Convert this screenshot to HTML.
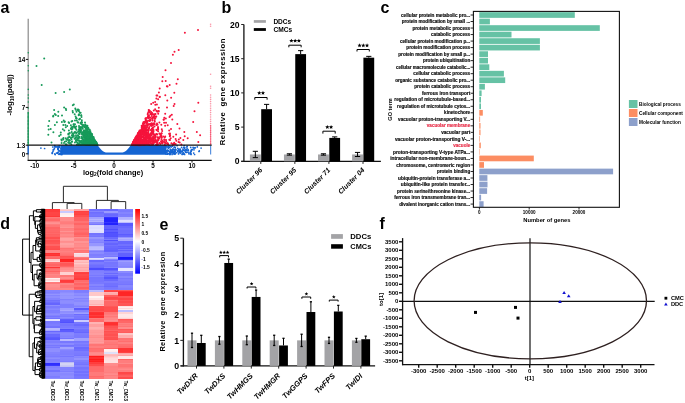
<!DOCTYPE html>
<html><head><meta charset="utf-8"><style>
html,body{margin:0;padding:0;background:#fff;width:685px;height:403px;overflow:hidden}
svg{display:block;will-change:transform}
text{font-family:"Liberation Sans",sans-serif}
</style></head><body>
<svg width="685" height="403" viewBox="0 0 685 403">
<rect width="685" height="403" fill="#fff"/>
<text x="0.60" y="13.00" font-size="16" font-weight="bold" text-anchor="start" fill="#000" >a</text>
<text x="221.40" y="12.90" font-size="16" font-weight="bold" text-anchor="start" fill="#000" >b</text>
<text x="380.60" y="13.00" font-size="16" font-weight="bold" text-anchor="start" fill="#000" >c</text>
<text x="0.30" y="228.60" font-size="16" font-weight="bold" text-anchor="start" fill="#000" >d</text>
<text x="159.60" y="230.20" font-size="16" font-weight="bold" text-anchor="start" fill="#000" >e</text>
<text x="379.40" y="229.00" font-size="16" font-weight="bold" text-anchor="start" fill="#000" >f</text>
<line x1="28.2" y1="18.7" x2="28.2" y2="160.6" stroke="#8a8a8a" stroke-width="1.2"/>
<path d="M61 145.2 H97.7 C100 148.5 103 152.6 107.5 152.6 H121 C125.5 152.6 128.5 148.5 130.7 145.2 H166 V154.7 H61 Z" fill="#1464d2"/>
<g fill="#1464d2"><circle cx="56.6" cy="146.8" r="0.85"/><circle cx="53.0" cy="151.3" r="0.85"/><circle cx="40.9" cy="148.1" r="0.85"/><circle cx="53.2" cy="149.9" r="0.85"/><circle cx="61.9" cy="154.6" r="0.85"/><circle cx="54.4" cy="148.7" r="0.85"/><circle cx="60.9" cy="153.3" r="0.85"/><circle cx="61.5" cy="149.4" r="0.85"/><circle cx="52.4" cy="152.7" r="0.85"/><circle cx="55.7" cy="147.0" r="0.85"/><circle cx="52.7" cy="147.0" r="0.85"/><circle cx="44.6" cy="148.5" r="0.85"/><circle cx="60.9" cy="150.2" r="0.85"/><circle cx="58.5" cy="147.6" r="0.85"/><circle cx="61.1" cy="153.0" r="0.85"/><circle cx="58.0" cy="149.4" r="0.85"/><circle cx="58.0" cy="148.2" r="0.85"/><circle cx="59.2" cy="146.2" r="0.85"/><circle cx="57.6" cy="153.3" r="0.85"/><circle cx="54.8" cy="153.9" r="0.85"/><circle cx="57.7" cy="146.8" r="0.85"/><circle cx="60.9" cy="154.4" r="0.85"/><circle cx="58.9" cy="150.9" r="0.85"/><circle cx="59.0" cy="154.3" r="0.85"/><circle cx="55.2" cy="154.6" r="0.85"/><circle cx="61.2" cy="148.8" r="0.85"/><circle cx="61.0" cy="153.4" r="0.85"/><circle cx="59.9" cy="153.4" r="0.85"/><circle cx="58.2" cy="149.0" r="0.85"/><circle cx="58.1" cy="146.3" r="0.85"/><circle cx="61.9" cy="153.5" r="0.85"/><circle cx="56.4" cy="153.1" r="0.85"/><circle cx="59.5" cy="145.9" r="0.85"/><circle cx="54.6" cy="145.7" r="0.85"/><circle cx="58.8" cy="147.4" r="0.85"/><circle cx="61.1" cy="151.5" r="0.85"/><circle cx="60.9" cy="148.5" r="0.85"/><circle cx="61.1" cy="153.5" r="0.85"/><circle cx="57.8" cy="148.4" r="0.85"/><circle cx="59.1" cy="154.2" r="0.85"/><circle cx="53.7" cy="149.7" r="0.85"/><circle cx="61.8" cy="149.7" r="0.85"/><circle cx="52.3" cy="153.5" r="0.85"/><circle cx="59.1" cy="150.7" r="0.85"/><circle cx="59.9" cy="145.8" r="0.85"/><circle cx="54.4" cy="146.9" r="0.85"/><circle cx="58.3" cy="149.6" r="0.85"/><circle cx="58.8" cy="147.4" r="0.85"/><circle cx="59.1" cy="147.2" r="0.85"/><circle cx="58.1" cy="152.4" r="0.85"/><circle cx="59.9" cy="153.8" r="0.85"/><circle cx="61.3" cy="152.1" r="0.85"/><circle cx="60.0" cy="154.1" r="0.85"/><circle cx="60.2" cy="151.4" r="0.85"/><circle cx="61.8" cy="150.4" r="0.85"/><circle cx="55.5" cy="146.3" r="0.85"/><circle cx="57.5" cy="152.5" r="0.85"/><circle cx="52.3" cy="152.9" r="0.85"/><circle cx="60.0" cy="147.2" r="0.85"/><circle cx="197.3" cy="146.9" r="0.85"/><circle cx="185.6" cy="151.0" r="0.85"/><circle cx="176.0" cy="149.9" r="0.85"/><circle cx="184.5" cy="148.5" r="0.85"/><circle cx="190.3" cy="153.9" r="0.85"/><circle cx="174.3" cy="151.8" r="0.85"/><circle cx="179.6" cy="151.2" r="0.85"/><circle cx="175.3" cy="147.4" r="0.85"/><circle cx="182.9" cy="149.0" r="0.85"/><circle cx="186.7" cy="147.0" r="0.85"/><circle cx="194.8" cy="147.9" r="0.85"/><circle cx="170.2" cy="149.2" r="0.85"/><circle cx="165.7" cy="147.4" r="0.85"/><circle cx="193.1" cy="147.3" r="0.85"/><circle cx="169.4" cy="145.9" r="0.85"/><circle cx="186.1" cy="150.7" r="0.85"/><circle cx="167.5" cy="154.2" r="0.85"/><circle cx="165.5" cy="151.9" r="0.85"/><circle cx="172.4" cy="149.7" r="0.85"/><circle cx="181.6" cy="147.4" r="0.85"/><circle cx="184.2" cy="145.7" r="0.85"/><circle cx="191.2" cy="151.2" r="0.85"/><circle cx="165.9" cy="151.1" r="0.85"/><circle cx="175.5" cy="149.2" r="0.85"/><circle cx="173.0" cy="149.0" r="0.85"/><circle cx="175.3" cy="153.8" r="0.85"/><circle cx="168.1" cy="151.0" r="0.85"/><circle cx="166.8" cy="154.0" r="0.85"/><circle cx="177.1" cy="145.7" r="0.85"/><circle cx="166.8" cy="147.0" r="0.85"/><circle cx="168.0" cy="153.7" r="0.85"/><circle cx="184.6" cy="154.4" r="0.85"/><circle cx="183.7" cy="147.4" r="0.85"/><circle cx="192.4" cy="149.7" r="0.85"/><circle cx="195.1" cy="147.7" r="0.85"/><circle cx="166.6" cy="146.1" r="0.85"/><circle cx="182.4" cy="151.2" r="0.85"/><circle cx="187.2" cy="146.3" r="0.85"/><circle cx="180.3" cy="149.9" r="0.85"/><circle cx="168.0" cy="146.7" r="0.85"/><circle cx="190.6" cy="152.5" r="0.85"/><circle cx="169.0" cy="153.5" r="0.85"/><circle cx="168.4" cy="150.7" r="0.85"/><circle cx="168.1" cy="147.5" r="0.85"/><circle cx="168.4" cy="148.3" r="0.85"/><circle cx="193.5" cy="148.1" r="0.85"/><circle cx="179.7" cy="152.1" r="0.85"/><circle cx="169.8" cy="152.0" r="0.85"/><circle cx="183.0" cy="152.8" r="0.85"/><circle cx="180.0" cy="148.9" r="0.85"/><circle cx="201.1" cy="148.1" r="0.85"/><circle cx="167.6" cy="150.5" r="0.85"/><circle cx="168.4" cy="146.3" r="0.85"/><circle cx="170.9" cy="152.3" r="0.85"/><circle cx="186.4" cy="152.5" r="0.85"/><circle cx="173.4" cy="149.4" r="0.85"/><circle cx="169.7" cy="151.4" r="0.85"/><circle cx="172.4" cy="146.2" r="0.85"/><circle cx="188.9" cy="153.8" r="0.85"/><circle cx="169.5" cy="147.3" r="0.85"/><circle cx="174.7" cy="152.1" r="0.85"/><circle cx="174.2" cy="147.3" r="0.85"/><circle cx="172.1" cy="152.4" r="0.85"/><circle cx="184.8" cy="147.6" r="0.85"/><circle cx="186.6" cy="150.2" r="0.85"/><circle cx="165.4" cy="149.9" r="0.85"/><circle cx="171.4" cy="147.0" r="0.85"/><circle cx="175.6" cy="153.4" r="0.85"/><circle cx="191.1" cy="154.5" r="0.85"/><circle cx="165.1" cy="153.0" r="0.85"/><circle cx="182.1" cy="153.9" r="0.85"/><circle cx="177.8" cy="148.4" r="0.85"/><circle cx="179.7" cy="151.8" r="0.85"/><circle cx="199.0" cy="151.5" r="0.85"/><circle cx="180.5" cy="152.0" r="0.85"/><circle cx="188.1" cy="149.7" r="0.85"/><circle cx="187.1" cy="148.3" r="0.85"/><circle cx="181.1" cy="151.6" r="0.85"/><circle cx="173.2" cy="152.2" r="0.85"/><circle cx="178.6" cy="153.0" r="0.85"/><circle cx="170.8" cy="146.4" r="0.85"/><circle cx="199.3" cy="150.9" r="0.85"/><circle cx="174.3" cy="147.0" r="0.85"/><circle cx="178.6" cy="149.3" r="0.85"/><circle cx="165.8" cy="148.6" r="0.85"/><circle cx="190.7" cy="147.4" r="0.85"/><circle cx="175.0" cy="150.8" r="0.85"/><circle cx="178.5" cy="154.0" r="0.85"/><circle cx="170.6" cy="153.7" r="0.85"/><circle cx="188.0" cy="150.6" r="0.85"/><circle cx="174.5" cy="154.1" r="0.85"/><circle cx="183.9" cy="153.7" r="0.85"/><circle cx="183.1" cy="149.9" r="0.85"/><circle cx="191.5" cy="149.6" r="0.85"/><circle cx="180.4" cy="150.2" r="0.85"/><circle cx="173.7" cy="152.4" r="0.85"/><circle cx="169.8" cy="154.4" r="0.85"/><circle cx="167.3" cy="150.1" r="0.85"/><circle cx="181.6" cy="151.5" r="0.85"/><circle cx="187.9" cy="152.2" r="0.85"/><circle cx="175.1" cy="151.5" r="0.85"/><circle cx="183.7" cy="154.1" r="0.85"/><circle cx="174.9" cy="151.2" r="0.85"/><circle cx="176.8" cy="152.5" r="0.85"/><circle cx="166.0" cy="154.1" r="0.85"/><circle cx="180.6" cy="150.6" r="0.85"/><circle cx="171.7" cy="152.7" r="0.85"/><circle cx="194.0" cy="149.8" r="0.85"/><circle cx="193.7" cy="153.1" r="0.85"/><circle cx="167.6" cy="150.6" r="0.85"/><circle cx="188.4" cy="150.5" r="0.85"/><circle cx="184.5" cy="150.7" r="0.85"/><circle cx="179.5" cy="152.2" r="0.85"/><circle cx="166.5" cy="152.6" r="0.85"/><circle cx="173.3" cy="153.6" r="0.85"/><circle cx="174.4" cy="153.4" r="0.85"/><circle cx="174.2" cy="152.3" r="0.85"/><circle cx="194.6" cy="154.5" r="0.85"/><circle cx="180.2" cy="153.3" r="0.85"/><circle cx="183.3" cy="152.8" r="0.85"/><circle cx="182.2" cy="154.4" r="0.85"/><circle cx="172.8" cy="151.7" r="0.85"/><circle cx="191.0" cy="153.5" r="0.85"/><circle cx="170.9" cy="150.3" r="0.85"/><circle cx="181.4" cy="151.7" r="0.85"/><circle cx="173.7" cy="153.6" r="0.85"/><circle cx="191.1" cy="150.7" r="0.85"/><circle cx="175.3" cy="149.7" r="0.85"/><circle cx="185.5" cy="152.2" r="0.85"/><circle cx="170.7" cy="150.8" r="0.85"/><circle cx="167.0" cy="151.6" r="0.85"/><circle cx="172.1" cy="154.4" r="0.85"/><circle cx="169.8" cy="151.8" r="0.85"/><circle cx="166.3" cy="150.7" r="0.85"/><circle cx="169.7" cy="151.5" r="0.85"/><circle cx="179.0" cy="149.9" r="0.85"/><circle cx="172.6" cy="150.8" r="0.85"/><circle cx="185.2" cy="149.7" r="0.85"/><circle cx="186.4" cy="149.8" r="0.85"/><circle cx="172.1" cy="151.3" r="0.85"/><circle cx="183.1" cy="150.3" r="0.85"/><circle cx="172.1" cy="151.9" r="0.85"/><circle cx="167.4" cy="153.0" r="0.85"/><circle cx="174.1" cy="149.6" r="0.85"/><circle cx="170.1" cy="154.3" r="0.85"/><circle cx="165.7" cy="151.1" r="0.85"/><circle cx="167.7" cy="154.0" r="0.85"/><circle cx="190.4" cy="152.1" r="0.85"/><circle cx="178.0" cy="150.7" r="0.85"/><circle cx="170.0" cy="152.5" r="0.85"/><circle cx="175.3" cy="151.7" r="0.85"/><circle cx="169.5" cy="153.1" r="0.85"/><circle cx="188.9" cy="152.9" r="0.85"/><circle cx="171.8" cy="150.9" r="0.85"/><circle cx="172.5" cy="151.0" r="0.85"/><circle cx="172.1" cy="149.7" r="0.85"/><circle cx="172.7" cy="152.7" r="0.85"/><circle cx="179.1" cy="151.5" r="0.85"/><circle cx="177.7" cy="151.2" r="0.85"/><circle cx="174.2" cy="150.3" r="0.85"/></g>
<g fill="#179a5a"><circle cx="89.8" cy="142.5" r="1.0"/><circle cx="84.5" cy="136.4" r="1.0"/><circle cx="83.0" cy="144.7" r="1.0"/><circle cx="51.5" cy="142.6" r="1.0"/><circle cx="82.7" cy="128.8" r="1.0"/><circle cx="88.6" cy="143.8" r="1.0"/><circle cx="82.4" cy="138.4" r="1.0"/><circle cx="85.8" cy="144.5" r="1.0"/><circle cx="95.6" cy="142.0" r="1.0"/><circle cx="83.7" cy="139.5" r="1.0"/><circle cx="68.4" cy="133.7" r="1.0"/><circle cx="84.3" cy="130.7" r="1.0"/><circle cx="86.5" cy="125.8" r="1.0"/><circle cx="68.8" cy="142.8" r="1.0"/><circle cx="89.7" cy="136.1" r="1.0"/><circle cx="91.6" cy="140.7" r="1.0"/><circle cx="72.8" cy="137.2" r="1.0"/><circle cx="64.8" cy="121.5" r="1.0"/><circle cx="90.7" cy="135.2" r="1.0"/><circle cx="55.8" cy="115.0" r="1.0"/><circle cx="89.5" cy="133.9" r="1.0"/><circle cx="90.6" cy="137.1" r="1.0"/><circle cx="84.1" cy="144.1" r="1.0"/><circle cx="94.0" cy="143.7" r="1.0"/><circle cx="87.3" cy="126.5" r="1.0"/><circle cx="87.2" cy="144.5" r="1.0"/><circle cx="48.3" cy="125.9" r="1.0"/><circle cx="95.2" cy="141.7" r="1.0"/><circle cx="95.7" cy="144.7" r="1.0"/><circle cx="91.6" cy="136.2" r="1.0"/><circle cx="84.3" cy="127.1" r="1.0"/><circle cx="82.0" cy="124.5" r="1.0"/><circle cx="85.2" cy="138.5" r="1.0"/><circle cx="85.2" cy="137.9" r="1.0"/><circle cx="89.4" cy="138.8" r="1.0"/><circle cx="93.4" cy="142.8" r="1.0"/><circle cx="87.2" cy="138.1" r="1.0"/><circle cx="87.7" cy="139.9" r="1.0"/><circle cx="84.2" cy="136.1" r="1.0"/><circle cx="87.3" cy="136.2" r="1.0"/><circle cx="85.2" cy="141.2" r="1.0"/><circle cx="97.0" cy="144.9" r="1.0"/><circle cx="78.7" cy="115.2" r="1.0"/><circle cx="89.9" cy="136.8" r="1.0"/><circle cx="92.0" cy="141.7" r="1.0"/><circle cx="92.0" cy="141.9" r="1.0"/><circle cx="90.7" cy="144.9" r="1.0"/><circle cx="93.7" cy="141.8" r="1.0"/><circle cx="94.6" cy="142.5" r="1.0"/><circle cx="90.9" cy="134.1" r="1.0"/><circle cx="80.7" cy="141.3" r="1.0"/><circle cx="86.6" cy="127.5" r="1.0"/><circle cx="73.2" cy="135.5" r="1.0"/><circle cx="95.3" cy="142.7" r="1.0"/><circle cx="83.1" cy="143.3" r="1.0"/><circle cx="94.0" cy="143.4" r="1.0"/><circle cx="78.1" cy="135.7" r="1.0"/><circle cx="94.1" cy="143.9" r="1.0"/><circle cx="92.6" cy="142.1" r="1.0"/><circle cx="90.5" cy="140.4" r="1.0"/><circle cx="96.8" cy="143.7" r="1.0"/><circle cx="69.4" cy="140.1" r="1.0"/><circle cx="85.1" cy="142.9" r="1.0"/><circle cx="85.8" cy="135.1" r="1.0"/><circle cx="93.4" cy="141.0" r="1.0"/><circle cx="90.4" cy="137.2" r="1.0"/><circle cx="78.6" cy="144.7" r="1.0"/><circle cx="61.9" cy="122.1" r="1.0"/><circle cx="93.4" cy="137.4" r="1.0"/><circle cx="93.8" cy="143.4" r="1.0"/><circle cx="89.4" cy="138.6" r="1.0"/><circle cx="89.4" cy="136.3" r="1.0"/><circle cx="81.8" cy="127.4" r="1.0"/><circle cx="93.7" cy="141.1" r="1.0"/><circle cx="87.7" cy="129.9" r="1.0"/><circle cx="68.6" cy="122.3" r="1.0"/><circle cx="89.6" cy="145.1" r="1.0"/><circle cx="94.8" cy="144.4" r="1.0"/><circle cx="89.3" cy="138.2" r="1.0"/><circle cx="90.4" cy="131.2" r="1.0"/><circle cx="95.9" cy="143.5" r="1.0"/><circle cx="58.3" cy="111.7" r="1.0"/><circle cx="91.0" cy="138.6" r="1.0"/><circle cx="86.8" cy="141.2" r="1.0"/><circle cx="93.7" cy="140.9" r="1.0"/><circle cx="90.4" cy="143.9" r="1.0"/><circle cx="94.6" cy="140.5" r="1.0"/><circle cx="87.6" cy="141.0" r="1.0"/><circle cx="81.7" cy="140.8" r="1.0"/><circle cx="90.9" cy="139.9" r="1.0"/><circle cx="86.9" cy="134.2" r="1.0"/><circle cx="92.2" cy="139.5" r="1.0"/><circle cx="91.3" cy="134.3" r="1.0"/><circle cx="77.0" cy="140.3" r="1.0"/><circle cx="76.2" cy="141.0" r="1.0"/><circle cx="91.0" cy="142.0" r="1.0"/><circle cx="79.3" cy="130.1" r="1.0"/><circle cx="79.7" cy="131.0" r="1.0"/><circle cx="92.7" cy="137.6" r="1.0"/><circle cx="96.3" cy="145.1" r="1.0"/><circle cx="96.6" cy="144.4" r="1.0"/><circle cx="85.5" cy="125.6" r="1.0"/><circle cx="87.6" cy="128.6" r="1.0"/><circle cx="76.0" cy="135.2" r="1.0"/><circle cx="79.4" cy="136.9" r="1.0"/><circle cx="84.0" cy="132.0" r="1.0"/><circle cx="85.9" cy="144.2" r="1.0"/><circle cx="94.1" cy="144.5" r="1.0"/><circle cx="86.5" cy="129.0" r="1.0"/><circle cx="88.3" cy="142.6" r="1.0"/><circle cx="91.3" cy="140.4" r="1.0"/><circle cx="91.0" cy="140.9" r="1.0"/><circle cx="63.1" cy="138.7" r="1.0"/><circle cx="89.4" cy="132.7" r="1.0"/><circle cx="80.5" cy="132.3" r="1.0"/><circle cx="85.6" cy="139.3" r="1.0"/><circle cx="96.0" cy="143.7" r="1.0"/><circle cx="78.3" cy="122.6" r="1.0"/><circle cx="89.7" cy="133.4" r="1.0"/><circle cx="89.3" cy="142.9" r="1.0"/><circle cx="86.7" cy="142.9" r="1.0"/><circle cx="85.8" cy="141.8" r="1.0"/><circle cx="79.9" cy="127.6" r="1.0"/><circle cx="96.2" cy="142.8" r="1.0"/><circle cx="93.7" cy="140.6" r="1.0"/><circle cx="83.3" cy="141.3" r="1.0"/><circle cx="86.6" cy="139.1" r="1.0"/><circle cx="72.4" cy="128.8" r="1.0"/><circle cx="83.5" cy="139.3" r="1.0"/><circle cx="84.0" cy="140.7" r="1.0"/><circle cx="92.4" cy="139.2" r="1.0"/><circle cx="81.3" cy="133.9" r="1.0"/><circle cx="85.7" cy="127.5" r="1.0"/><circle cx="94.5" cy="142.4" r="1.0"/><circle cx="65.8" cy="127.2" r="1.0"/><circle cx="84.4" cy="126.9" r="1.0"/><circle cx="90.5" cy="133.0" r="1.0"/><circle cx="85.7" cy="128.8" r="1.0"/><circle cx="83.6" cy="136.9" r="1.0"/><circle cx="90.9" cy="141.3" r="1.0"/><circle cx="89.3" cy="143.2" r="1.0"/><circle cx="88.6" cy="140.3" r="1.0"/><circle cx="87.0" cy="141.9" r="1.0"/><circle cx="63.3" cy="125.1" r="1.0"/><circle cx="79.1" cy="119.6" r="1.0"/><circle cx="87.6" cy="132.4" r="1.0"/><circle cx="77.8" cy="135.3" r="1.0"/><circle cx="60.8" cy="132.5" r="1.0"/><circle cx="92.9" cy="138.1" r="1.0"/><circle cx="84.9" cy="141.2" r="1.0"/><circle cx="91.9" cy="137.6" r="1.0"/><circle cx="91.1" cy="136.3" r="1.0"/><circle cx="91.3" cy="135.7" r="1.0"/><circle cx="93.6" cy="143.8" r="1.0"/><circle cx="86.1" cy="136.9" r="1.0"/><circle cx="91.5" cy="139.3" r="1.0"/><circle cx="87.1" cy="144.5" r="1.0"/><circle cx="82.1" cy="137.9" r="1.0"/><circle cx="92.1" cy="142.4" r="1.0"/><circle cx="91.7" cy="144.5" r="1.0"/><circle cx="86.5" cy="131.7" r="1.0"/><circle cx="88.5" cy="140.5" r="1.0"/><circle cx="79.8" cy="140.9" r="1.0"/><circle cx="95.2" cy="141.9" r="1.0"/><circle cx="78.2" cy="131.2" r="1.0"/><circle cx="92.2" cy="143.3" r="1.0"/><circle cx="76.4" cy="129.8" r="1.0"/><circle cx="92.7" cy="143.4" r="1.0"/><circle cx="86.7" cy="138.1" r="1.0"/><circle cx="83.7" cy="142.1" r="1.0"/><circle cx="68.9" cy="130.6" r="1.0"/><circle cx="88.5" cy="140.7" r="1.0"/><circle cx="59.2" cy="136.1" r="1.0"/><circle cx="79.5" cy="141.8" r="1.0"/><circle cx="81.8" cy="136.4" r="1.0"/><circle cx="80.5" cy="131.8" r="1.0"/><circle cx="88.7" cy="138.1" r="1.0"/><circle cx="93.7" cy="138.2" r="1.0"/><circle cx="87.4" cy="135.7" r="1.0"/><circle cx="58.2" cy="116.0" r="1.0"/><circle cx="80.9" cy="130.6" r="1.0"/><circle cx="93.2" cy="140.7" r="1.0"/><circle cx="70.8" cy="137.9" r="1.0"/><circle cx="76.2" cy="126.4" r="1.0"/><circle cx="79.3" cy="127.7" r="1.0"/><circle cx="79.3" cy="133.6" r="1.0"/><circle cx="64.3" cy="130.4" r="1.0"/><circle cx="82.8" cy="139.8" r="1.0"/><circle cx="96.7" cy="143.7" r="1.0"/><circle cx="95.1" cy="143.0" r="1.0"/><circle cx="84.9" cy="134.1" r="1.0"/><circle cx="89.4" cy="135.5" r="1.0"/><circle cx="86.1" cy="132.1" r="1.0"/><circle cx="73.8" cy="124.2" r="1.0"/><circle cx="89.0" cy="140.9" r="1.0"/><circle cx="96.4" cy="142.5" r="1.0"/><circle cx="88.9" cy="131.2" r="1.0"/><circle cx="94.6" cy="142.8" r="1.0"/><circle cx="93.6" cy="140.1" r="1.0"/><circle cx="95.6" cy="143.9" r="1.0"/><circle cx="97.1" cy="144.4" r="1.0"/><circle cx="84.8" cy="140.0" r="1.0"/><circle cx="90.9" cy="140.1" r="1.0"/><circle cx="78.8" cy="114.4" r="1.0"/><circle cx="93.0" cy="139.3" r="1.0"/><circle cx="94.5" cy="140.9" r="1.0"/><circle cx="88.4" cy="133.5" r="1.0"/><circle cx="71.5" cy="139.2" r="1.0"/><circle cx="93.7" cy="142.6" r="1.0"/><circle cx="89.1" cy="135.8" r="1.0"/><circle cx="60.7" cy="134.7" r="1.0"/><circle cx="97.3" cy="144.7" r="1.0"/><circle cx="96.4" cy="143.1" r="1.0"/><circle cx="71.9" cy="135.3" r="1.0"/><circle cx="72.9" cy="112.4" r="1.0"/><circle cx="56.9" cy="122.3" r="1.0"/><circle cx="88.1" cy="142.0" r="1.0"/><circle cx="94.4" cy="144.4" r="1.0"/><circle cx="93.0" cy="143.8" r="1.0"/><circle cx="68.4" cy="134.5" r="1.0"/><circle cx="79.0" cy="133.1" r="1.0"/><circle cx="71.3" cy="137.7" r="1.0"/><circle cx="92.8" cy="140.3" r="1.0"/><circle cx="91.8" cy="138.9" r="1.0"/><circle cx="83.0" cy="133.6" r="1.0"/><circle cx="89.6" cy="140.4" r="1.0"/><circle cx="91.5" cy="133.8" r="1.0"/><circle cx="80.3" cy="132.0" r="1.0"/><circle cx="81.0" cy="142.6" r="1.0"/><circle cx="67.2" cy="126.0" r="1.0"/><circle cx="73.5" cy="124.5" r="1.0"/><circle cx="94.8" cy="140.8" r="1.0"/><circle cx="81.5" cy="117.0" r="1.0"/><circle cx="96.4" cy="144.0" r="1.0"/><circle cx="95.9" cy="142.3" r="1.0"/><circle cx="84.8" cy="135.4" r="1.0"/><circle cx="68.2" cy="142.5" r="1.0"/><circle cx="88.9" cy="137.7" r="1.0"/><circle cx="79.4" cy="136.7" r="1.0"/><circle cx="95.0" cy="142.9" r="1.0"/><circle cx="88.1" cy="129.0" r="1.0"/><circle cx="79.0" cy="114.7" r="1.0"/><circle cx="92.1" cy="144.0" r="1.0"/><circle cx="80.0" cy="129.2" r="1.0"/><circle cx="71.7" cy="132.0" r="1.0"/><circle cx="88.0" cy="136.4" r="1.0"/><circle cx="80.3" cy="129.0" r="1.0"/><circle cx="90.1" cy="142.9" r="1.0"/><circle cx="90.7" cy="133.2" r="1.0"/><circle cx="93.8" cy="139.1" r="1.0"/><circle cx="86.2" cy="133.1" r="1.0"/><circle cx="91.0" cy="136.5" r="1.0"/><circle cx="90.9" cy="141.1" r="1.0"/><circle cx="94.9" cy="143.0" r="1.0"/><circle cx="72.4" cy="133.6" r="1.0"/><circle cx="69.4" cy="136.5" r="1.0"/><circle cx="69.9" cy="140.4" r="1.0"/><circle cx="76.3" cy="118.3" r="1.0"/><circle cx="82.0" cy="122.5" r="1.0"/><circle cx="95.8" cy="143.3" r="1.0"/><circle cx="89.8" cy="141.9" r="1.0"/><circle cx="86.4" cy="144.5" r="1.0"/><circle cx="91.3" cy="140.0" r="1.0"/><circle cx="87.9" cy="132.4" r="1.0"/><circle cx="91.5" cy="141.5" r="1.0"/><circle cx="85.1" cy="143.6" r="1.0"/><circle cx="83.0" cy="126.0" r="1.0"/><circle cx="90.6" cy="141.7" r="1.0"/><circle cx="90.0" cy="138.2" r="1.0"/><circle cx="90.8" cy="142.2" r="1.0"/><circle cx="86.4" cy="130.0" r="1.0"/><circle cx="89.7" cy="130.0" r="1.0"/><circle cx="87.3" cy="138.0" r="1.0"/><circle cx="95.5" cy="144.7" r="1.0"/><circle cx="61.4" cy="139.5" r="1.0"/><circle cx="78.7" cy="109.9" r="1.0"/><circle cx="93.0" cy="144.8" r="1.0"/><circle cx="91.0" cy="144.3" r="1.0"/><circle cx="93.5" cy="141.8" r="1.0"/><circle cx="92.5" cy="139.9" r="1.0"/><circle cx="86.5" cy="140.1" r="1.0"/><circle cx="69.1" cy="122.9" r="1.0"/><circle cx="85.4" cy="143.9" r="1.0"/><circle cx="78.8" cy="138.6" r="1.0"/><circle cx="94.5" cy="141.8" r="1.0"/><circle cx="72.4" cy="136.0" r="1.0"/><circle cx="85.2" cy="139.6" r="1.0"/><circle cx="80.8" cy="129.8" r="1.0"/><circle cx="92.5" cy="138.2" r="1.0"/><circle cx="48.3" cy="134.7" r="1.0"/><circle cx="91.4" cy="140.3" r="1.0"/><circle cx="84.2" cy="130.7" r="1.0"/><circle cx="93.7" cy="143.5" r="1.0"/><circle cx="78.9" cy="140.4" r="1.0"/><circle cx="75.0" cy="120.6" r="1.0"/><circle cx="86.5" cy="137.3" r="1.0"/><circle cx="85.8" cy="142.3" r="1.0"/><circle cx="88.1" cy="143.9" r="1.0"/><circle cx="74.6" cy="138.8" r="1.0"/><circle cx="90.7" cy="136.0" r="1.0"/><circle cx="92.7" cy="143.4" r="1.0"/><circle cx="93.2" cy="141.8" r="1.0"/><circle cx="79.8" cy="119.0" r="1.0"/><circle cx="94.9" cy="141.9" r="1.0"/><circle cx="77.9" cy="109.6" r="1.0"/><circle cx="95.9" cy="143.0" r="1.0"/><circle cx="74.3" cy="132.8" r="1.0"/><circle cx="89.4" cy="129.5" r="1.0"/><circle cx="81.3" cy="115.6" r="1.0"/><circle cx="91.8" cy="139.1" r="1.0"/><circle cx="95.2" cy="144.8" r="1.0"/><circle cx="77.7" cy="143.4" r="1.0"/><circle cx="82.9" cy="134.7" r="1.0"/><circle cx="85.9" cy="144.3" r="1.0"/><circle cx="82.4" cy="143.3" r="1.0"/><circle cx="71.3" cy="144.6" r="1.0"/><circle cx="94.3" cy="140.6" r="1.0"/><circle cx="72.8" cy="105.3" r="1.0"/><circle cx="95.7" cy="143.5" r="1.0"/><circle cx="85.0" cy="122.6" r="1.0"/><circle cx="75.7" cy="109.7" r="1.0"/><circle cx="76.1" cy="118.0" r="1.0"/><circle cx="95.6" cy="141.5" r="1.0"/><circle cx="76.9" cy="132.6" r="1.0"/><circle cx="88.0" cy="139.4" r="1.0"/><circle cx="78.4" cy="137.9" r="1.0"/><circle cx="69.5" cy="137.1" r="1.0"/><circle cx="69.6" cy="143.4" r="1.0"/><circle cx="94.2" cy="143.2" r="1.0"/><circle cx="66.5" cy="144.5" r="1.0"/><circle cx="86.6" cy="126.2" r="1.0"/><circle cx="72.3" cy="126.9" r="1.0"/><circle cx="85.3" cy="134.7" r="1.0"/><circle cx="90.9" cy="144.1" r="1.0"/><circle cx="89.4" cy="143.5" r="1.0"/><circle cx="90.2" cy="138.5" r="1.0"/><circle cx="87.8" cy="141.3" r="1.0"/><circle cx="63.7" cy="120.4" r="1.0"/><circle cx="64.8" cy="141.8" r="1.0"/><circle cx="91.3" cy="144.0" r="1.0"/><circle cx="86.9" cy="141.1" r="1.0"/><circle cx="74.7" cy="114.3" r="1.0"/><circle cx="75.9" cy="138.5" r="1.0"/><circle cx="89.0" cy="138.3" r="1.0"/><circle cx="92.8" cy="144.6" r="1.0"/><circle cx="89.9" cy="131.7" r="1.0"/><circle cx="61.7" cy="140.6" r="1.0"/><circle cx="89.9" cy="143.1" r="1.0"/><circle cx="77.7" cy="140.1" r="1.0"/><circle cx="92.5" cy="141.0" r="1.0"/><circle cx="91.2" cy="140.5" r="1.0"/><circle cx="79.0" cy="126.1" r="1.0"/><circle cx="92.6" cy="142.8" r="1.0"/><circle cx="96.2" cy="143.5" r="1.0"/><circle cx="95.8" cy="142.0" r="1.0"/><circle cx="77.6" cy="122.3" r="1.0"/><circle cx="71.8" cy="129.4" r="1.0"/><circle cx="85.0" cy="139.5" r="1.0"/><circle cx="82.8" cy="125.9" r="1.0"/><circle cx="83.7" cy="124.9" r="1.0"/><circle cx="80.6" cy="129.1" r="1.0"/><circle cx="94.0" cy="144.4" r="1.0"/><circle cx="87.1" cy="128.8" r="1.0"/><circle cx="89.2" cy="140.5" r="1.0"/><circle cx="83.3" cy="136.0" r="1.0"/><circle cx="65.8" cy="144.2" r="1.0"/><circle cx="92.5" cy="144.4" r="1.0"/><circle cx="97.2" cy="144.4" r="1.0"/><circle cx="75.9" cy="140.3" r="1.0"/><circle cx="91.1" cy="141.4" r="1.0"/><circle cx="85.1" cy="125.5" r="1.0"/><circle cx="88.9" cy="143.9" r="1.0"/><circle cx="76.8" cy="120.4" r="1.0"/><circle cx="95.0" cy="144.2" r="1.0"/><circle cx="80.8" cy="127.3" r="1.0"/><circle cx="65.8" cy="108.8" r="1.0"/><circle cx="93.6" cy="143.2" r="1.0"/><circle cx="90.8" cy="143.8" r="1.0"/><circle cx="83.2" cy="141.3" r="1.0"/><circle cx="75.2" cy="127.3" r="1.0"/><circle cx="92.7" cy="144.3" r="1.0"/><circle cx="79.8" cy="142.9" r="1.0"/><circle cx="62.8" cy="129.2" r="1.0"/><circle cx="80.8" cy="122.8" r="1.0"/><circle cx="96.3" cy="143.1" r="1.0"/><circle cx="79.2" cy="140.8" r="1.0"/><circle cx="93.2" cy="144.4" r="1.0"/><circle cx="94.3" cy="143.1" r="1.0"/><circle cx="88.2" cy="134.1" r="1.0"/><circle cx="91.6" cy="142.8" r="1.0"/><circle cx="86.3" cy="142.3" r="1.0"/><circle cx="83.8" cy="134.8" r="1.0"/><circle cx="86.3" cy="132.5" r="1.0"/><circle cx="84.5" cy="136.8" r="1.0"/><circle cx="84.9" cy="144.7" r="1.0"/><circle cx="86.9" cy="138.8" r="1.0"/><circle cx="75.0" cy="124.2" r="1.0"/><circle cx="48.7" cy="129.6" r="1.0"/><circle cx="92.8" cy="139.2" r="1.0"/><circle cx="84.6" cy="141.3" r="1.0"/><circle cx="91.0" cy="144.2" r="1.0"/><circle cx="87.8" cy="139.4" r="1.0"/><circle cx="89.0" cy="139.7" r="1.0"/><circle cx="87.1" cy="129.1" r="1.0"/><circle cx="83.3" cy="132.0" r="1.0"/><circle cx="65.4" cy="125.0" r="1.0"/><circle cx="75.7" cy="128.6" r="1.0"/><circle cx="88.5" cy="145.0" r="1.0"/><circle cx="90.1" cy="141.2" r="1.0"/><circle cx="86.4" cy="142.5" r="1.0"/><circle cx="94.3" cy="140.6" r="1.0"/><circle cx="85.0" cy="141.3" r="1.0"/><circle cx="93.4" cy="140.4" r="1.0"/><circle cx="92.5" cy="137.0" r="1.0"/><circle cx="92.5" cy="139.1" r="1.0"/><circle cx="95.9" cy="143.4" r="1.0"/><circle cx="64.4" cy="121.9" r="1.0"/><circle cx="94.6" cy="140.3" r="1.0"/><circle cx="72.1" cy="141.4" r="1.0"/><circle cx="76.6" cy="118.4" r="1.0"/><circle cx="69.0" cy="142.1" r="1.0"/><circle cx="87.3" cy="137.2" r="1.0"/><circle cx="61.6" cy="142.9" r="1.0"/><circle cx="69.9" cy="132.9" r="1.0"/><circle cx="79.2" cy="133.9" r="1.0"/><circle cx="63.3" cy="139.4" r="1.0"/><circle cx="89.1" cy="132.2" r="1.0"/><circle cx="90.2" cy="142.1" r="1.0"/><circle cx="74.4" cy="126.6" r="1.0"/><circle cx="87.0" cy="134.7" r="1.0"/><circle cx="89.7" cy="142.4" r="1.0"/><circle cx="94.9" cy="140.4" r="1.0"/><circle cx="90.6" cy="135.9" r="1.0"/><circle cx="67.8" cy="138.9" r="1.0"/><circle cx="87.1" cy="133.0" r="1.0"/><circle cx="81.8" cy="137.9" r="1.0"/><circle cx="95.1" cy="143.2" r="1.0"/><circle cx="85.1" cy="133.0" r="1.0"/><circle cx="90.4" cy="143.6" r="1.0"/><circle cx="91.6" cy="136.4" r="1.0"/><circle cx="73.8" cy="136.0" r="1.0"/><circle cx="96.9" cy="145.1" r="1.0"/><circle cx="90.1" cy="140.8" r="1.0"/><circle cx="90.4" cy="136.6" r="1.0"/><circle cx="94.9" cy="145.1" r="1.0"/><circle cx="96.4" cy="143.3" r="1.0"/><circle cx="66.1" cy="141.2" r="1.0"/><circle cx="85.2" cy="130.6" r="1.0"/><circle cx="85.4" cy="139.6" r="1.0"/><circle cx="91.4" cy="142.9" r="1.0"/><circle cx="93.4" cy="141.1" r="1.0"/><circle cx="94.0" cy="144.1" r="1.0"/><circle cx="85.9" cy="137.8" r="1.0"/><circle cx="97.3" cy="144.7" r="1.0"/><circle cx="89.7" cy="142.9" r="1.0"/><circle cx="82.2" cy="132.2" r="1.0"/><circle cx="84.5" cy="133.0" r="1.0"/><circle cx="95.3" cy="141.9" r="1.0"/><circle cx="93.4" cy="139.0" r="1.0"/><circle cx="84.9" cy="137.1" r="1.0"/><circle cx="93.0" cy="143.6" r="1.0"/><circle cx="91.4" cy="143.8" r="1.0"/><circle cx="74.9" cy="142.4" r="1.0"/><circle cx="92.4" cy="144.6" r="1.0"/><circle cx="73.2" cy="134.1" r="1.0"/><circle cx="88.3" cy="144.4" r="1.0"/><circle cx="91.5" cy="139.1" r="1.0"/><circle cx="88.9" cy="143.5" r="1.0"/><circle cx="81.2" cy="115.3" r="1.0"/><circle cx="95.9" cy="143.2" r="1.0"/><circle cx="81.3" cy="138.2" r="1.0"/><circle cx="92.1" cy="136.1" r="1.0"/><circle cx="65.8" cy="138.2" r="1.0"/><circle cx="88.2" cy="144.6" r="1.0"/><circle cx="84.4" cy="140.1" r="1.0"/><circle cx="89.9" cy="140.6" r="1.0"/><circle cx="94.5" cy="144.9" r="1.0"/><circle cx="90.9" cy="142.2" r="1.0"/><circle cx="86.7" cy="141.2" r="1.0"/><circle cx="75.6" cy="116.5" r="1.0"/><circle cx="95.1" cy="141.1" r="1.0"/><circle cx="85.1" cy="136.9" r="1.0"/><circle cx="95.8" cy="143.0" r="1.0"/><circle cx="91.7" cy="139.0" r="1.0"/><circle cx="90.0" cy="137.5" r="1.0"/><circle cx="86.8" cy="144.8" r="1.0"/><circle cx="84.6" cy="140.8" r="1.0"/><circle cx="94.3" cy="142.6" r="1.0"/><circle cx="84.1" cy="136.8" r="1.0"/><circle cx="85.3" cy="144.0" r="1.0"/><circle cx="89.4" cy="140.7" r="1.0"/><circle cx="92.4" cy="143.1" r="1.0"/><circle cx="69.1" cy="133.5" r="1.0"/><circle cx="70.9" cy="125.2" r="1.0"/><circle cx="77.4" cy="110.2" r="1.0"/><circle cx="85.3" cy="124.4" r="1.0"/><circle cx="79.9" cy="118.8" r="1.0"/><circle cx="80.5" cy="123.5" r="1.0"/><circle cx="81.9" cy="142.8" r="1.0"/><circle cx="90.9" cy="141.8" r="1.0"/><circle cx="96.0" cy="142.6" r="1.0"/><circle cx="91.7" cy="141.9" r="1.0"/><circle cx="95.3" cy="142.3" r="1.0"/><circle cx="94.2" cy="142.7" r="1.0"/><circle cx="77.3" cy="142.6" r="1.0"/><circle cx="93.9" cy="141.8" r="1.0"/><circle cx="89.2" cy="137.6" r="1.0"/><circle cx="80.8" cy="142.1" r="1.0"/><circle cx="75.1" cy="132.2" r="1.0"/><circle cx="94.3" cy="142.2" r="1.0"/><circle cx="54.9" cy="114.1" r="1.0"/><circle cx="92.6" cy="137.6" r="1.0"/><circle cx="78.4" cy="144.3" r="1.0"/><circle cx="71.8" cy="141.8" r="1.0"/><circle cx="81.6" cy="122.1" r="1.0"/><circle cx="78.5" cy="143.9" r="1.0"/><circle cx="86.7" cy="141.2" r="1.0"/><circle cx="95.1" cy="142.4" r="1.0"/><circle cx="81.0" cy="144.7" r="1.0"/><circle cx="93.5" cy="143.1" r="1.0"/><circle cx="89.2" cy="141.5" r="1.0"/><circle cx="92.8" cy="141.3" r="1.0"/><circle cx="85.0" cy="131.6" r="1.0"/><circle cx="93.4" cy="138.9" r="1.0"/><circle cx="82.3" cy="128.0" r="1.0"/><circle cx="77.9" cy="138.4" r="1.0"/><circle cx="91.6" cy="140.7" r="1.0"/><circle cx="88.2" cy="137.9" r="1.0"/><circle cx="89.3" cy="139.7" r="1.0"/><circle cx="64.0" cy="142.9" r="1.0"/><circle cx="86.1" cy="127.1" r="1.0"/><circle cx="95.5" cy="142.3" r="1.0"/><circle cx="70.9" cy="128.8" r="1.0"/><circle cx="78.4" cy="109.8" r="1.0"/><circle cx="85.7" cy="144.0" r="1.0"/><circle cx="76.4" cy="133.0" r="1.0"/><circle cx="73.4" cy="134.9" r="1.0"/><circle cx="79.3" cy="144.0" r="1.0"/><circle cx="82.8" cy="144.1" r="1.0"/><circle cx="92.2" cy="135.1" r="1.0"/><circle cx="91.3" cy="133.7" r="1.0"/><circle cx="81.8" cy="120.2" r="1.0"/><circle cx="82.2" cy="132.9" r="1.0"/><circle cx="91.8" cy="134.0" r="1.0"/><circle cx="63.5" cy="137.9" r="1.0"/><circle cx="92.2" cy="137.3" r="1.0"/><circle cx="88.5" cy="139.8" r="1.0"/><circle cx="86.3" cy="143.9" r="1.0"/><circle cx="85.0" cy="127.2" r="1.0"/><circle cx="78.0" cy="143.3" r="1.0"/><circle cx="89.0" cy="140.7" r="1.0"/><circle cx="92.4" cy="141.7" r="1.0"/><circle cx="87.2" cy="131.3" r="1.0"/><circle cx="71.5" cy="121.4" r="1.0"/><circle cx="68.1" cy="140.3" r="1.0"/><circle cx="95.6" cy="142.7" r="1.0"/><circle cx="89.2" cy="137.0" r="1.0"/><circle cx="87.1" cy="135.7" r="1.0"/><circle cx="84.7" cy="136.7" r="1.0"/><circle cx="88.2" cy="138.5" r="1.0"/><circle cx="84.0" cy="143.0" r="1.0"/><circle cx="87.9" cy="128.0" r="1.0"/><circle cx="84.2" cy="139.6" r="1.0"/><circle cx="95.0" cy="142.3" r="1.0"/><circle cx="93.5" cy="137.1" r="1.0"/><circle cx="70.7" cy="143.0" r="1.0"/><circle cx="90.6" cy="137.6" r="1.0"/><circle cx="79.0" cy="129.6" r="1.0"/><circle cx="89.1" cy="139.5" r="1.0"/><circle cx="86.5" cy="130.8" r="1.0"/><circle cx="85.1" cy="136.2" r="1.0"/><circle cx="81.1" cy="127.3" r="1.0"/><circle cx="90.8" cy="144.3" r="1.0"/><circle cx="90.2" cy="137.8" r="1.0"/><circle cx="96.0" cy="144.4" r="1.0"/><circle cx="80.1" cy="127.7" r="1.0"/><circle cx="82.5" cy="133.6" r="1.0"/><circle cx="88.6" cy="132.8" r="1.0"/><circle cx="94.1" cy="143.5" r="1.0"/><circle cx="71.4" cy="127.2" r="1.0"/><circle cx="92.3" cy="143.7" r="1.0"/><circle cx="76.9" cy="144.7" r="1.0"/><circle cx="72.3" cy="120.9" r="1.0"/><circle cx="76.5" cy="111.7" r="1.0"/><circle cx="95.4" cy="144.0" r="1.0"/><circle cx="86.1" cy="144.0" r="1.0"/><circle cx="73.5" cy="126.2" r="1.0"/><circle cx="88.3" cy="128.1" r="1.0"/><circle cx="90.7" cy="141.0" r="1.0"/><circle cx="74.2" cy="126.2" r="1.0"/><circle cx="87.9" cy="134.3" r="1.0"/><circle cx="75.4" cy="132.5" r="1.0"/><circle cx="87.5" cy="140.9" r="1.0"/><circle cx="87.4" cy="125.8" r="1.0"/><circle cx="92.6" cy="139.1" r="1.0"/><circle cx="66.5" cy="139.4" r="1.0"/><circle cx="75.3" cy="137.3" r="1.0"/><circle cx="82.4" cy="143.6" r="1.0"/><circle cx="86.2" cy="132.0" r="1.0"/><circle cx="90.4" cy="135.6" r="1.0"/><circle cx="78.2" cy="137.2" r="1.0"/><circle cx="76.3" cy="141.8" r="1.0"/><circle cx="88.4" cy="140.7" r="1.0"/><circle cx="86.2" cy="135.6" r="1.0"/><circle cx="54.1" cy="110.1" r="1.0"/><circle cx="94.3" cy="142.2" r="1.0"/><circle cx="79.3" cy="129.3" r="1.0"/><circle cx="84.7" cy="133.5" r="1.0"/><circle cx="88.1" cy="137.1" r="1.0"/><circle cx="53.4" cy="132.2" r="1.0"/><circle cx="68.1" cy="137.5" r="1.0"/><circle cx="76.6" cy="136.9" r="1.0"/><circle cx="80.9" cy="130.9" r="1.0"/><circle cx="87.8" cy="141.4" r="1.0"/><circle cx="91.5" cy="138.5" r="1.0"/><circle cx="83.7" cy="130.5" r="1.0"/><circle cx="89.0" cy="140.4" r="1.0"/><circle cx="74.2" cy="127.6" r="1.0"/><circle cx="83.4" cy="143.9" r="1.0"/><circle cx="87.8" cy="137.2" r="1.0"/><circle cx="76.5" cy="140.1" r="1.0"/><circle cx="81.8" cy="141.5" r="1.0"/><circle cx="81.6" cy="124.3" r="1.0"/><circle cx="79.8" cy="112.8" r="1.0"/><circle cx="89.4" cy="131.8" r="1.0"/><circle cx="79.5" cy="127.3" r="1.0"/><circle cx="74.6" cy="132.3" r="1.0"/><circle cx="89.4" cy="136.1" r="1.0"/><circle cx="80.6" cy="112.7" r="1.0"/><circle cx="83.4" cy="142.5" r="1.0"/><circle cx="84.9" cy="143.1" r="1.0"/><circle cx="72.6" cy="111.1" r="1.0"/><circle cx="87.2" cy="129.8" r="1.0"/><circle cx="92.9" cy="139.9" r="1.0"/><circle cx="84.3" cy="133.9" r="1.0"/><circle cx="87.0" cy="128.9" r="1.0"/><circle cx="93.7" cy="144.4" r="1.0"/><circle cx="92.9" cy="138.6" r="1.0"/><circle cx="89.8" cy="135.9" r="1.0"/><circle cx="80.9" cy="144.5" r="1.0"/><circle cx="44.2" cy="58.4" r="1.0"/><circle cx="36.5" cy="66.1" r="1.0"/><circle cx="41.7" cy="84.9" r="1.0"/><circle cx="55.6" cy="92.9" r="1.0"/><circle cx="64.1" cy="92.1" r="1.0"/><circle cx="69.8" cy="89.4" r="1.0"/><circle cx="73.8" cy="104.4" r="1.0"/><circle cx="64.1" cy="107.4" r="1.0"/><circle cx="53.4" cy="115.8" r="1.0"/><circle cx="75.3" cy="108.6" r="1.0"/><circle cx="66.1" cy="110.1" r="1.0"/><circle cx="79.0" cy="111.3" r="1.0"/><circle cx="53.1" cy="116.5" r="1.0"/><circle cx="62.0" cy="115.6" r="1.0"/><circle cx="49.2" cy="121.0" r="1.0"/><circle cx="54.9" cy="125.0" r="1.0"/><circle cx="50.7" cy="129.0" r="1.0"/></g>
<g fill="#179a5a"><circle cx="28.3" cy="52.7" r="0.8"/><circle cx="28.3" cy="65.8" r="0.8"/><circle cx="28.3" cy="70.8" r="0.8"/><circle cx="28.3" cy="89.4" r="0.8"/><circle cx="28.3" cy="95.0" r="0.8"/><circle cx="28.3" cy="98.1" r="0.8"/><circle cx="28.3" cy="102.0" r="0.8"/><circle cx="28.3" cy="108.0" r="0.8"/><circle cx="28.3" cy="113.0" r="0.8"/><circle cx="28.3" cy="117.0" r="0.8"/><circle cx="28.3" cy="121.0" r="0.8"/><circle cx="28.3" cy="124.0" r="0.8"/><circle cx="28.3" cy="128.0" r="0.8"/><circle cx="28.3" cy="131.0" r="0.8"/><circle cx="28.3" cy="134.0" r="0.8"/><circle cx="28.3" cy="137.0" r="0.8"/><circle cx="28.3" cy="140.0" r="0.8"/><circle cx="28.3" cy="142.5" r="0.8"/></g>
<g fill="#f5143c"><circle cx="151.3" cy="134.4" r="1.0"/><circle cx="158.2" cy="113.8" r="1.0"/><circle cx="139.1" cy="144.9" r="1.0"/><circle cx="161.6" cy="133.3" r="1.0"/><circle cx="138.3" cy="138.1" r="1.0"/><circle cx="136.7" cy="135.4" r="1.0"/><circle cx="161.2" cy="141.6" r="1.0"/><circle cx="150.7" cy="142.9" r="1.0"/><circle cx="138.6" cy="134.1" r="1.0"/><circle cx="145.1" cy="122.3" r="1.0"/><circle cx="167.3" cy="100.4" r="1.0"/><circle cx="155.1" cy="109.3" r="1.0"/><circle cx="164.8" cy="142.6" r="1.0"/><circle cx="167.0" cy="107.5" r="1.0"/><circle cx="136.2" cy="139.9" r="1.0"/><circle cx="136.2" cy="144.3" r="1.0"/><circle cx="144.7" cy="144.9" r="1.0"/><circle cx="152.7" cy="140.9" r="1.0"/><circle cx="141.1" cy="140.9" r="1.0"/><circle cx="174.3" cy="144.1" r="1.0"/><circle cx="158.1" cy="129.5" r="1.0"/><circle cx="144.9" cy="128.0" r="1.0"/><circle cx="132.3" cy="144.7" r="1.0"/><circle cx="149.9" cy="111.0" r="1.0"/><circle cx="170.4" cy="115.7" r="1.0"/><circle cx="142.4" cy="140.3" r="1.0"/><circle cx="148.0" cy="143.9" r="1.0"/><circle cx="142.9" cy="123.7" r="1.0"/><circle cx="137.0" cy="144.0" r="1.0"/><circle cx="148.8" cy="117.7" r="1.0"/><circle cx="140.1" cy="136.2" r="1.0"/><circle cx="133.7" cy="142.6" r="1.0"/><circle cx="196.8" cy="131.9" r="1.0"/><circle cx="181.4" cy="144.5" r="1.0"/><circle cx="137.6" cy="139.3" r="1.0"/><circle cx="147.3" cy="125.7" r="1.0"/><circle cx="160.4" cy="144.1" r="1.0"/><circle cx="155.2" cy="137.3" r="1.0"/><circle cx="169.2" cy="130.6" r="1.0"/><circle cx="141.6" cy="127.9" r="1.0"/><circle cx="153.7" cy="143.1" r="1.0"/><circle cx="177.3" cy="123.9" r="1.0"/><circle cx="149.6" cy="137.6" r="1.0"/><circle cx="139.4" cy="141.0" r="1.0"/><circle cx="183.3" cy="140.1" r="1.0"/><circle cx="144.5" cy="134.1" r="1.0"/><circle cx="135.9" cy="144.1" r="1.0"/><circle cx="147.0" cy="122.9" r="1.0"/><circle cx="151.8" cy="128.7" r="1.0"/><circle cx="144.3" cy="129.4" r="1.0"/><circle cx="141.0" cy="141.5" r="1.0"/><circle cx="141.9" cy="132.4" r="1.0"/><circle cx="146.6" cy="133.2" r="1.0"/><circle cx="139.3" cy="136.4" r="1.0"/><circle cx="153.6" cy="138.3" r="1.0"/><circle cx="144.9" cy="127.5" r="1.0"/><circle cx="156.9" cy="130.2" r="1.0"/><circle cx="161.3" cy="124.8" r="1.0"/><circle cx="174.5" cy="103.9" r="1.0"/><circle cx="137.9" cy="136.9" r="1.0"/><circle cx="152.0" cy="114.6" r="1.0"/><circle cx="152.1" cy="130.8" r="1.0"/><circle cx="148.8" cy="128.4" r="1.0"/><circle cx="145.4" cy="139.2" r="1.0"/><circle cx="150.7" cy="133.6" r="1.0"/><circle cx="139.3" cy="143.2" r="1.0"/><circle cx="146.1" cy="142.4" r="1.0"/><circle cx="139.2" cy="144.4" r="1.0"/><circle cx="133.7" cy="144.3" r="1.0"/><circle cx="135.3" cy="142.5" r="1.0"/><circle cx="140.4" cy="138.2" r="1.0"/><circle cx="139.6" cy="135.4" r="1.0"/><circle cx="137.7" cy="144.9" r="1.0"/><circle cx="136.0" cy="139.4" r="1.0"/><circle cx="134.8" cy="139.9" r="1.0"/><circle cx="141.2" cy="143.8" r="1.0"/><circle cx="170.1" cy="135.6" r="1.0"/><circle cx="153.1" cy="139.1" r="1.0"/><circle cx="136.0" cy="140.0" r="1.0"/><circle cx="169.8" cy="136.2" r="1.0"/><circle cx="141.5" cy="134.9" r="1.0"/><circle cx="133.0" cy="145.0" r="1.0"/><circle cx="138.7" cy="134.6" r="1.0"/><circle cx="148.1" cy="120.6" r="1.0"/><circle cx="137.0" cy="142.5" r="1.0"/><circle cx="170.0" cy="140.0" r="1.0"/><circle cx="140.0" cy="135.3" r="1.0"/><circle cx="141.4" cy="137.3" r="1.0"/><circle cx="158.1" cy="99.2" r="1.0"/><circle cx="136.8" cy="137.9" r="1.0"/><circle cx="138.8" cy="138.7" r="1.0"/><circle cx="141.6" cy="125.7" r="1.0"/><circle cx="164.0" cy="141.7" r="1.0"/><circle cx="136.8" cy="141.7" r="1.0"/><circle cx="157.3" cy="95.6" r="1.0"/><circle cx="146.5" cy="138.0" r="1.0"/><circle cx="140.7" cy="130.2" r="1.0"/><circle cx="142.2" cy="141.0" r="1.0"/><circle cx="142.1" cy="141.1" r="1.0"/><circle cx="149.3" cy="140.1" r="1.0"/><circle cx="135.2" cy="144.6" r="1.0"/><circle cx="164.3" cy="117.7" r="1.0"/><circle cx="149.1" cy="144.8" r="1.0"/><circle cx="149.6" cy="135.7" r="1.0"/><circle cx="161.6" cy="137.7" r="1.0"/><circle cx="155.4" cy="139.3" r="1.0"/><circle cx="153.4" cy="140.9" r="1.0"/><circle cx="153.0" cy="125.1" r="1.0"/><circle cx="150.5" cy="141.5" r="1.0"/><circle cx="139.9" cy="143.3" r="1.0"/><circle cx="139.9" cy="137.2" r="1.0"/><circle cx="154.3" cy="135.0" r="1.0"/><circle cx="152.4" cy="142.3" r="1.0"/><circle cx="138.1" cy="133.1" r="1.0"/><circle cx="198.3" cy="102.8" r="1.0"/><circle cx="153.1" cy="144.3" r="1.0"/><circle cx="169.1" cy="133.7" r="1.0"/><circle cx="136.4" cy="143.7" r="1.0"/><circle cx="143.3" cy="143.2" r="1.0"/><circle cx="143.7" cy="142.8" r="1.0"/><circle cx="137.8" cy="143.5" r="1.0"/><circle cx="141.8" cy="144.5" r="1.0"/><circle cx="144.6" cy="121.8" r="1.0"/><circle cx="144.0" cy="140.8" r="1.0"/><circle cx="150.6" cy="114.1" r="1.0"/><circle cx="140.1" cy="131.9" r="1.0"/><circle cx="161.6" cy="137.3" r="1.0"/><circle cx="140.4" cy="134.4" r="1.0"/><circle cx="148.9" cy="141.8" r="1.0"/><circle cx="135.5" cy="143.3" r="1.0"/><circle cx="141.2" cy="130.4" r="1.0"/><circle cx="138.6" cy="133.4" r="1.0"/><circle cx="133.8" cy="144.0" r="1.0"/><circle cx="156.7" cy="142.0" r="1.0"/><circle cx="151.5" cy="140.4" r="1.0"/><circle cx="139.6" cy="130.6" r="1.0"/><circle cx="157.2" cy="111.4" r="1.0"/><circle cx="173.3" cy="143.7" r="1.0"/><circle cx="142.8" cy="126.2" r="1.0"/><circle cx="137.1" cy="140.1" r="1.0"/><circle cx="141.6" cy="134.5" r="1.0"/><circle cx="152.7" cy="143.5" r="1.0"/><circle cx="146.4" cy="127.3" r="1.0"/><circle cx="145.4" cy="137.0" r="1.0"/><circle cx="144.4" cy="129.9" r="1.0"/><circle cx="134.5" cy="144.4" r="1.0"/><circle cx="149.7" cy="121.0" r="1.0"/><circle cx="139.0" cy="145.2" r="1.0"/><circle cx="143.0" cy="134.4" r="1.0"/><circle cx="134.2" cy="143.6" r="1.0"/><circle cx="139.7" cy="140.1" r="1.0"/><circle cx="136.0" cy="143.1" r="1.0"/><circle cx="136.5" cy="142.9" r="1.0"/><circle cx="135.8" cy="138.0" r="1.0"/><circle cx="164.9" cy="140.0" r="1.0"/><circle cx="144.6" cy="132.9" r="1.0"/><circle cx="145.0" cy="143.5" r="1.0"/><circle cx="151.5" cy="132.5" r="1.0"/><circle cx="133.3" cy="142.4" r="1.0"/><circle cx="138.0" cy="144.4" r="1.0"/><circle cx="138.4" cy="140.0" r="1.0"/><circle cx="148.3" cy="141.5" r="1.0"/><circle cx="135.8" cy="143.1" r="1.0"/><circle cx="155.5" cy="113.9" r="1.0"/><circle cx="151.2" cy="104.0" r="1.0"/><circle cx="145.5" cy="128.1" r="1.0"/><circle cx="184.7" cy="136.3" r="1.0"/><circle cx="135.2" cy="140.0" r="1.0"/><circle cx="150.2" cy="120.1" r="1.0"/><circle cx="135.2" cy="144.1" r="1.0"/><circle cx="135.2" cy="139.3" r="1.0"/><circle cx="138.7" cy="139.0" r="1.0"/><circle cx="172.7" cy="144.4" r="1.0"/><circle cx="141.2" cy="137.2" r="1.0"/><circle cx="136.5" cy="143.8" r="1.0"/><circle cx="163.2" cy="136.5" r="1.0"/><circle cx="144.7" cy="123.3" r="1.0"/><circle cx="143.2" cy="136.5" r="1.0"/><circle cx="145.1" cy="139.9" r="1.0"/><circle cx="148.1" cy="118.1" r="1.0"/><circle cx="143.9" cy="125.5" r="1.0"/><circle cx="134.8" cy="141.1" r="1.0"/><circle cx="144.9" cy="125.9" r="1.0"/><circle cx="135.4" cy="143.8" r="1.0"/><circle cx="144.2" cy="138.7" r="1.0"/><circle cx="145.8" cy="144.0" r="1.0"/><circle cx="136.8" cy="142.5" r="1.0"/><circle cx="138.5" cy="143.7" r="1.0"/><circle cx="147.7" cy="129.9" r="1.0"/><circle cx="152.4" cy="133.4" r="1.0"/><circle cx="153.4" cy="138.7" r="1.0"/><circle cx="158.7" cy="111.1" r="1.0"/><circle cx="152.1" cy="141.5" r="1.0"/><circle cx="133.3" cy="143.3" r="1.0"/><circle cx="146.0" cy="141.5" r="1.0"/><circle cx="148.6" cy="144.3" r="1.0"/><circle cx="132.5" cy="144.5" r="1.0"/><circle cx="155.8" cy="140.4" r="1.0"/><circle cx="139.8" cy="134.5" r="1.0"/><circle cx="138.7" cy="139.8" r="1.0"/><circle cx="155.2" cy="135.5" r="1.0"/><circle cx="140.9" cy="143.7" r="1.0"/><circle cx="144.7" cy="131.7" r="1.0"/><circle cx="141.9" cy="127.5" r="1.0"/><circle cx="150.4" cy="117.8" r="1.0"/><circle cx="150.8" cy="138.9" r="1.0"/><circle cx="173.3" cy="136.7" r="1.0"/><circle cx="151.5" cy="143.7" r="1.0"/><circle cx="175.7" cy="144.1" r="1.0"/><circle cx="143.5" cy="135.8" r="1.0"/><circle cx="137.2" cy="139.4" r="1.0"/><circle cx="142.3" cy="142.4" r="1.0"/><circle cx="142.3" cy="129.6" r="1.0"/><circle cx="178.5" cy="142.1" r="1.0"/><circle cx="151.3" cy="124.1" r="1.0"/><circle cx="152.8" cy="143.3" r="1.0"/><circle cx="134.0" cy="144.3" r="1.0"/><circle cx="162.2" cy="130.9" r="1.0"/><circle cx="144.5" cy="127.6" r="1.0"/><circle cx="151.7" cy="123.3" r="1.0"/><circle cx="134.5" cy="139.8" r="1.0"/><circle cx="138.9" cy="135.2" r="1.0"/><circle cx="134.2" cy="140.7" r="1.0"/><circle cx="141.5" cy="139.8" r="1.0"/><circle cx="178.8" cy="139.6" r="1.0"/><circle cx="155.8" cy="116.8" r="1.0"/><circle cx="153.1" cy="136.5" r="1.0"/><circle cx="148.8" cy="135.1" r="1.0"/><circle cx="134.5" cy="141.1" r="1.0"/><circle cx="143.8" cy="140.3" r="1.0"/><circle cx="142.5" cy="131.5" r="1.0"/><circle cx="147.6" cy="141.2" r="1.0"/><circle cx="150.7" cy="129.9" r="1.0"/><circle cx="154.5" cy="120.2" r="1.0"/><circle cx="148.8" cy="130.1" r="1.0"/><circle cx="160.1" cy="136.8" r="1.0"/><circle cx="156.9" cy="104.5" r="1.0"/><circle cx="137.4" cy="144.8" r="1.0"/><circle cx="161.4" cy="133.6" r="1.0"/><circle cx="142.2" cy="134.3" r="1.0"/><circle cx="146.5" cy="132.3" r="1.0"/><circle cx="158.3" cy="139.7" r="1.0"/><circle cx="137.2" cy="141.1" r="1.0"/><circle cx="145.7" cy="120.0" r="1.0"/><circle cx="142.5" cy="128.7" r="1.0"/><circle cx="155.2" cy="136.0" r="1.0"/><circle cx="144.5" cy="130.6" r="1.0"/><circle cx="161.1" cy="136.6" r="1.0"/><circle cx="143.9" cy="141.7" r="1.0"/><circle cx="133.2" cy="142.5" r="1.0"/><circle cx="146.2" cy="135.7" r="1.0"/><circle cx="143.1" cy="142.8" r="1.0"/><circle cx="151.7" cy="131.8" r="1.0"/><circle cx="154.8" cy="138.0" r="1.0"/><circle cx="154.9" cy="140.9" r="1.0"/><circle cx="148.0" cy="116.4" r="1.0"/><circle cx="148.0" cy="124.6" r="1.0"/><circle cx="134.8" cy="142.4" r="1.0"/><circle cx="143.5" cy="142.9" r="1.0"/><circle cx="153.0" cy="129.6" r="1.0"/><circle cx="153.0" cy="127.3" r="1.0"/><circle cx="156.3" cy="110.7" r="1.0"/><circle cx="133.6" cy="143.5" r="1.0"/><circle cx="138.3" cy="142.4" r="1.0"/><circle cx="152.1" cy="132.2" r="1.0"/><circle cx="143.2" cy="139.2" r="1.0"/><circle cx="142.7" cy="143.5" r="1.0"/><circle cx="145.2" cy="132.6" r="1.0"/><circle cx="147.8" cy="113.2" r="1.0"/><circle cx="142.5" cy="130.7" r="1.0"/><circle cx="140.1" cy="138.0" r="1.0"/><circle cx="149.4" cy="117.3" r="1.0"/><circle cx="148.4" cy="137.6" r="1.0"/><circle cx="140.3" cy="135.5" r="1.0"/><circle cx="149.0" cy="124.0" r="1.0"/><circle cx="137.8" cy="139.1" r="1.0"/><circle cx="135.7" cy="143.9" r="1.0"/><circle cx="180.4" cy="137.9" r="1.0"/><circle cx="164.2" cy="139.4" r="1.0"/><circle cx="152.5" cy="139.9" r="1.0"/><circle cx="144.4" cy="128.7" r="1.0"/><circle cx="140.2" cy="141.8" r="1.0"/><circle cx="136.4" cy="136.8" r="1.0"/><circle cx="155.3" cy="104.7" r="1.0"/><circle cx="135.9" cy="144.3" r="1.0"/><circle cx="145.5" cy="132.0" r="1.0"/><circle cx="151.0" cy="139.5" r="1.0"/><circle cx="161.3" cy="135.2" r="1.0"/><circle cx="137.8" cy="133.6" r="1.0"/><circle cx="145.3" cy="129.1" r="1.0"/><circle cx="165.1" cy="125.7" r="1.0"/><circle cx="161.8" cy="129.3" r="1.0"/><circle cx="145.7" cy="128.6" r="1.0"/><circle cx="159.7" cy="88.4" r="1.0"/><circle cx="140.6" cy="141.4" r="1.0"/><circle cx="139.3" cy="132.7" r="1.0"/><circle cx="136.0" cy="138.2" r="1.0"/><circle cx="163.6" cy="119.8" r="1.0"/><circle cx="152.0" cy="145.1" r="1.0"/><circle cx="138.4" cy="134.8" r="1.0"/><circle cx="169.5" cy="116.9" r="1.0"/><circle cx="139.2" cy="142.6" r="1.0"/><circle cx="144.3" cy="129.7" r="1.0"/><circle cx="140.9" cy="143.5" r="1.0"/><circle cx="139.5" cy="131.4" r="1.0"/><circle cx="142.4" cy="133.6" r="1.0"/><circle cx="144.8" cy="138.1" r="1.0"/><circle cx="142.7" cy="141.8" r="1.0"/><circle cx="150.1" cy="136.1" r="1.0"/><circle cx="148.6" cy="137.5" r="1.0"/><circle cx="145.4" cy="128.8" r="1.0"/><circle cx="153.5" cy="134.4" r="1.0"/><circle cx="136.1" cy="137.3" r="1.0"/><circle cx="134.3" cy="140.2" r="1.0"/><circle cx="146.6" cy="138.7" r="1.0"/><circle cx="142.6" cy="140.0" r="1.0"/><circle cx="171.8" cy="114.8" r="1.0"/><circle cx="135.8" cy="141.3" r="1.0"/><circle cx="139.0" cy="144.3" r="1.0"/><circle cx="141.2" cy="137.0" r="1.0"/><circle cx="142.6" cy="141.3" r="1.0"/><circle cx="137.4" cy="143.4" r="1.0"/><circle cx="138.9" cy="135.8" r="1.0"/><circle cx="133.1" cy="144.2" r="1.0"/><circle cx="171.4" cy="143.2" r="1.0"/><circle cx="150.6" cy="141.6" r="1.0"/><circle cx="153.2" cy="141.7" r="1.0"/><circle cx="145.3" cy="139.4" r="1.0"/><circle cx="156.8" cy="141.6" r="1.0"/><circle cx="145.8" cy="119.7" r="1.0"/><circle cx="147.4" cy="144.4" r="1.0"/><circle cx="132.3" cy="145.1" r="1.0"/><circle cx="157.6" cy="137.2" r="1.0"/><circle cx="138.0" cy="135.4" r="1.0"/><circle cx="147.0" cy="134.4" r="1.0"/><circle cx="148.5" cy="112.0" r="1.0"/><circle cx="139.2" cy="132.1" r="1.0"/><circle cx="146.5" cy="138.5" r="1.0"/><circle cx="139.7" cy="131.0" r="1.0"/><circle cx="143.2" cy="124.7" r="1.0"/><circle cx="137.4" cy="141.4" r="1.0"/><circle cx="146.9" cy="129.6" r="1.0"/><circle cx="137.1" cy="137.9" r="1.0"/><circle cx="166.2" cy="141.5" r="1.0"/><circle cx="137.2" cy="143.7" r="1.0"/><circle cx="145.4" cy="139.0" r="1.0"/><circle cx="134.5" cy="142.9" r="1.0"/><circle cx="144.3" cy="132.3" r="1.0"/><circle cx="146.2" cy="118.1" r="1.0"/><circle cx="143.8" cy="137.8" r="1.0"/><circle cx="147.8" cy="136.0" r="1.0"/><circle cx="158.1" cy="128.0" r="1.0"/><circle cx="135.8" cy="143.7" r="1.0"/><circle cx="146.5" cy="120.8" r="1.0"/><circle cx="170.0" cy="133.5" r="1.0"/><circle cx="144.1" cy="128.6" r="1.0"/><circle cx="156.7" cy="134.1" r="1.0"/><circle cx="173.0" cy="144.4" r="1.0"/><circle cx="150.8" cy="133.7" r="1.0"/><circle cx="139.0" cy="139.0" r="1.0"/><circle cx="146.5" cy="144.2" r="1.0"/><circle cx="143.5" cy="122.5" r="1.0"/><circle cx="165.2" cy="143.0" r="1.0"/><circle cx="150.4" cy="119.8" r="1.0"/><circle cx="137.5" cy="138.8" r="1.0"/><circle cx="140.0" cy="135.6" r="1.0"/><circle cx="164.7" cy="137.4" r="1.0"/><circle cx="136.4" cy="138.3" r="1.0"/><circle cx="141.2" cy="143.4" r="1.0"/><circle cx="159.6" cy="97.0" r="1.0"/><circle cx="142.4" cy="141.8" r="1.0"/><circle cx="137.4" cy="138.9" r="1.0"/><circle cx="149.4" cy="117.5" r="1.0"/><circle cx="148.7" cy="117.6" r="1.0"/><circle cx="137.6" cy="136.5" r="1.0"/><circle cx="151.9" cy="114.2" r="1.0"/><circle cx="152.6" cy="117.5" r="1.0"/><circle cx="148.8" cy="141.2" r="1.0"/><circle cx="150.7" cy="138.1" r="1.0"/><circle cx="135.1" cy="143.5" r="1.0"/><circle cx="140.2" cy="130.9" r="1.0"/><circle cx="134.6" cy="143.2" r="1.0"/><circle cx="145.5" cy="138.7" r="1.0"/><circle cx="146.3" cy="142.8" r="1.0"/><circle cx="139.7" cy="135.4" r="1.0"/><circle cx="146.6" cy="144.2" r="1.0"/><circle cx="143.9" cy="129.2" r="1.0"/><circle cx="144.4" cy="134.0" r="1.0"/><circle cx="148.2" cy="117.2" r="1.0"/><circle cx="144.5" cy="121.9" r="1.0"/><circle cx="175.6" cy="138.9" r="1.0"/><circle cx="152.3" cy="133.4" r="1.0"/><circle cx="164.8" cy="144.9" r="1.0"/><circle cx="152.5" cy="123.9" r="1.0"/><circle cx="152.5" cy="124.9" r="1.0"/><circle cx="146.2" cy="130.6" r="1.0"/><circle cx="153.7" cy="134.3" r="1.0"/><circle cx="135.6" cy="137.7" r="1.0"/><circle cx="158.0" cy="128.5" r="1.0"/><circle cx="143.0" cy="136.3" r="1.0"/><circle cx="174.2" cy="142.7" r="1.0"/><circle cx="153.0" cy="142.1" r="1.0"/><circle cx="145.8" cy="139.5" r="1.0"/><circle cx="133.6" cy="141.6" r="1.0"/><circle cx="151.0" cy="135.4" r="1.0"/><circle cx="138.9" cy="138.9" r="1.0"/><circle cx="144.3" cy="140.0" r="1.0"/><circle cx="147.6" cy="138.3" r="1.0"/><circle cx="153.9" cy="141.5" r="1.0"/><circle cx="132.2" cy="144.5" r="1.0"/><circle cx="139.3" cy="143.7" r="1.0"/><circle cx="147.1" cy="127.1" r="1.0"/><circle cx="150.0" cy="144.9" r="1.0"/><circle cx="156.0" cy="134.3" r="1.0"/><circle cx="158.1" cy="131.2" r="1.0"/><circle cx="156.6" cy="145.1" r="1.0"/><circle cx="133.7" cy="142.4" r="1.0"/><circle cx="137.5" cy="143.6" r="1.0"/><circle cx="133.1" cy="142.2" r="1.0"/><circle cx="148.2" cy="141.0" r="1.0"/><circle cx="167.4" cy="143.2" r="1.0"/><circle cx="140.8" cy="132.1" r="1.0"/><circle cx="140.8" cy="138.1" r="1.0"/><circle cx="151.0" cy="138.4" r="1.0"/><circle cx="153.3" cy="123.5" r="1.0"/><circle cx="166.0" cy="122.7" r="1.0"/><circle cx="146.5" cy="139.2" r="1.0"/><circle cx="154.8" cy="121.4" r="1.0"/><circle cx="137.4" cy="142.5" r="1.0"/><circle cx="153.2" cy="132.2" r="1.0"/><circle cx="155.6" cy="136.5" r="1.0"/><circle cx="142.9" cy="143.8" r="1.0"/><circle cx="136.4" cy="143.0" r="1.0"/><circle cx="138.9" cy="143.0" r="1.0"/><circle cx="140.9" cy="145.2" r="1.0"/><circle cx="145.5" cy="125.5" r="1.0"/><circle cx="134.0" cy="143.8" r="1.0"/><circle cx="142.6" cy="144.5" r="1.0"/><circle cx="152.9" cy="137.8" r="1.0"/><circle cx="153.4" cy="117.4" r="1.0"/><circle cx="139.0" cy="142.9" r="1.0"/><circle cx="143.9" cy="125.8" r="1.0"/><circle cx="141.9" cy="126.4" r="1.0"/><circle cx="145.4" cy="142.3" r="1.0"/><circle cx="147.2" cy="143.9" r="1.0"/><circle cx="155.4" cy="140.9" r="1.0"/><circle cx="146.4" cy="140.7" r="1.0"/><circle cx="136.8" cy="137.0" r="1.0"/><circle cx="153.9" cy="117.5" r="1.0"/><circle cx="142.6" cy="137.0" r="1.0"/><circle cx="136.3" cy="143.2" r="1.0"/><circle cx="144.9" cy="144.0" r="1.0"/><circle cx="134.7" cy="141.1" r="1.0"/><circle cx="149.0" cy="115.3" r="1.0"/><circle cx="166.1" cy="140.1" r="1.0"/><circle cx="136.7" cy="140.5" r="1.0"/><circle cx="136.3" cy="138.4" r="1.0"/><circle cx="146.8" cy="140.6" r="1.0"/><circle cx="143.5" cy="122.2" r="1.0"/><circle cx="137.0" cy="141.5" r="1.0"/><circle cx="140.2" cy="137.3" r="1.0"/><circle cx="150.0" cy="124.4" r="1.0"/><circle cx="147.6" cy="133.2" r="1.0"/><circle cx="136.4" cy="138.9" r="1.0"/><circle cx="146.6" cy="121.7" r="1.0"/><circle cx="146.3" cy="134.6" r="1.0"/><circle cx="149.4" cy="138.2" r="1.0"/><circle cx="148.4" cy="144.0" r="1.0"/><circle cx="133.1" cy="144.3" r="1.0"/><circle cx="145.5" cy="141.0" r="1.0"/><circle cx="137.1" cy="138.2" r="1.0"/><circle cx="145.7" cy="132.2" r="1.0"/><circle cx="151.1" cy="124.9" r="1.0"/><circle cx="140.1" cy="142.7" r="1.0"/><circle cx="138.5" cy="134.4" r="1.0"/><circle cx="151.2" cy="140.2" r="1.0"/><circle cx="150.9" cy="114.2" r="1.0"/><circle cx="162.3" cy="81.3" r="1.0"/><circle cx="145.2" cy="130.6" r="1.0"/><circle cx="138.8" cy="143.2" r="1.0"/><circle cx="137.8" cy="139.4" r="1.0"/><circle cx="145.3" cy="138.6" r="1.0"/><circle cx="134.0" cy="141.5" r="1.0"/><circle cx="140.7" cy="133.2" r="1.0"/><circle cx="144.0" cy="135.7" r="1.0"/><circle cx="143.8" cy="128.3" r="1.0"/><circle cx="138.9" cy="134.9" r="1.0"/><circle cx="139.9" cy="144.4" r="1.0"/><circle cx="136.4" cy="136.6" r="1.0"/><circle cx="165.3" cy="95.2" r="1.0"/><circle cx="135.5" cy="138.1" r="1.0"/><circle cx="179.7" cy="142.5" r="1.0"/><circle cx="134.1" cy="141.6" r="1.0"/><circle cx="166.9" cy="86.2" r="1.0"/><circle cx="156.3" cy="125.0" r="1.0"/><circle cx="136.3" cy="142.7" r="1.0"/><circle cx="147.2" cy="142.9" r="1.0"/><circle cx="135.9" cy="145.1" r="1.0"/><circle cx="154.5" cy="124.2" r="1.0"/><circle cx="152.0" cy="118.2" r="1.0"/><circle cx="140.0" cy="135.4" r="1.0"/><circle cx="140.2" cy="141.5" r="1.0"/><circle cx="135.4" cy="144.0" r="1.0"/><circle cx="153.8" cy="110.6" r="1.0"/><circle cx="148.4" cy="129.9" r="1.0"/><circle cx="138.7" cy="139.6" r="1.0"/><circle cx="157.0" cy="123.6" r="1.0"/><circle cx="132.7" cy="143.3" r="1.0"/><circle cx="133.2" cy="142.0" r="1.0"/><circle cx="135.7" cy="142.2" r="1.0"/><circle cx="140.2" cy="135.5" r="1.0"/><circle cx="161.6" cy="142.2" r="1.0"/><circle cx="149.6" cy="135.3" r="1.0"/><circle cx="157.6" cy="137.7" r="1.0"/><circle cx="139.2" cy="131.9" r="1.0"/><circle cx="143.8" cy="137.9" r="1.0"/><circle cx="143.6" cy="130.1" r="1.0"/><circle cx="155.4" cy="136.8" r="1.0"/><circle cx="146.2" cy="136.1" r="1.0"/><circle cx="137.4" cy="140.9" r="1.0"/><circle cx="147.8" cy="134.7" r="1.0"/><circle cx="144.0" cy="138.3" r="1.0"/><circle cx="162.4" cy="143.5" r="1.0"/><circle cx="139.4" cy="137.1" r="1.0"/><circle cx="135.4" cy="141.5" r="1.0"/><circle cx="145.4" cy="118.4" r="1.0"/><circle cx="148.4" cy="131.7" r="1.0"/><circle cx="136.9" cy="142.4" r="1.0"/><circle cx="138.2" cy="138.6" r="1.0"/><circle cx="137.2" cy="137.8" r="1.0"/><circle cx="145.5" cy="131.0" r="1.0"/><circle cx="171.0" cy="128.9" r="1.0"/><circle cx="140.0" cy="144.6" r="1.0"/><circle cx="146.7" cy="140.5" r="1.0"/><circle cx="147.1" cy="134.6" r="1.0"/><circle cx="156.3" cy="116.6" r="1.0"/><circle cx="141.3" cy="131.7" r="1.0"/><circle cx="137.8" cy="134.5" r="1.0"/><circle cx="140.8" cy="142.2" r="1.0"/><circle cx="153.6" cy="130.9" r="1.0"/><circle cx="151.6" cy="114.2" r="1.0"/><circle cx="158.9" cy="92.6" r="1.0"/><circle cx="149.0" cy="110.7" r="1.0"/><circle cx="145.7" cy="133.6" r="1.0"/><circle cx="144.0" cy="123.4" r="1.0"/><circle cx="149.7" cy="134.8" r="1.0"/><circle cx="158.0" cy="126.9" r="1.0"/><circle cx="161.5" cy="139.2" r="1.0"/><circle cx="143.7" cy="129.6" r="1.0"/><circle cx="147.7" cy="136.7" r="1.0"/><circle cx="154.4" cy="123.2" r="1.0"/><circle cx="142.9" cy="137.6" r="1.0"/><circle cx="136.9" cy="136.2" r="1.0"/><circle cx="141.5" cy="140.5" r="1.0"/><circle cx="162.7" cy="142.5" r="1.0"/><circle cx="152.3" cy="140.9" r="1.0"/><circle cx="146.6" cy="133.1" r="1.0"/><circle cx="139.7" cy="137.7" r="1.0"/><circle cx="134.3" cy="139.8" r="1.0"/><circle cx="136.9" cy="143.4" r="1.0"/><circle cx="150.6" cy="113.5" r="1.0"/><circle cx="144.7" cy="141.2" r="1.0"/><circle cx="140.8" cy="143.5" r="1.0"/><circle cx="150.0" cy="143.1" r="1.0"/><circle cx="150.8" cy="138.7" r="1.0"/><circle cx="146.6" cy="122.5" r="1.0"/><circle cx="157.8" cy="144.5" r="1.0"/><circle cx="135.2" cy="145.3" r="1.0"/><circle cx="152.4" cy="131.3" r="1.0"/><circle cx="135.9" cy="144.9" r="1.0"/><circle cx="165.8" cy="118.4" r="1.0"/><circle cx="159.8" cy="96.8" r="1.0"/><circle cx="138.5" cy="144.1" r="1.0"/><circle cx="139.1" cy="138.6" r="1.0"/><circle cx="139.3" cy="138.1" r="1.0"/><circle cx="139.4" cy="141.7" r="1.0"/><circle cx="198.3" cy="142.1" r="1.0"/><circle cx="147.9" cy="136.9" r="1.0"/><circle cx="140.8" cy="136.7" r="1.0"/><circle cx="133.3" cy="144.6" r="1.0"/><circle cx="144.7" cy="144.8" r="1.0"/><circle cx="137.4" cy="142.1" r="1.0"/><circle cx="154.5" cy="142.4" r="1.0"/><circle cx="133.1" cy="144.5" r="1.0"/><circle cx="140.2" cy="135.6" r="1.0"/><circle cx="157.1" cy="144.7" r="1.0"/><circle cx="138.4" cy="132.9" r="1.0"/><circle cx="150.3" cy="124.9" r="1.0"/><circle cx="134.0" cy="142.1" r="1.0"/><circle cx="139.5" cy="143.0" r="1.0"/><circle cx="150.3" cy="119.7" r="1.0"/><circle cx="166.0" cy="143.6" r="1.0"/><circle cx="158.8" cy="137.6" r="1.0"/><circle cx="155.1" cy="102.0" r="1.0"/><circle cx="167.7" cy="125.2" r="1.0"/><circle cx="135.9" cy="144.3" r="1.0"/><circle cx="154.8" cy="118.4" r="1.0"/><circle cx="138.8" cy="140.1" r="1.0"/><circle cx="141.3" cy="142.1" r="1.0"/><circle cx="139.4" cy="141.9" r="1.0"/><circle cx="151.5" cy="135.3" r="1.0"/><circle cx="156.2" cy="144.4" r="1.0"/><circle cx="148.1" cy="142.7" r="1.0"/><circle cx="143.9" cy="134.6" r="1.0"/><circle cx="137.2" cy="138.7" r="1.0"/><circle cx="132.8" cy="144.0" r="1.0"/><circle cx="151.2" cy="112.0" r="1.0"/><circle cx="150.5" cy="141.4" r="1.0"/><circle cx="157.1" cy="143.2" r="1.0"/><circle cx="139.0" cy="144.3" r="1.0"/><circle cx="142.1" cy="133.7" r="1.0"/><circle cx="144.1" cy="141.0" r="1.0"/><circle cx="147.8" cy="137.6" r="1.0"/><circle cx="152.1" cy="112.9" r="1.0"/><circle cx="154.3" cy="115.7" r="1.0"/><circle cx="152.7" cy="127.7" r="1.0"/><circle cx="136.6" cy="138.8" r="1.0"/><circle cx="142.4" cy="132.1" r="1.0"/><circle cx="132.1" cy="144.8" r="1.0"/><circle cx="140.5" cy="140.2" r="1.0"/><circle cx="155.3" cy="118.6" r="1.0"/><circle cx="156.5" cy="95.4" r="1.0"/><circle cx="141.1" cy="133.9" r="1.0"/><circle cx="150.0" cy="134.4" r="1.0"/><circle cx="144.9" cy="125.4" r="1.0"/><circle cx="143.2" cy="130.2" r="1.0"/><circle cx="176.3" cy="140.7" r="1.0"/><circle cx="144.2" cy="138.1" r="1.0"/><circle cx="134.3" cy="141.4" r="1.0"/><circle cx="146.3" cy="135.7" r="1.0"/><circle cx="157.2" cy="134.6" r="1.0"/><circle cx="141.5" cy="137.4" r="1.0"/><circle cx="150.0" cy="139.9" r="1.0"/><circle cx="167.8" cy="143.6" r="1.0"/><circle cx="147.4" cy="129.9" r="1.0"/><circle cx="137.8" cy="135.3" r="1.0"/><circle cx="143.5" cy="130.3" r="1.0"/><circle cx="154.5" cy="126.6" r="1.0"/><circle cx="136.0" cy="139.8" r="1.0"/><circle cx="145.5" cy="142.4" r="1.0"/><circle cx="133.5" cy="141.5" r="1.0"/><circle cx="149.2" cy="128.1" r="1.0"/><circle cx="147.9" cy="142.1" r="1.0"/><circle cx="140.4" cy="135.3" r="1.0"/><circle cx="146.1" cy="136.5" r="1.0"/><circle cx="144.2" cy="134.9" r="1.0"/><circle cx="142.8" cy="134.0" r="1.0"/><circle cx="143.2" cy="132.1" r="1.0"/><circle cx="137.8" cy="143.1" r="1.0"/><circle cx="144.7" cy="133.4" r="1.0"/><circle cx="138.7" cy="140.8" r="1.0"/><circle cx="143.8" cy="132.7" r="1.0"/><circle cx="140.7" cy="144.9" r="1.0"/><circle cx="145.2" cy="121.9" r="1.0"/><circle cx="165.2" cy="136.5" r="1.0"/><circle cx="148.5" cy="133.3" r="1.0"/><circle cx="139.5" cy="140.2" r="1.0"/><circle cx="139.0" cy="132.5" r="1.0"/><circle cx="135.0" cy="143.5" r="1.0"/><circle cx="150.7" cy="137.3" r="1.0"/><circle cx="138.4" cy="142.2" r="1.0"/><circle cx="159.4" cy="142.9" r="1.0"/><circle cx="141.3" cy="132.6" r="1.0"/><circle cx="152.5" cy="118.9" r="1.0"/><circle cx="169.8" cy="134.7" r="1.0"/><circle cx="135.2" cy="143.3" r="1.0"/><circle cx="132.0" cy="144.4" r="1.0"/><circle cx="141.0" cy="141.5" r="1.0"/><circle cx="148.3" cy="135.9" r="1.0"/><circle cx="144.5" cy="135.6" r="1.0"/><circle cx="147.3" cy="135.6" r="1.0"/><circle cx="142.3" cy="125.7" r="1.0"/><circle cx="159.4" cy="122.6" r="1.0"/><circle cx="152.4" cy="120.5" r="1.0"/><circle cx="143.3" cy="131.5" r="1.0"/><circle cx="152.2" cy="129.1" r="1.0"/><circle cx="138.5" cy="141.8" r="1.0"/><circle cx="137.8" cy="138.4" r="1.0"/><circle cx="153.2" cy="102.7" r="1.0"/><circle cx="144.0" cy="130.6" r="1.0"/><circle cx="141.5" cy="132.4" r="1.0"/><circle cx="135.8" cy="142.5" r="1.0"/><circle cx="159.3" cy="138.6" r="1.0"/><circle cx="147.7" cy="117.6" r="1.0"/><circle cx="136.7" cy="144.1" r="1.0"/><circle cx="154.1" cy="140.3" r="1.0"/><circle cx="140.5" cy="131.9" r="1.0"/><circle cx="136.0" cy="142.9" r="1.0"/><circle cx="145.6" cy="143.0" r="1.0"/><circle cx="136.9" cy="141.0" r="1.0"/><circle cx="139.0" cy="143.4" r="1.0"/><circle cx="139.0" cy="137.0" r="1.0"/><circle cx="155.1" cy="141.9" r="1.0"/><circle cx="148.2" cy="116.1" r="1.0"/><circle cx="158.6" cy="138.0" r="1.0"/><circle cx="139.3" cy="136.6" r="1.0"/><circle cx="158.0" cy="140.1" r="1.0"/><circle cx="135.2" cy="138.7" r="1.0"/><circle cx="139.8" cy="139.1" r="1.0"/><circle cx="139.0" cy="145.2" r="1.0"/><circle cx="157.4" cy="111.5" r="1.0"/><circle cx="146.6" cy="127.8" r="1.0"/><circle cx="153.4" cy="114.2" r="1.0"/><circle cx="145.9" cy="141.0" r="1.0"/><circle cx="176.5" cy="83.8" r="1.0"/><circle cx="136.9" cy="144.4" r="1.0"/><circle cx="139.5" cy="135.8" r="1.0"/><circle cx="134.9" cy="141.6" r="1.0"/><circle cx="141.6" cy="129.8" r="1.0"/><circle cx="138.6" cy="134.6" r="1.0"/><circle cx="159.4" cy="133.6" r="1.0"/><circle cx="142.3" cy="130.5" r="1.0"/><circle cx="139.9" cy="140.0" r="1.0"/><circle cx="152.4" cy="138.8" r="1.0"/><circle cx="134.9" cy="144.1" r="1.0"/><circle cx="143.1" cy="127.7" r="1.0"/><circle cx="141.1" cy="139.7" r="1.0"/><circle cx="153.7" cy="116.4" r="1.0"/><circle cx="141.9" cy="140.2" r="1.0"/><circle cx="135.3" cy="139.6" r="1.0"/><circle cx="164.1" cy="122.8" r="1.0"/><circle cx="143.5" cy="139.7" r="1.0"/><circle cx="141.6" cy="142.9" r="1.0"/><circle cx="139.5" cy="142.8" r="1.0"/><circle cx="141.6" cy="133.6" r="1.0"/><circle cx="145.7" cy="133.9" r="1.0"/><circle cx="140.9" cy="138.1" r="1.0"/><circle cx="147.5" cy="121.8" r="1.0"/><circle cx="148.0" cy="135.8" r="1.0"/><circle cx="161.9" cy="141.7" r="1.0"/><circle cx="141.3" cy="132.4" r="1.0"/><circle cx="138.1" cy="138.2" r="1.0"/><circle cx="148.7" cy="110.1" r="1.0"/><circle cx="144.0" cy="130.0" r="1.0"/><circle cx="179.5" cy="128.4" r="1.0"/><circle cx="143.8" cy="131.8" r="1.0"/><circle cx="160.5" cy="135.1" r="1.0"/><circle cx="139.1" cy="143.6" r="1.0"/><circle cx="133.7" cy="143.5" r="1.0"/><circle cx="154.7" cy="116.4" r="1.0"/><circle cx="184.3" cy="131.9" r="1.0"/><circle cx="144.7" cy="131.3" r="1.0"/><circle cx="151.7" cy="116.0" r="1.0"/><circle cx="167.1" cy="143.4" r="1.0"/><circle cx="147.7" cy="114.6" r="1.0"/><circle cx="143.9" cy="132.3" r="1.0"/><circle cx="149.3" cy="142.3" r="1.0"/><circle cx="144.7" cy="130.8" r="1.0"/><circle cx="141.4" cy="139.4" r="1.0"/><circle cx="170.7" cy="138.2" r="1.0"/><circle cx="145.1" cy="143.6" r="1.0"/><circle cx="158.3" cy="140.6" r="1.0"/><circle cx="143.3" cy="144.1" r="1.0"/><circle cx="143.9" cy="138.3" r="1.0"/><circle cx="160.2" cy="133.9" r="1.0"/><circle cx="145.5" cy="127.3" r="1.0"/><circle cx="149.2" cy="127.0" r="1.0"/><circle cx="150.0" cy="120.5" r="1.0"/><circle cx="156.4" cy="98.5" r="1.0"/><circle cx="139.8" cy="136.3" r="1.0"/><circle cx="158.8" cy="107.7" r="1.0"/><circle cx="148.0" cy="132.3" r="1.0"/><circle cx="142.8" cy="132.9" r="1.0"/><circle cx="153.5" cy="139.5" r="1.0"/><circle cx="137.3" cy="142.7" r="1.0"/><circle cx="193.2" cy="122.1" r="1.0"/><circle cx="157.2" cy="142.2" r="1.0"/><circle cx="137.4" cy="141.9" r="1.0"/><circle cx="135.2" cy="143.4" r="1.0"/><circle cx="134.2" cy="143.7" r="1.0"/><circle cx="161.2" cy="141.3" r="1.0"/><circle cx="141.3" cy="133.0" r="1.0"/><circle cx="156.6" cy="140.4" r="1.0"/><circle cx="152.5" cy="132.2" r="1.0"/><circle cx="143.8" cy="129.4" r="1.0"/><circle cx="169.3" cy="139.7" r="1.0"/><circle cx="137.7" cy="141.3" r="1.0"/><circle cx="144.7" cy="122.3" r="1.0"/><circle cx="136.6" cy="144.9" r="1.0"/><circle cx="146.4" cy="138.4" r="1.0"/><circle cx="140.0" cy="139.8" r="1.0"/><circle cx="158.6" cy="111.4" r="1.0"/><circle cx="150.2" cy="142.5" r="1.0"/><circle cx="153.4" cy="129.6" r="1.0"/><circle cx="143.5" cy="125.8" r="1.0"/><circle cx="156.4" cy="129.8" r="1.0"/><circle cx="149.0" cy="139.5" r="1.0"/><circle cx="187.7" cy="138.3" r="1.0"/><circle cx="165.2" cy="113.7" r="1.0"/><circle cx="135.8" cy="141.9" r="1.0"/><circle cx="162.0" cy="143.0" r="1.0"/><circle cx="148.3" cy="124.7" r="1.0"/><circle cx="149.3" cy="110.5" r="1.0"/><circle cx="150.7" cy="123.8" r="1.0"/><circle cx="167.5" cy="86.6" r="1.0"/><circle cx="147.2" cy="129.5" r="1.0"/><circle cx="162.6" cy="140.7" r="1.0"/><circle cx="143.6" cy="144.9" r="1.0"/><circle cx="144.3" cy="134.2" r="1.0"/><circle cx="147.3" cy="134.0" r="1.0"/><circle cx="163.8" cy="119.5" r="1.0"/><circle cx="151.8" cy="130.6" r="1.0"/><circle cx="138.9" cy="137.4" r="1.0"/><circle cx="149.8" cy="112.2" r="1.0"/><circle cx="146.6" cy="125.0" r="1.0"/><circle cx="144.5" cy="143.0" r="1.0"/><circle cx="144.3" cy="140.0" r="1.0"/><circle cx="153.5" cy="133.4" r="1.0"/><circle cx="145.4" cy="135.6" r="1.0"/><circle cx="139.3" cy="141.3" r="1.0"/><circle cx="168.1" cy="144.3" r="1.0"/><circle cx="148.8" cy="136.1" r="1.0"/><circle cx="143.2" cy="133.9" r="1.0"/><circle cx="173.7" cy="106.0" r="1.0"/><circle cx="151.2" cy="126.1" r="1.0"/><circle cx="141.7" cy="132.1" r="1.0"/><circle cx="145.7" cy="135.7" r="1.0"/><circle cx="172.3" cy="119.5" r="1.0"/><circle cx="147.9" cy="141.0" r="1.0"/><circle cx="140.7" cy="136.3" r="1.0"/><circle cx="134.5" cy="141.2" r="1.0"/><circle cx="135.4" cy="141.9" r="1.0"/><circle cx="132.7" cy="143.8" r="1.0"/><circle cx="157.6" cy="144.3" r="1.0"/><circle cx="138.8" cy="143.6" r="1.0"/><circle cx="141.0" cy="144.1" r="1.0"/><circle cx="147.5" cy="141.3" r="1.0"/><circle cx="138.7" cy="143.1" r="1.0"/><circle cx="135.2" cy="140.7" r="1.0"/><circle cx="146.7" cy="123.0" r="1.0"/><circle cx="154.8" cy="114.3" r="1.0"/><circle cx="139.7" cy="137.8" r="1.0"/><circle cx="176.1" cy="134.6" r="1.0"/><circle cx="153.6" cy="137.2" r="1.0"/><circle cx="145.4" cy="142.5" r="1.0"/><circle cx="138.6" cy="142.4" r="1.0"/><circle cx="137.0" cy="144.9" r="1.0"/><circle cx="140.7" cy="137.1" r="1.0"/><circle cx="145.6" cy="131.8" r="1.0"/><circle cx="140.0" cy="135.6" r="1.0"/><circle cx="148.1" cy="138.8" r="1.0"/><circle cx="139.7" cy="133.8" r="1.0"/><circle cx="135.7" cy="137.3" r="1.0"/><circle cx="150.9" cy="138.4" r="1.0"/><circle cx="157.5" cy="124.8" r="1.0"/><circle cx="134.8" cy="142.4" r="1.0"/><circle cx="142.6" cy="127.6" r="1.0"/><circle cx="159.7" cy="143.2" r="1.0"/><circle cx="143.3" cy="142.2" r="1.0"/><circle cx="141.9" cy="144.6" r="1.0"/><circle cx="184.9" cy="32.8" r="1.0"/><circle cx="198.0" cy="30.0" r="1.0"/><circle cx="178.7" cy="50.0" r="1.0"/><circle cx="174.5" cy="51.7" r="1.0"/><circle cx="172.9" cy="54.8" r="1.0"/><circle cx="171.0" cy="63.0" r="1.0"/><circle cx="165.5" cy="70.3" r="1.0"/><circle cx="162.7" cy="76.9" r="1.0"/><circle cx="177.8" cy="79.2" r="1.0"/><circle cx="194.5" cy="111.3" r="1.0"/><circle cx="200.1" cy="135.2" r="1.0"/><circle cx="165.7" cy="80.9" r="1.0"/><circle cx="169.7" cy="84.9" r="1.0"/><circle cx="174.3" cy="92.8" r="1.0"/><circle cx="171.1" cy="97.8" r="1.0"/></g>
<g fill="#f5143c" fill-opacity="0.45"><circle cx="210.6" cy="24.3" r="0.8"/><circle cx="210.6" cy="26.2" r="0.8"/><circle cx="210.6" cy="74.2" r="0.8"/><circle cx="210.6" cy="86.3" r="0.8"/><circle cx="210.6" cy="88.3" r="0.8"/><circle cx="210.6" cy="95.0" r="0.8"/><circle cx="210.6" cy="97.2" r="0.8"/><circle cx="210.6" cy="99.4" r="0.8"/><circle cx="210.6" cy="101.6" r="0.8"/><circle cx="210.6" cy="103.8" r="0.8"/><circle cx="210.6" cy="106.0" r="0.8"/><circle cx="210.6" cy="108.2" r="0.8"/><circle cx="210.6" cy="110.4" r="0.8"/><circle cx="210.6" cy="112.6" r="0.8"/><circle cx="210.6" cy="114.8" r="0.8"/><circle cx="210.6" cy="117.0" r="0.8"/><circle cx="210.6" cy="119.2" r="0.8"/><circle cx="210.6" cy="121.4" r="0.8"/><circle cx="210.6" cy="123.6" r="0.8"/><circle cx="210.6" cy="125.8" r="0.8"/><circle cx="210.6" cy="128.0" r="0.8"/><circle cx="210.6" cy="130.2" r="0.8"/><circle cx="210.6" cy="132.4" r="0.8"/><circle cx="210.6" cy="134.6" r="0.8"/><circle cx="210.6" cy="136.8" r="0.8"/><circle cx="210.6" cy="139.0" r="0.8"/><circle cx="210.6" cy="141.2" r="0.8"/><circle cx="210.6" cy="143.4" r="0.8"/></g>
<line x1="210.6" y1="125" x2="210.6" y2="145" stroke="#f5143c" stroke-opacity="0.45" stroke-width="1.2"/>
<line x1="210.6" y1="145.5" x2="210.6" y2="154.6" stroke="#1464d2" stroke-opacity="0.7" stroke-width="1.2"/>
<line x1="27.5" y1="145.2" x2="211.7" y2="145.2" stroke="#111" stroke-width="1.2"/>
<line x1="27.6" y1="160.3" x2="211.7" y2="160.3" stroke="#111" stroke-width="1.2"/>
<line x1="28.2" y1="145.8" x2="28.2" y2="154.6" stroke="#1464d2" stroke-width="1.3"/>
<line x1="28.2" y1="112" x2="28.2" y2="145" stroke="#179a5a" stroke-width="1.2"/>
<line x1="36.20" y1="160.30" x2="36.20" y2="162.60" stroke="#111" stroke-width="1.0" />
<text x="34.70" y="168.20" font-size="6.3" font-weight="bold" text-anchor="middle" fill="#000" >-10</text>
<line x1="75.15" y1="160.30" x2="75.15" y2="162.60" stroke="#111" stroke-width="1.0" />
<text x="73.65" y="168.20" font-size="6.3" font-weight="bold" text-anchor="middle" fill="#000" >-5</text>
<line x1="114.10" y1="160.30" x2="114.10" y2="162.60" stroke="#111" stroke-width="1.0" />
<text x="114.10" y="168.20" font-size="6.3" font-weight="bold" text-anchor="middle" fill="#000" >0</text>
<line x1="153.05" y1="160.30" x2="153.05" y2="162.60" stroke="#111" stroke-width="1.0" />
<text x="153.05" y="168.20" font-size="6.3" font-weight="bold" text-anchor="middle" fill="#000" >5</text>
<line x1="192.00" y1="160.30" x2="192.00" y2="162.60" stroke="#111" stroke-width="1.0" />
<text x="192.00" y="168.20" font-size="6.3" font-weight="bold" text-anchor="middle" fill="#000" >10</text>
<line x1="25.80" y1="59.40" x2="28.20" y2="59.40" stroke="#111" stroke-width="1.0" />
<text x="25.40" y="61.70" font-size="6.4" font-weight="bold" text-anchor="end" fill="#000" >14</text>
<line x1="25.80" y1="107.40" x2="28.20" y2="107.40" stroke="#111" stroke-width="1.0" />
<text x="25.40" y="109.70" font-size="6.4" font-weight="bold" text-anchor="end" fill="#000" >7</text>
<line x1="25.80" y1="145.20" x2="28.20" y2="145.20" stroke="#111" stroke-width="1.0" />
<text x="25.40" y="147.50" font-size="6.4" font-weight="bold" text-anchor="end" fill="#000" >1.3</text>
<line x1="25.80" y1="153.80" x2="28.20" y2="153.80" stroke="#111" stroke-width="1.0" />
<text x="25.40" y="156.70" font-size="6.4" font-weight="bold" text-anchor="end" fill="#000" >0</text>
<text x="83.0" y="174.6" font-size="7.3" font-weight="bold" textLength="60.2" lengthAdjust="spacingAndGlyphs">log<tspan font-size="4.8" dy="1.7">2</tspan><tspan dy="-1.7">(fold change)</tspan></text>
<text x="0" y="0" font-size="7.2" font-weight="bold" transform="translate(12.4 115.6) rotate(-90)" textLength="41.3" lengthAdjust="spacingAndGlyphs">-log<tspan font-size="4.7" dy="1.7">10</tspan><tspan dy="-1.7">(padj)</tspan></text>
<line x1="243.90" y1="24.50" x2="243.90" y2="161.90" stroke="#111" stroke-width="1.3" />
<line x1="241.20" y1="161.30" x2="380.90" y2="161.30" stroke="#111" stroke-width="1.3" />
<line x1="241.20" y1="161.30" x2="243.90" y2="161.30" stroke="#222" stroke-width="1.0" />
<text x="239.60" y="164.40" font-size="8.6" font-weight="bold" text-anchor="end" fill="#000" >0</text>
<line x1="241.20" y1="127.10" x2="243.90" y2="127.10" stroke="#222" stroke-width="1.0" />
<text x="239.60" y="130.20" font-size="8.6" font-weight="bold" text-anchor="end" fill="#000" >5</text>
<line x1="241.20" y1="92.90" x2="243.90" y2="92.90" stroke="#222" stroke-width="1.0" />
<text x="239.60" y="96.00" font-size="8.6" font-weight="bold" text-anchor="end" fill="#000" >10</text>
<line x1="241.20" y1="58.70" x2="243.90" y2="58.70" stroke="#222" stroke-width="1.0" />
<text x="239.60" y="61.80" font-size="8.6" font-weight="bold" text-anchor="end" fill="#000" >15</text>
<line x1="241.20" y1="24.50" x2="243.90" y2="24.50" stroke="#222" stroke-width="1.0" />
<text x="239.60" y="27.60" font-size="8.6" font-weight="bold" text-anchor="end" fill="#000" >20</text>
<line x1="260.80" y1="161.30" x2="260.80" y2="163.90" stroke="#222" stroke-width="1.0" />
<rect x="249.90" y="154.46" width="10.90" height="6.84" fill="#a3a3a6" />
<rect x="261.20" y="109.18" width="10.80" height="52.12" fill="#000" />
<line x1="255.35" y1="151.31" x2="255.35" y2="157.61" stroke="#000" stroke-width="1.0" />
<line x1="252.75" y1="151.31" x2="257.95" y2="151.31" stroke="#000" stroke-width="1.0" />
<line x1="252.75" y1="157.61" x2="257.95" y2="157.61" stroke="#000" stroke-width="1.0" />
<line x1="266.60" y1="104.39" x2="266.60" y2="109.18" stroke="#000" stroke-width="1.0" />
<line x1="264.00" y1="104.39" x2="269.20" y2="104.39" stroke="#000" stroke-width="1.0" />
<line x1="294.85" y1="161.30" x2="294.85" y2="163.90" stroke="#222" stroke-width="1.0" />
<rect x="283.95" y="154.46" width="10.90" height="6.84" fill="#a3a3a6" />
<rect x="295.25" y="54.12" width="10.80" height="107.18" fill="#000" />
<line x1="289.40" y1="153.78" x2="289.40" y2="155.14" stroke="#000" stroke-width="1.0" />
<line x1="286.80" y1="153.78" x2="292.00" y2="153.78" stroke="#000" stroke-width="1.0" />
<line x1="286.80" y1="155.14" x2="292.00" y2="155.14" stroke="#000" stroke-width="1.0" />
<line x1="300.65" y1="50.63" x2="300.65" y2="54.12" stroke="#000" stroke-width="1.0" />
<line x1="298.05" y1="50.63" x2="303.25" y2="50.63" stroke="#000" stroke-width="1.0" />
<line x1="328.90" y1="161.30" x2="328.90" y2="163.90" stroke="#222" stroke-width="1.0" />
<rect x="318.00" y="154.46" width="10.90" height="6.84" fill="#a3a3a6" />
<rect x="329.30" y="137.91" width="10.80" height="23.39" fill="#000" />
<line x1="323.45" y1="153.78" x2="323.45" y2="155.14" stroke="#000" stroke-width="1.0" />
<line x1="320.85" y1="153.78" x2="326.05" y2="153.78" stroke="#000" stroke-width="1.0" />
<line x1="320.85" y1="155.14" x2="326.05" y2="155.14" stroke="#000" stroke-width="1.0" />
<line x1="334.70" y1="136.88" x2="334.70" y2="137.91" stroke="#000" stroke-width="1.0" />
<line x1="332.10" y1="136.88" x2="337.30" y2="136.88" stroke="#000" stroke-width="1.0" />
<line x1="363.00" y1="161.30" x2="363.00" y2="163.90" stroke="#222" stroke-width="1.0" />
<rect x="352.10" y="154.46" width="10.90" height="6.84" fill="#a3a3a6" />
<rect x="363.40" y="57.67" width="10.80" height="103.63" fill="#000" />
<line x1="357.55" y1="152.41" x2="357.55" y2="156.51" stroke="#000" stroke-width="1.0" />
<line x1="354.95" y1="152.41" x2="360.15" y2="152.41" stroke="#000" stroke-width="1.0" />
<line x1="354.95" y1="156.51" x2="360.15" y2="156.51" stroke="#000" stroke-width="1.0" />
<line x1="368.80" y1="56.37" x2="368.80" y2="57.67" stroke="#000" stroke-width="1.0" />
<line x1="366.20" y1="56.37" x2="371.40" y2="56.37" stroke="#000" stroke-width="1.0" />
<path d="M254.80 99.70 V97.50 H267.10 V99.70" fill="none" stroke="#000" stroke-width="1"/>
<g fill="#000"><polygon points="259.23,90.83 259.81,92.23 261.32,92.35 260.17,93.34 260.52,94.81 259.23,94.02 257.93,94.81 258.28,93.34 257.13,92.35 258.64,92.23"/><polygon points="262.98,90.83 263.56,92.23 265.07,92.35 263.92,93.34 264.27,94.81 262.98,94.02 261.68,94.81 262.03,93.34 260.88,92.35 262.39,92.23"/></g>
<path d="M288.85 47.30 V45.20 H301.15 V47.30" fill="none" stroke="#000" stroke-width="1"/>
<g fill="#000"><polygon points="291.40,38.63 291.98,40.03 293.49,40.15 292.34,41.14 292.69,42.61 291.40,41.82 290.11,42.61 290.46,41.14 289.31,40.15 290.82,40.03"/><polygon points="295.15,38.63 295.73,40.03 297.24,40.15 296.09,41.14 296.44,42.61 295.15,41.82 293.86,42.61 294.21,41.14 293.06,40.15 294.57,40.03"/><polygon points="298.90,38.63 299.48,40.03 300.99,40.15 299.84,41.14 300.19,42.61 298.90,41.82 297.61,42.61 297.96,41.14 296.81,40.15 298.32,40.03"/></g>
<path d="M322.90 133.60 V131.20 H335.20 V133.60" fill="none" stroke="#000" stroke-width="1"/>
<g fill="#000"><polygon points="327.32,124.93 327.91,126.33 329.42,126.45 328.27,127.44 328.62,128.91 327.32,128.12 326.03,128.91 326.38,127.44 325.23,126.45 326.74,126.33"/><polygon points="331.07,124.93 331.66,126.33 333.17,126.45 332.02,127.44 332.37,128.91 331.07,128.12 329.78,128.91 330.13,127.44 328.98,126.45 330.49,126.33"/></g>
<path d="M357.00 51.50 V49.50 H369.30 V51.50" fill="none" stroke="#000" stroke-width="1"/>
<g fill="#000"><polygon points="359.55,43.23 360.13,44.63 361.64,44.75 360.49,45.74 360.84,47.21 359.55,46.42 358.26,47.21 358.61,45.74 357.46,44.75 358.97,44.63"/><polygon points="363.30,43.23 363.88,44.63 365.39,44.75 364.24,45.74 364.59,47.21 363.30,46.42 362.01,47.21 362.36,45.74 361.21,44.75 362.72,44.63"/><polygon points="367.05,43.23 367.63,44.63 369.14,44.75 367.99,45.74 368.34,47.21 367.05,46.42 365.76,47.21 366.11,45.74 364.96,44.75 366.47,44.63"/></g>
<rect x="253.80" y="20.10" width="12.10" height="2.70" fill="#a3a3a6" />
<rect x="253.80" y="28.10" width="12.10" height="2.80" fill="#000" />
<text x="273.40" y="24.20" font-size="6.6" font-weight="bold" text-anchor="start" fill="#000" textLength="17.8" lengthAdjust="spacingAndGlyphs" >DDCs</text>
<text x="273.40" y="32.20" font-size="6.6" font-weight="bold" text-anchor="start" fill="#000" textLength="18.8" lengthAdjust="spacingAndGlyphs" >CMCs</text>
<text x="0" y="0" font-size="7.7" font-weight="bold" transform="translate(225.0 145.2) rotate(-90)" textLength="106.6" lengthAdjust="spacing">Relative&#160; gene expression</text>
<text x="0" y="0" font-size="7" font-weight="bold" font-style="italic" text-anchor="end" transform="translate(262.70 170.6) rotate(-45)">Cluster 96</text>
<text x="0" y="0" font-size="7" font-weight="bold" font-style="italic" text-anchor="end" transform="translate(296.75 170.6) rotate(-45)">Cluster 95</text>
<text x="0" y="0" font-size="7" font-weight="bold" font-style="italic" text-anchor="end" transform="translate(330.80 170.6) rotate(-45)">Cluster 71</text>
<text x="0" y="0" font-size="7" font-weight="bold" font-style="italic" text-anchor="end" transform="translate(364.90 170.6) rotate(-45)">Cluster 04</text>
<rect x="479.30" y="12.15" width="95.50" height="5.70" fill="#66c2a5" />
<line x1="470.60" y1="15.00" x2="473.40" y2="15.00" stroke="#111" stroke-width="0.9" />
<text x="401.00" y="16.65" font-size="4.65" font-weight="bold" text-anchor="start" fill="#111" textLength="69.2" lengthAdjust="spacingAndGlyphs" stroke="#111" stroke-width="0.18">cellular protein metabolic pro...</text>
<rect x="479.30" y="18.67" width="10.60" height="5.70" fill="#66c2a5" />
<line x1="470.60" y1="21.52" x2="473.40" y2="21.52" stroke="#111" stroke-width="0.9" />
<text x="401.80" y="23.17" font-size="4.65" font-weight="bold" text-anchor="start" fill="#111" textLength="68.4" lengthAdjust="spacingAndGlyphs" stroke="#111" stroke-width="0.18">protein modification by small ...</text>
<rect x="479.30" y="25.19" width="120.50" height="5.70" fill="#66c2a5" />
<line x1="470.60" y1="28.04" x2="473.40" y2="28.04" stroke="#111" stroke-width="0.9" />
<text x="412.40" y="29.69" font-size="4.65" font-weight="bold" text-anchor="start" fill="#111" textLength="57.8" lengthAdjust="spacingAndGlyphs" stroke="#111" stroke-width="0.18">protein metabolic process</text>
<rect x="479.30" y="31.71" width="32.20" height="5.70" fill="#66c2a5" />
<line x1="470.60" y1="34.56" x2="473.40" y2="34.56" stroke="#111" stroke-width="0.9" />
<text x="431.00" y="36.21" font-size="4.65" font-weight="bold" text-anchor="start" fill="#111" textLength="39.2" lengthAdjust="spacingAndGlyphs" stroke="#111" stroke-width="0.18">catabolic process</text>
<rect x="479.30" y="38.23" width="60.60" height="5.70" fill="#66c2a5" />
<line x1="470.60" y1="41.08" x2="473.40" y2="41.08" stroke="#111" stroke-width="0.9" />
<text x="399.90" y="42.73" font-size="4.65" font-weight="bold" text-anchor="start" fill="#111" textLength="70.3" lengthAdjust="spacingAndGlyphs" stroke="#111" stroke-width="0.18">cellular protein modification p...</text>
<rect x="479.30" y="44.75" width="60.60" height="5.70" fill="#66c2a5" />
<line x1="470.60" y1="47.60" x2="473.40" y2="47.60" stroke="#111" stroke-width="0.9" />
<text x="406.30" y="49.25" font-size="4.65" font-weight="bold" text-anchor="start" fill="#111" textLength="63.9" lengthAdjust="spacingAndGlyphs" stroke="#111" stroke-width="0.18">protein modification process</text>
<rect x="479.30" y="51.27" width="8.70" height="5.70" fill="#66c2a5" />
<line x1="470.60" y1="54.12" x2="473.40" y2="54.12" stroke="#111" stroke-width="0.9" />
<text x="398.30" y="55.77" font-size="4.65" font-weight="bold" text-anchor="start" fill="#111" textLength="71.9" lengthAdjust="spacingAndGlyphs" stroke="#111" stroke-width="0.18">protein modification by small p...</text>
<rect x="479.30" y="57.79" width="8.70" height="5.70" fill="#66c2a5" />
<line x1="470.60" y1="60.64" x2="473.40" y2="60.64" stroke="#111" stroke-width="0.9" />
<text x="423.00" y="62.29" font-size="4.65" font-weight="bold" text-anchor="start" fill="#111" textLength="47.2" lengthAdjust="spacingAndGlyphs" stroke="#111" stroke-width="0.18">protein ubiquitination</text>
<rect x="479.30" y="64.31" width="10.00" height="5.70" fill="#66c2a5" />
<line x1="470.60" y1="67.16" x2="473.40" y2="67.16" stroke="#111" stroke-width="0.9" />
<text x="395.90" y="68.81" font-size="4.65" font-weight="bold" text-anchor="start" fill="#111" textLength="74.3" lengthAdjust="spacingAndGlyphs" stroke="#111" stroke-width="0.18">cellular macromolecule catabolic...</text>
<rect x="479.30" y="70.83" width="24.60" height="5.70" fill="#66c2a5" />
<line x1="470.60" y1="73.68" x2="473.40" y2="73.68" stroke="#111" stroke-width="0.9" />
<text x="413.30" y="75.33" font-size="4.65" font-weight="bold" text-anchor="start" fill="#111" textLength="56.9" lengthAdjust="spacingAndGlyphs" stroke="#111" stroke-width="0.18">cellular catabolic process</text>
<rect x="479.30" y="77.35" width="25.90" height="5.70" fill="#66c2a5" />
<line x1="470.60" y1="80.20" x2="473.40" y2="80.20" stroke="#111" stroke-width="0.9" />
<text x="395.20" y="81.85" font-size="4.65" font-weight="bold" text-anchor="start" fill="#111" textLength="75.0" lengthAdjust="spacingAndGlyphs" stroke="#111" stroke-width="0.18">organic substance catabolic pro...</text>
<rect x="479.30" y="83.87" width="5.60" height="5.70" fill="#66c2a5" />
<line x1="470.60" y1="86.72" x2="473.40" y2="86.72" stroke="#111" stroke-width="0.9" />
<text x="414.20" y="88.37" font-size="4.65" font-weight="bold" text-anchor="start" fill="#111" textLength="56.0" lengthAdjust="spacingAndGlyphs" stroke="#111" stroke-width="0.18">protein catabolic process</text>
<rect x="479.30" y="90.39" width="2.30" height="5.70" fill="#66c2a5" />
<line x1="470.60" y1="93.24" x2="473.40" y2="93.24" stroke="#111" stroke-width="0.9" />
<text x="422.00" y="94.89" font-size="4.65" font-weight="bold" text-anchor="start" fill="#111" textLength="48.2" lengthAdjust="spacingAndGlyphs" stroke="#111" stroke-width="0.18">ferrous iron transport</text>
<rect x="479.30" y="96.91" width="1.70" height="5.70" fill="#66c2a5" />
<line x1="470.60" y1="99.76" x2="473.40" y2="99.76" stroke="#111" stroke-width="0.9" />
<text x="394.30" y="101.41" font-size="4.65" font-weight="bold" text-anchor="start" fill="#111" textLength="75.9" lengthAdjust="spacingAndGlyphs" stroke="#111" stroke-width="0.18">regulation of microtubule-based...</text>
<rect x="479.30" y="103.43" width="1.70" height="5.70" fill="#66c2a5" />
<line x1="470.60" y1="106.28" x2="473.40" y2="106.28" stroke="#111" stroke-width="0.9" />
<text x="397.10" y="107.93" font-size="4.65" font-weight="bold" text-anchor="start" fill="#111" textLength="73.1" lengthAdjust="spacingAndGlyphs" stroke="#111" stroke-width="0.18">regulation of microtubule cytos...</text>
<rect x="479.30" y="109.95" width="3.50" height="5.70" fill="#fc8d62" />
<line x1="470.60" y1="112.80" x2="473.40" y2="112.80" stroke="#111" stroke-width="0.9" />
<text x="444.10" y="114.45" font-size="4.65" font-weight="bold" text-anchor="start" fill="#111" textLength="26.1" lengthAdjust="spacingAndGlyphs" stroke="#111" stroke-width="0.18">kinetochore</text>
<rect x="479.30" y="116.47" width="0.80" height="5.70" fill="#fc8d62" />
<line x1="470.60" y1="119.32" x2="473.40" y2="119.32" stroke="#111" stroke-width="0.9" />
<text x="398.10" y="120.97" font-size="4.65" font-weight="bold" text-anchor="start" fill="#111" textLength="72.1" lengthAdjust="spacingAndGlyphs" stroke="#111" stroke-width="0.18">vacuolar proton-transporting V...</text>
<rect x="479.30" y="122.99" width="1.20" height="5.70" fill="#fc8d62" />
<line x1="470.60" y1="125.84" x2="473.40" y2="125.84" stroke="#111" stroke-width="0.9" />
<text x="426.80" y="127.49" font-size="4.65" font-weight="bold" text-anchor="start" fill="#e8304a" textLength="43.4" lengthAdjust="spacingAndGlyphs" stroke="#e8304a" stroke-width="0.18">vacuolar membrane</text>
<rect x="479.30" y="129.51" width="1.20" height="5.70" fill="#fc8d62" />
<line x1="470.60" y1="132.36" x2="473.40" y2="132.36" stroke="#111" stroke-width="0.9" />
<text x="441.20" y="134.01" font-size="4.65" font-weight="bold" text-anchor="start" fill="#111" textLength="29.0" lengthAdjust="spacingAndGlyphs" stroke="#111" stroke-width="0.18">vacuolar part</text>
<rect x="479.30" y="136.03" width="0.60" height="5.70" fill="#fc8d62" />
<line x1="470.60" y1="138.88" x2="473.40" y2="138.88" stroke="#111" stroke-width="0.9" />
<text x="394.90" y="140.53" font-size="4.65" font-weight="bold" text-anchor="start" fill="#111" textLength="75.3" lengthAdjust="spacingAndGlyphs" stroke="#111" stroke-width="0.18">vacuolar proton-transporting V-...</text>
<rect x="479.30" y="142.55" width="1.50" height="5.70" fill="#fc8d62" />
<line x1="470.60" y1="145.40" x2="473.40" y2="145.40" stroke="#111" stroke-width="0.9" />
<text x="453.30" y="147.05" font-size="4.65" font-weight="bold" text-anchor="start" fill="#e8304a" textLength="16.9" lengthAdjust="spacingAndGlyphs" stroke="#e8304a" stroke-width="0.18">vacuole</text>
<rect x="479.30" y="149.07" width="0.50" height="5.70" fill="#fc8d62" />
<line x1="470.60" y1="151.92" x2="473.40" y2="151.92" stroke="#111" stroke-width="0.9" />
<text x="393.10" y="153.57" font-size="4.65" font-weight="bold" text-anchor="start" fill="#111" textLength="77.1" lengthAdjust="spacingAndGlyphs" stroke="#111" stroke-width="0.18">proton-transporting V-type ATPa...</text>
<rect x="479.30" y="155.59" width="54.50" height="5.70" fill="#fc8d62" />
<line x1="470.60" y1="158.44" x2="473.40" y2="158.44" stroke="#111" stroke-width="0.9" />
<text x="390.30" y="160.09" font-size="4.65" font-weight="bold" text-anchor="start" fill="#111" textLength="79.9" lengthAdjust="spacingAndGlyphs" stroke="#111" stroke-width="0.18">intracellular non-membrane-boun...</text>
<rect x="479.30" y="162.11" width="4.70" height="5.70" fill="#fc8d62" />
<line x1="470.60" y1="164.96" x2="473.40" y2="164.96" stroke="#111" stroke-width="0.9" />
<text x="396.20" y="166.61" font-size="4.65" font-weight="bold" text-anchor="start" fill="#111" textLength="74.0" lengthAdjust="spacingAndGlyphs" stroke="#111" stroke-width="0.18">chromosome, centromeric region</text>
<rect x="479.30" y="168.63" width="133.80" height="5.70" fill="#8da0cb" />
<line x1="470.60" y1="171.48" x2="473.40" y2="171.48" stroke="#111" stroke-width="0.9" />
<text x="436.90" y="173.13" font-size="4.65" font-weight="bold" text-anchor="start" fill="#111" textLength="33.3" lengthAdjust="spacingAndGlyphs" stroke="#111" stroke-width="0.18">protein binding</text>
<rect x="479.30" y="175.15" width="8.10" height="5.70" fill="#8da0cb" />
<line x1="470.60" y1="178.00" x2="473.40" y2="178.00" stroke="#111" stroke-width="0.9" />
<text x="398.10" y="179.65" font-size="4.65" font-weight="bold" text-anchor="start" fill="#111" textLength="72.1" lengthAdjust="spacingAndGlyphs" stroke="#111" stroke-width="0.18">ubiquitin-protein transferase a...</text>
<rect x="479.30" y="181.67" width="8.20" height="5.70" fill="#8da0cb" />
<line x1="470.60" y1="184.52" x2="473.40" y2="184.52" stroke="#111" stroke-width="0.9" />
<text x="400.80" y="186.17" font-size="4.65" font-weight="bold" text-anchor="start" fill="#111" textLength="69.4" lengthAdjust="spacingAndGlyphs" stroke="#111" stroke-width="0.18">ubiquitin-like protein transfer...</text>
<rect x="479.30" y="188.19" width="7.80" height="5.70" fill="#8da0cb" />
<line x1="470.60" y1="191.04" x2="473.40" y2="191.04" stroke="#111" stroke-width="0.9" />
<text x="397.10" y="192.69" font-size="4.65" font-weight="bold" text-anchor="start" fill="#111" textLength="73.1" lengthAdjust="spacingAndGlyphs" stroke="#111" stroke-width="0.18">protein serine/threonine kinase...</text>
<rect x="479.30" y="194.71" width="1.80" height="5.70" fill="#8da0cb" />
<line x1="470.60" y1="197.56" x2="473.40" y2="197.56" stroke="#111" stroke-width="0.9" />
<text x="394.20" y="199.21" font-size="4.65" font-weight="bold" text-anchor="start" fill="#111" textLength="76.0" lengthAdjust="spacingAndGlyphs" stroke="#111" stroke-width="0.18">ferrous iron transmembrane tran...</text>
<rect x="479.30" y="201.23" width="4.30" height="5.70" fill="#8da0cb" />
<line x1="470.60" y1="204.08" x2="473.40" y2="204.08" stroke="#111" stroke-width="0.9" />
<text x="399.20" y="205.73" font-size="4.65" font-weight="bold" text-anchor="start" fill="#111" textLength="71.0" lengthAdjust="spacingAndGlyphs" stroke="#111" stroke-width="0.18">divalent inorganic cation trans...</text>
<rect x="473.4" y="11.4" width="146.0" height="195.9" fill="none" stroke="#111" stroke-width="1.1"/>
<line x1="479.40" y1="207.30" x2="479.40" y2="209.60" stroke="#111" stroke-width="0.9" />
<text x="479.40" y="213.60" font-size="4.6" font-weight="bold" text-anchor="middle" fill="#000" >0</text>
<line x1="529.20" y1="207.30" x2="529.20" y2="209.60" stroke="#111" stroke-width="0.9" />
<text x="529.20" y="213.60" font-size="4.6" font-weight="bold" text-anchor="middle" fill="#000" >10000</text>
<line x1="579.00" y1="207.30" x2="579.00" y2="209.60" stroke="#111" stroke-width="0.9" />
<text x="579.00" y="213.60" font-size="4.6" font-weight="bold" text-anchor="middle" fill="#000" >20000</text>
<text x="546.90" y="221.50" font-size="5.8" font-weight="bold" text-anchor="middle" fill="#000" >Number of genes</text>
<text x="0" y="0" font-size="5.6" font-weight="bold" transform="translate(391.9 120.7) rotate(-90)">GO term</text>
<rect x="628.90" y="100.00" width="8.60" height="8.00" fill="#66c2a5" />
<text x="639.00" y="105.70" font-size="4.72" font-weight="bold" text-anchor="start" fill="#000" >Biological process</text>
<rect x="628.90" y="109.00" width="8.60" height="8.00" fill="#fc8d62" />
<text x="639.00" y="114.70" font-size="4.72" font-weight="bold" text-anchor="start" fill="#000" >Cellular component</text>
<rect x="628.90" y="118.00" width="8.60" height="8.00" fill="#8da0cb" />
<text x="639.00" y="123.70" font-size="4.72" font-weight="bold" text-anchor="start" fill="#000" >Molecular function</text>
<g shape-rendering="crispEdges"><rect x="45.10" y="209.00" width="14.70" height="1.05" fill="#ff3737"/><rect x="45.10" y="210.00" width="14.70" height="2.05" fill="#ff3d3d"/><rect x="45.10" y="212.00" width="14.70" height="2.05" fill="#ff4545"/><rect x="45.10" y="214.00" width="14.70" height="2.05" fill="#ff4444"/><rect x="45.10" y="216.00" width="14.70" height="1.05" fill="#ff3838"/><rect x="45.10" y="217.00" width="14.70" height="1.05" fill="#ff7a7a"/><rect x="45.10" y="218.00" width="14.70" height="1.05" fill="#ff6f6f"/><rect x="45.10" y="219.00" width="14.70" height="2.05" fill="#ff6868"/><rect x="45.10" y="221.00" width="14.70" height="1.05" fill="#ff7d7d"/><rect x="45.10" y="222.00" width="14.70" height="1.05" fill="#ff8e8e"/><rect x="45.10" y="223.00" width="14.70" height="1.05" fill="#ff9292"/><rect x="45.10" y="224.00" width="14.70" height="1.05" fill="#ff7d7d"/><rect x="45.10" y="225.00" width="14.70" height="2.05" fill="#ff7575"/><rect x="45.10" y="227.00" width="14.70" height="1.55" fill="#ff6565"/><rect x="45.10" y="228.50" width="14.70" height="0.55" fill="#ff6767"/><rect x="45.10" y="229.00" width="14.70" height="1.05" fill="#ff6969"/><rect x="45.10" y="230.00" width="14.70" height="1.55" fill="#ff6767"/><rect x="45.10" y="231.50" width="14.70" height="1.05" fill="#ff6363"/><rect x="45.10" y="232.50" width="14.70" height="1.05" fill="#ff6969"/><rect x="45.10" y="233.50" width="14.70" height="1.05" fill="#ff6060"/><rect x="45.10" y="234.50" width="14.70" height="1.05" fill="#ff6363"/><rect x="45.10" y="235.50" width="14.70" height="1.05" fill="#ff6161"/><rect x="45.10" y="236.50" width="14.70" height="0.55" fill="#ff6b6b"/><rect x="45.10" y="237.00" width="14.70" height="2.05" fill="#ff4f4f"/><rect x="45.10" y="239.00" width="14.70" height="1.05" fill="#ff6262"/><rect x="45.10" y="240.00" width="14.70" height="2.05" fill="#ff5151"/><rect x="45.10" y="242.00" width="14.70" height="2.05" fill="#ff5555"/><rect x="45.10" y="244.00" width="14.70" height="1.55" fill="#ff6565"/><rect x="45.10" y="245.50" width="14.70" height="2.05" fill="#ff5151"/><rect x="45.10" y="247.50" width="14.70" height="1.05" fill="#ff4f4f"/><rect x="45.10" y="248.50" width="14.70" height="1.55" fill="#ff4c4c"/><rect x="45.10" y="250.00" width="14.70" height="1.05" fill="#ff8686"/><rect x="45.10" y="251.00" width="14.70" height="1.05" fill="#ff8686"/><rect x="45.10" y="252.00" width="14.70" height="1.05" fill="#ff8686"/><rect x="45.10" y="253.00" width="14.70" height="1.05" fill="#ff3030"/><rect x="45.10" y="254.00" width="14.70" height="1.05" fill="#ff3939"/><rect x="45.10" y="255.00" width="14.70" height="1.05" fill="#ff3232"/><rect x="45.10" y="256.00" width="14.70" height="1.55" fill="#ff6a6a"/><rect x="45.10" y="257.50" width="14.70" height="1.05" fill="#ff6666"/><rect x="45.10" y="258.50" width="14.70" height="0.55" fill="#ff7777"/><rect x="45.10" y="259.00" width="14.70" height="1.55" fill="#ffc9c9"/><rect x="45.10" y="260.50" width="14.70" height="1.05" fill="#ffd9d9"/><rect x="45.10" y="261.50" width="14.70" height="0.55" fill="#ffd3d3"/><rect x="45.10" y="262.00" width="14.70" height="1.05" fill="#ff7272"/><rect x="45.10" y="263.00" width="14.70" height="1.05" fill="#ff6f6f"/><rect x="45.10" y="264.00" width="14.70" height="2.05" fill="#ff6464"/><rect x="45.10" y="266.00" width="14.70" height="1.05" fill="#ff7171"/><rect x="45.10" y="267.00" width="14.70" height="1.05" fill="#ff3434"/><rect x="45.10" y="268.00" width="14.70" height="1.05" fill="#ff6868"/><rect x="45.10" y="269.00" width="14.70" height="2.05" fill="#ff7272"/><rect x="45.10" y="271.00" width="14.70" height="1.05" fill="#ff6060"/><rect x="45.10" y="272.00" width="14.70" height="1.55" fill="#ff7878"/><rect x="45.10" y="273.50" width="14.70" height="1.55" fill="#ff8787"/><rect x="45.10" y="275.00" width="14.70" height="1.05" fill="#ff8181"/><rect x="45.10" y="276.00" width="14.70" height="1.05" fill="#ff8181"/><rect x="45.10" y="277.00" width="14.70" height="1.05" fill="#ff8787"/><rect x="45.10" y="278.00" width="14.70" height="1.05" fill="#fff1f1"/><rect x="45.10" y="279.00" width="14.70" height="2.05" fill="#ffdada"/><rect x="45.10" y="281.00" width="14.70" height="1.05" fill="#fff1f1"/><rect x="45.10" y="282.00" width="14.70" height="2.05" fill="#ff7b7b"/><rect x="45.10" y="284.00" width="14.70" height="1.05" fill="#ff9191"/><rect x="45.10" y="285.00" width="14.70" height="1.55" fill="#ff8f8f"/><rect x="45.10" y="286.50" width="14.70" height="1.55" fill="#ff8a8a"/><rect x="45.10" y="288.00" width="14.70" height="1.65" fill="#ff8787"/><rect x="45.10" y="289.60" width="14.70" height="2.05" fill="#8484ff"/><rect x="45.10" y="291.60" width="14.70" height="1.55" fill="#8080ff"/><rect x="45.10" y="293.10" width="14.70" height="1.05" fill="#8686ff"/><rect x="45.10" y="294.10" width="14.70" height="1.05" fill="#9494ff"/><rect x="45.10" y="295.10" width="14.70" height="1.05" fill="#8383ff"/><rect x="45.10" y="296.10" width="14.70" height="1.55" fill="#8d8dff"/><rect x="45.10" y="297.60" width="14.70" height="2.05" fill="#8383ff"/><rect x="45.10" y="299.60" width="14.70" height="0.45" fill="#8f8fff"/><rect x="45.10" y="300.00" width="14.70" height="1.05" fill="#7171ff"/><rect x="45.10" y="301.00" width="14.70" height="1.05" fill="#7777ff"/><rect x="45.10" y="302.00" width="14.70" height="1.05" fill="#6e6eff"/><rect x="45.10" y="303.00" width="14.70" height="2.05" fill="#6565ff"/><rect x="45.10" y="305.00" width="14.70" height="1.05" fill="#8e8eff"/><rect x="45.10" y="306.00" width="14.70" height="1.55" fill="#7b7bff"/><rect x="45.10" y="307.50" width="14.70" height="1.55" fill="#8383ff"/><rect x="45.10" y="309.00" width="14.70" height="1.05" fill="#8888ff"/><rect x="45.10" y="310.00" width="14.70" height="1.05" fill="#7d7dff"/><rect x="45.10" y="311.00" width="14.70" height="2.05" fill="#7e7eff"/><rect x="45.10" y="313.00" width="14.70" height="1.05" fill="#8888ff"/><rect x="45.10" y="314.00" width="14.70" height="1.05" fill="#8d8dff"/><rect x="45.10" y="315.00" width="14.70" height="1.05" fill="#8282ff"/><rect x="45.10" y="316.00" width="14.70" height="1.05" fill="#7575ff"/><rect x="45.10" y="317.00" width="14.70" height="1.05" fill="#8181ff"/><rect x="45.10" y="318.00" width="14.70" height="1.05" fill="#7272ff"/><rect x="45.10" y="319.00" width="14.70" height="1.55" fill="#e1e1ff"/><rect x="45.10" y="320.50" width="14.70" height="0.55" fill="#dbdbff"/><rect x="45.10" y="321.00" width="14.70" height="1.55" fill="#7878ff"/><rect x="45.10" y="322.50" width="14.70" height="1.55" fill="#7a7aff"/><rect x="45.10" y="324.00" width="14.70" height="2.05" fill="#7e7eff"/><rect x="45.10" y="326.00" width="14.70" height="1.05" fill="#7373ff"/><rect x="45.10" y="327.00" width="14.70" height="1.05" fill="#7272ff"/><rect x="45.10" y="328.00" width="14.70" height="1.55" fill="#b7b7ff"/><rect x="45.10" y="329.50" width="14.70" height="1.55" fill="#a8a8ff"/><rect x="45.10" y="331.00" width="14.70" height="1.05" fill="#6868ff"/><rect x="45.10" y="332.00" width="14.70" height="1.55" fill="#7f7fff"/><rect x="45.10" y="333.50" width="14.70" height="1.55" fill="#6868ff"/><rect x="45.10" y="335.00" width="14.70" height="2.05" fill="#6969ff"/><rect x="45.10" y="337.00" width="14.70" height="1.05" fill="#5d5dff"/><rect x="45.10" y="338.00" width="14.70" height="2.05" fill="#5858ff"/><rect x="45.10" y="340.00" width="14.70" height="1.05" fill="#8282ff"/><rect x="45.10" y="341.00" width="14.70" height="2.05" fill="#7d7dff"/><rect x="45.10" y="343.00" width="14.70" height="2.05" fill="#8787ff"/><rect x="45.10" y="345.00" width="14.70" height="1.05" fill="#7777ff"/><rect x="45.10" y="346.00" width="14.70" height="1.05" fill="#8282ff"/><rect x="45.10" y="347.00" width="14.70" height="1.05" fill="#7777ff"/><rect x="45.10" y="348.00" width="14.70" height="2.05" fill="#8d8dff"/><rect x="45.10" y="350.00" width="14.70" height="2.05" fill="#8f8fff"/><rect x="45.10" y="352.00" width="14.70" height="2.05" fill="#8484ff"/><rect x="45.10" y="354.00" width="14.70" height="2.05" fill="#8080ff"/><rect x="45.10" y="356.00" width="14.70" height="1.05" fill="#7b7bff"/><rect x="45.10" y="357.00" width="14.70" height="1.05" fill="#8787ff"/><rect x="45.10" y="358.00" width="14.70" height="1.05" fill="#8e8eff"/><rect x="45.10" y="359.00" width="14.70" height="1.55" fill="#8181ff"/><rect x="45.10" y="360.50" width="14.70" height="2.05" fill="#8484ff"/><rect x="45.10" y="362.50" width="14.70" height="0.55" fill="#8f8fff"/><rect x="45.10" y="363.00" width="14.70" height="1.05" fill="#2e2eff"/><rect x="45.10" y="364.00" width="14.70" height="1.05" fill="#3030ff"/><rect x="45.10" y="365.00" width="14.70" height="1.05" fill="#3a3aff"/><rect x="45.10" y="366.00" width="14.70" height="1.05" fill="#8181ff"/><rect x="45.10" y="367.00" width="14.70" height="1.05" fill="#8080ff"/><rect x="45.10" y="368.00" width="14.70" height="2.05" fill="#8686ff"/><rect x="45.10" y="370.00" width="14.70" height="2.05" fill="#7272ff"/><rect x="45.10" y="372.00" width="14.70" height="1.05" fill="#8989ff"/><rect x="45.10" y="373.00" width="14.70" height="1.05" fill="#8888ff"/><rect x="45.10" y="374.00" width="14.70" height="1.55" fill="#8787ff"/><rect x="45.10" y="375.50" width="14.70" height="1.05" fill="#7d7dff"/><rect x="45.10" y="376.50" width="14.70" height="1.05" fill="#7f7fff"/><rect x="45.10" y="377.50" width="14.70" height="1.05" fill="#8e8eff"/><rect x="59.75" y="209.00" width="14.70" height="1.05" fill="#ffd3d3"/><rect x="59.75" y="210.00" width="14.70" height="1.05" fill="#ffc5c5"/><rect x="59.75" y="211.00" width="14.70" height="1.55" fill="#cacaff"/><rect x="59.75" y="212.50" width="14.70" height="0.55" fill="#ccccff"/><rect x="59.75" y="213.00" width="14.70" height="2.05" fill="#ffeded"/><rect x="59.75" y="215.00" width="14.70" height="2.05" fill="#fff2f2"/><rect x="59.75" y="217.00" width="14.70" height="1.55" fill="#ff8d8d"/><rect x="59.75" y="218.50" width="14.70" height="2.05" fill="#ff8c8c"/><rect x="59.75" y="220.50" width="14.70" height="1.05" fill="#ff8181"/><rect x="59.75" y="221.50" width="14.70" height="1.05" fill="#ff7d7d"/><rect x="59.75" y="222.50" width="14.70" height="1.55" fill="#ff7c7c"/><rect x="59.75" y="224.00" width="14.70" height="1.05" fill="#ff8787"/><rect x="59.75" y="225.00" width="14.70" height="2.05" fill="#ff8e8e"/><rect x="59.75" y="227.00" width="14.70" height="1.05" fill="#ff9595"/><rect x="59.75" y="228.00" width="14.70" height="1.05" fill="#ff7e7e"/><rect x="59.75" y="229.00" width="14.70" height="1.55" fill="#ff8181"/><rect x="59.75" y="230.50" width="14.70" height="1.55" fill="#ff9393"/><rect x="59.75" y="232.00" width="14.70" height="1.55" fill="#ff8080"/><rect x="59.75" y="233.50" width="14.70" height="2.05" fill="#ff8a8a"/><rect x="59.75" y="235.50" width="14.70" height="1.05" fill="#ff8484"/><rect x="59.75" y="236.50" width="14.70" height="0.55" fill="#ff8787"/><rect x="59.75" y="237.00" width="14.70" height="1.05" fill="#ff9393"/><rect x="59.75" y="238.00" width="14.70" height="2.05" fill="#ffa3a3"/><rect x="59.75" y="240.00" width="14.70" height="1.05" fill="#ff9f9f"/><rect x="59.75" y="241.00" width="14.70" height="1.05" fill="#ff8e8e"/><rect x="59.75" y="242.00" width="14.70" height="1.05" fill="#ff9191"/><rect x="59.75" y="243.00" width="14.70" height="2.05" fill="#ffa2a2"/><rect x="59.75" y="245.00" width="14.70" height="2.05" fill="#ff9b9b"/><rect x="59.75" y="247.00" width="14.70" height="1.05" fill="#ff9191"/><rect x="59.75" y="248.00" width="14.70" height="1.05" fill="#ff7474"/><rect x="59.75" y="249.00" width="14.70" height="1.55" fill="#ff7b7b"/><rect x="59.75" y="250.50" width="14.70" height="1.05" fill="#ff8282"/><rect x="59.75" y="251.50" width="14.70" height="1.05" fill="#ff7c7c"/><rect x="59.75" y="252.50" width="14.70" height="1.05" fill="#ff7878"/><rect x="59.75" y="253.50" width="14.70" height="1.05" fill="#ff7474"/><rect x="59.75" y="254.50" width="14.70" height="1.55" fill="#ff6d6d"/><rect x="59.75" y="256.00" width="14.70" height="1.05" fill="#ff5252"/><rect x="59.75" y="257.00" width="14.70" height="1.55" fill="#ff5656"/><rect x="59.75" y="258.50" width="14.70" height="0.55" fill="#ff4a4a"/><rect x="59.75" y="259.00" width="14.70" height="1.05" fill="#ff2222"/><rect x="59.75" y="260.00" width="14.70" height="1.55" fill="#ff2525"/><rect x="59.75" y="261.50" width="14.70" height="0.55" fill="#ff2121"/><rect x="59.75" y="262.00" width="14.70" height="1.05" fill="#ff6767"/><rect x="59.75" y="263.00" width="14.70" height="2.05" fill="#ff5757"/><rect x="59.75" y="265.00" width="14.70" height="1.05" fill="#ff5a5a"/><rect x="59.75" y="266.00" width="14.70" height="1.05" fill="#ff6767"/><rect x="59.75" y="267.00" width="14.70" height="1.05" fill="#ff8282"/><rect x="59.75" y="268.00" width="14.70" height="1.55" fill="#ff8f8f"/><rect x="59.75" y="269.50" width="14.70" height="1.05" fill="#ff9898"/><rect x="59.75" y="270.50" width="14.70" height="1.55" fill="#ff9696"/><rect x="59.75" y="272.00" width="14.70" height="1.55" fill="#ffd1d1"/><rect x="59.75" y="273.50" width="14.70" height="1.05" fill="#ffd1d1"/><rect x="59.75" y="274.50" width="14.70" height="0.55" fill="#ffd4d4"/><rect x="59.75" y="275.00" width="14.70" height="2.05" fill="#ff7878"/><rect x="59.75" y="277.00" width="14.70" height="2.05" fill="#ff8b8b"/><rect x="59.75" y="279.00" width="14.70" height="1.05" fill="#ff7373"/><rect x="59.75" y="280.00" width="14.70" height="1.55" fill="#ff3b3b"/><rect x="59.75" y="281.50" width="14.70" height="1.55" fill="#ff4444"/><rect x="59.75" y="283.00" width="14.70" height="2.05" fill="#ff8383"/><rect x="59.75" y="285.00" width="14.70" height="1.05" fill="#ff7777"/><rect x="59.75" y="286.00" width="14.70" height="2.05" fill="#ff7878"/><rect x="59.75" y="288.00" width="14.70" height="1.55" fill="#ff8686"/><rect x="59.75" y="289.50" width="14.70" height="0.15" fill="#ff8a8a"/><rect x="59.75" y="289.60" width="14.70" height="1.05" fill="#8989ff"/><rect x="59.75" y="290.60" width="14.70" height="1.05" fill="#8787ff"/><rect x="59.75" y="291.60" width="14.70" height="1.55" fill="#8d8dff"/><rect x="59.75" y="293.10" width="14.70" height="1.05" fill="#9595ff"/><rect x="59.75" y="294.10" width="14.70" height="1.05" fill="#9797ff"/><rect x="59.75" y="295.10" width="14.70" height="1.05" fill="#9191ff"/><rect x="59.75" y="296.10" width="14.70" height="1.05" fill="#9595ff"/><rect x="59.75" y="297.10" width="14.70" height="1.55" fill="#9595ff"/><rect x="59.75" y="298.60" width="14.70" height="1.45" fill="#8181ff"/><rect x="59.75" y="300.00" width="14.70" height="1.05" fill="#8b8bff"/><rect x="59.75" y="301.00" width="14.70" height="2.05" fill="#8e8eff"/><rect x="59.75" y="303.00" width="14.70" height="1.05" fill="#8b8bff"/><rect x="59.75" y="304.00" width="14.70" height="1.55" fill="#7f7fff"/><rect x="59.75" y="305.50" width="14.70" height="2.05" fill="#8080ff"/><rect x="59.75" y="307.50" width="14.70" height="0.55" fill="#8181ff"/><rect x="59.75" y="308.00" width="14.70" height="2.05" fill="#9e9eff"/><rect x="59.75" y="310.00" width="14.70" height="1.05" fill="#a9a9ff"/><rect x="59.75" y="311.00" width="14.70" height="1.55" fill="#8f8fff"/><rect x="59.75" y="312.50" width="14.70" height="1.05" fill="#9595ff"/><rect x="59.75" y="313.50" width="14.70" height="2.05" fill="#8080ff"/><rect x="59.75" y="315.50" width="14.70" height="1.05" fill="#7c7cff"/><rect x="59.75" y="316.50" width="14.70" height="1.55" fill="#8b8bff"/><rect x="59.75" y="318.00" width="14.70" height="1.05" fill="#8181ff"/><rect x="59.75" y="319.00" width="14.70" height="1.05" fill="#6060ff"/><rect x="59.75" y="320.00" width="14.70" height="2.05" fill="#5959ff"/><rect x="59.75" y="322.00" width="14.70" height="1.05" fill="#5151ff"/><rect x="59.75" y="323.00" width="14.70" height="1.05" fill="#7777ff"/><rect x="59.75" y="324.00" width="14.70" height="2.05" fill="#7474ff"/><rect x="59.75" y="326.00" width="14.70" height="2.05" fill="#7a7aff"/><rect x="59.75" y="328.00" width="14.70" height="1.05" fill="#8181ff"/><rect x="59.75" y="329.00" width="14.70" height="1.05" fill="#5151ff"/><rect x="59.75" y="330.00" width="14.70" height="1.55" fill="#5c5cff"/><rect x="59.75" y="331.50" width="14.70" height="0.55" fill="#5e5eff"/><rect x="59.75" y="332.00" width="14.70" height="1.05" fill="#8282ff"/><rect x="59.75" y="333.00" width="14.70" height="1.55" fill="#8989ff"/><rect x="59.75" y="334.50" width="14.70" height="1.05" fill="#8686ff"/><rect x="59.75" y="335.50" width="14.70" height="1.05" fill="#8383ff"/><rect x="59.75" y="336.50" width="14.70" height="1.05" fill="#8686ff"/><rect x="59.75" y="337.50" width="14.70" height="1.55" fill="#7575ff"/><rect x="59.75" y="339.00" width="14.70" height="1.55" fill="#babaff"/><rect x="59.75" y="340.50" width="14.70" height="0.55" fill="#aaaaff"/><rect x="59.75" y="341.00" width="14.70" height="2.05" fill="#7878ff"/><rect x="59.75" y="343.00" width="14.70" height="1.55" fill="#8a8aff"/><rect x="59.75" y="344.50" width="14.70" height="1.55" fill="#7373ff"/><rect x="59.75" y="346.00" width="14.70" height="1.05" fill="#7a7aff"/><rect x="59.75" y="347.00" width="14.70" height="1.55" fill="#a3a3ff"/><rect x="59.75" y="348.50" width="14.70" height="0.55" fill="#9191ff"/><rect x="59.75" y="349.00" width="14.70" height="1.05" fill="#8c8cff"/><rect x="59.75" y="350.00" width="14.70" height="1.05" fill="#8282ff"/><rect x="59.75" y="351.00" width="14.70" height="2.05" fill="#7f7fff"/><rect x="59.75" y="353.00" width="14.70" height="1.55" fill="#7e7eff"/><rect x="59.75" y="354.50" width="14.70" height="1.05" fill="#8383ff"/><rect x="59.75" y="355.50" width="14.70" height="1.55" fill="#7676ff"/><rect x="59.75" y="357.00" width="14.70" height="2.05" fill="#8686ff"/><rect x="59.75" y="359.00" width="14.70" height="2.05" fill="#8585ff"/><rect x="59.75" y="361.00" width="14.70" height="1.05" fill="#7e7eff"/><rect x="59.75" y="362.00" width="14.70" height="1.05" fill="#bcbcf4"/><rect x="59.75" y="363.00" width="14.70" height="2.05" fill="#d3d3f4"/><rect x="59.75" y="365.00" width="14.70" height="1.05" fill="#c9c9f4"/><rect x="59.75" y="366.00" width="14.70" height="1.05" fill="#c2c2f4"/><rect x="59.75" y="367.00" width="14.70" height="1.55" fill="#8383ff"/><rect x="59.75" y="368.50" width="14.70" height="1.55" fill="#8282ff"/><rect x="59.75" y="370.00" width="14.70" height="1.05" fill="#8686ff"/><rect x="59.75" y="371.00" width="14.70" height="1.05" fill="#7e7eff"/><rect x="59.75" y="372.00" width="14.70" height="1.05" fill="#9090ff"/><rect x="59.75" y="373.00" width="14.70" height="1.05" fill="#8989ff"/><rect x="59.75" y="374.00" width="14.70" height="1.05" fill="#8888ff"/><rect x="59.75" y="375.00" width="14.70" height="1.05" fill="#8b8bff"/><rect x="59.75" y="376.00" width="14.70" height="1.05" fill="#8e8eff"/><rect x="59.75" y="377.00" width="14.70" height="1.05" fill="#8c8cff"/><rect x="59.75" y="378.00" width="14.70" height="0.55" fill="#8888ff"/><rect x="74.40" y="209.00" width="14.70" height="1.05" fill="#ffa5a5"/><rect x="74.40" y="210.00" width="14.70" height="1.05" fill="#ffa1a1"/><rect x="74.40" y="211.00" width="14.70" height="1.05" fill="#ff4040"/><rect x="74.40" y="212.00" width="14.70" height="2.05" fill="#ff4646"/><rect x="74.40" y="214.00" width="14.70" height="1.05" fill="#ff4242"/><rect x="74.40" y="215.00" width="14.70" height="1.55" fill="#ff4f4f"/><rect x="74.40" y="216.50" width="14.70" height="0.55" fill="#ff5252"/><rect x="74.40" y="217.00" width="14.70" height="2.05" fill="#ff6161"/><rect x="74.40" y="219.00" width="14.70" height="2.05" fill="#ff6262"/><rect x="74.40" y="221.00" width="14.70" height="2.05" fill="#ff7373"/><rect x="74.40" y="223.00" width="14.70" height="2.05" fill="#ff6565"/><rect x="74.40" y="225.00" width="14.70" height="1.05" fill="#ff7474"/><rect x="74.40" y="226.00" width="14.70" height="1.55" fill="#ff7474"/><rect x="74.40" y="227.50" width="14.70" height="1.55" fill="#ff6c6c"/><rect x="74.40" y="229.00" width="14.70" height="1.05" fill="#ff6767"/><rect x="74.40" y="230.00" width="14.70" height="1.55" fill="#ff7070"/><rect x="74.40" y="231.50" width="14.70" height="1.55" fill="#ff6969"/><rect x="74.40" y="233.00" width="14.70" height="1.55" fill="#ff6262"/><rect x="74.40" y="234.50" width="14.70" height="1.55" fill="#ff6e6e"/><rect x="74.40" y="236.00" width="14.70" height="1.05" fill="#ff6868"/><rect x="74.40" y="237.00" width="14.70" height="1.05" fill="#ff9191"/><rect x="74.40" y="238.00" width="14.70" height="1.05" fill="#ff8686"/><rect x="74.40" y="239.00" width="14.70" height="2.05" fill="#ff8181"/><rect x="74.40" y="241.00" width="14.70" height="2.05" fill="#ff9595"/><rect x="74.40" y="243.00" width="14.70" height="1.05" fill="#ff8888"/><rect x="74.40" y="244.00" width="14.70" height="2.05" fill="#ff8c8c"/><rect x="74.40" y="246.00" width="14.70" height="1.05" fill="#ff8e8e"/><rect x="74.40" y="247.00" width="14.70" height="2.05" fill="#ff8484"/><rect x="74.40" y="249.00" width="14.70" height="1.05" fill="#ff9191"/><rect x="74.40" y="250.00" width="14.70" height="1.05" fill="#ff7373"/><rect x="74.40" y="251.00" width="14.70" height="1.55" fill="#ff7777"/><rect x="74.40" y="252.50" width="14.70" height="0.55" fill="#ff6c6c"/><rect x="74.40" y="253.00" width="14.70" height="1.05" fill="#f8e4ec"/><rect x="74.40" y="254.00" width="14.70" height="1.05" fill="#f8d8df"/><rect x="74.40" y="255.00" width="14.70" height="1.05" fill="#f8dae2"/><rect x="74.40" y="256.00" width="14.70" height="1.05" fill="#f8d1d8"/><rect x="74.40" y="257.00" width="14.70" height="1.05" fill="#ff7a7a"/><rect x="74.40" y="258.00" width="14.70" height="2.05" fill="#ff6a6a"/><rect x="74.40" y="260.00" width="14.70" height="1.55" fill="#ffc0c0"/><rect x="74.40" y="261.50" width="14.70" height="1.55" fill="#ffb4b4"/><rect x="74.40" y="263.00" width="14.70" height="1.05" fill="#ffcaca"/><rect x="74.40" y="264.00" width="14.70" height="1.05" fill="#ffb9b9"/><rect x="74.40" y="265.00" width="14.70" height="1.55" fill="#ffb2b2"/><rect x="74.40" y="266.50" width="14.70" height="1.05" fill="#ffa4a4"/><rect x="74.40" y="267.50" width="14.70" height="1.05" fill="#ffb2b2"/><rect x="74.40" y="268.50" width="14.70" height="1.05" fill="#ffafaf"/><rect x="74.40" y="269.50" width="14.70" height="1.55" fill="#ffa6a6"/><rect x="74.40" y="271.00" width="14.70" height="1.05" fill="#ffb1b1"/><rect x="74.40" y="272.00" width="14.70" height="1.05" fill="#ff4242"/><rect x="74.40" y="273.00" width="14.70" height="1.05" fill="#ff3e3e"/><rect x="74.40" y="274.00" width="14.70" height="1.55" fill="#ff4a4a"/><rect x="74.40" y="275.50" width="14.70" height="1.05" fill="#ff4545"/><rect x="74.40" y="276.50" width="14.70" height="1.05" fill="#ff4545"/><rect x="74.40" y="277.50" width="14.70" height="0.55" fill="#ff4949"/><rect x="74.40" y="278.00" width="14.70" height="2.05" fill="#ff3c3c"/><rect x="74.40" y="280.00" width="14.70" height="2.05" fill="#ff6c6c"/><rect x="74.40" y="282.00" width="14.70" height="1.05" fill="#ff7676"/><rect x="74.40" y="283.00" width="14.70" height="2.05" fill="#ff6565"/><rect x="74.40" y="285.00" width="14.70" height="1.55" fill="#ff7070"/><rect x="74.40" y="286.50" width="14.70" height="2.05" fill="#ff5e5e"/><rect x="74.40" y="288.50" width="14.70" height="1.05" fill="#ff6f6f"/><rect x="74.40" y="289.50" width="14.70" height="0.15" fill="#ff6767"/><rect x="74.40" y="289.60" width="14.70" height="2.05" fill="#7d7dff"/><rect x="74.40" y="291.60" width="14.70" height="1.55" fill="#7f7fff"/><rect x="74.40" y="293.10" width="14.70" height="1.55" fill="#8d8dff"/><rect x="74.40" y="294.60" width="14.70" height="1.55" fill="#8787ff"/><rect x="74.40" y="296.10" width="14.70" height="2.05" fill="#9494ff"/><rect x="74.40" y="298.10" width="14.70" height="1.05" fill="#8383ff"/><rect x="74.40" y="299.10" width="14.70" height="1.05" fill="#8e8eff"/><rect x="74.40" y="300.10" width="14.70" height="1.55" fill="#8888ff"/><rect x="74.40" y="301.60" width="14.70" height="1.55" fill="#9292ff"/><rect x="74.40" y="303.10" width="14.70" height="1.55" fill="#9292ff"/><rect x="74.40" y="304.60" width="14.70" height="1.05" fill="#8a8aff"/><rect x="74.40" y="305.60" width="14.70" height="1.55" fill="#8181ff"/><rect x="74.40" y="307.10" width="14.70" height="0.95" fill="#9191ff"/><rect x="74.40" y="308.00" width="14.70" height="1.55" fill="#5a5aff"/><rect x="74.40" y="309.50" width="14.70" height="0.55" fill="#4848ff"/><rect x="74.40" y="310.00" width="14.70" height="1.55" fill="#8282ff"/><rect x="74.40" y="311.50" width="14.70" height="1.55" fill="#9494ff"/><rect x="74.40" y="313.00" width="14.70" height="1.05" fill="#9f9fff"/><rect x="74.40" y="314.00" width="14.70" height="1.05" fill="#6c6cff"/><rect x="74.40" y="315.00" width="14.70" height="1.05" fill="#7d7dff"/><rect x="74.40" y="316.00" width="14.70" height="1.55" fill="#7777ff"/><rect x="74.40" y="317.50" width="14.70" height="1.05" fill="#7676ff"/><rect x="74.40" y="318.50" width="14.70" height="1.05" fill="#6a6aff"/><rect x="74.40" y="319.50" width="14.70" height="0.55" fill="#7171ff"/><rect x="74.40" y="320.00" width="14.70" height="1.55" fill="#cbcbff"/><rect x="74.40" y="321.50" width="14.70" height="0.55" fill="#d2d2ff"/><rect x="74.40" y="322.00" width="14.70" height="1.55" fill="#7777ff"/><rect x="74.40" y="323.50" width="14.70" height="1.05" fill="#6a6aff"/><rect x="74.40" y="324.50" width="14.70" height="1.55" fill="#6969ff"/><rect x="74.40" y="326.00" width="14.70" height="2.05" fill="#7777ff"/><rect x="74.40" y="328.00" width="14.70" height="1.05" fill="#7e7eff"/><rect x="74.40" y="329.00" width="14.70" height="1.05" fill="#7373ff"/><rect x="74.40" y="330.00" width="14.70" height="2.05" fill="#6f6fff"/><rect x="74.40" y="332.00" width="14.70" height="1.05" fill="#6868ff"/><rect x="74.40" y="333.00" width="14.70" height="2.05" fill="#7d7dff"/><rect x="74.40" y="335.00" width="14.70" height="2.05" fill="#7b7bff"/><rect x="74.40" y="337.00" width="14.70" height="1.05" fill="#7b7bff"/><rect x="74.40" y="338.00" width="14.70" height="2.05" fill="#a0a0ff"/><rect x="74.40" y="340.00" width="14.70" height="1.05" fill="#9e9eff"/><rect x="74.40" y="341.00" width="14.70" height="1.05" fill="#7777ff"/><rect x="74.40" y="342.00" width="14.70" height="1.05" fill="#7a7aff"/><rect x="74.40" y="343.00" width="14.70" height="1.05" fill="#8181ff"/><rect x="74.40" y="344.00" width="14.70" height="1.05" fill="#7a7aff"/><rect x="74.40" y="345.00" width="14.70" height="1.05" fill="#7777ff"/><rect x="74.40" y="346.00" width="14.70" height="1.05" fill="#7e7eff"/><rect x="74.40" y="347.00" width="14.70" height="2.05" fill="#6a6aff"/><rect x="74.40" y="349.00" width="14.70" height="2.05" fill="#7070ff"/><rect x="74.40" y="351.00" width="14.70" height="2.05" fill="#7c7cff"/><rect x="74.40" y="353.00" width="14.70" height="2.05" fill="#7a7aff"/><rect x="74.40" y="355.00" width="14.70" height="1.05" fill="#7575ff"/><rect x="74.40" y="356.00" width="14.70" height="1.05" fill="#8a8aff"/><rect x="74.40" y="357.00" width="14.70" height="1.05" fill="#8686ff"/><rect x="74.40" y="358.00" width="14.70" height="2.05" fill="#9393ff"/><rect x="74.40" y="360.00" width="14.70" height="1.55" fill="#7f7fff"/><rect x="74.40" y="361.50" width="14.70" height="2.05" fill="#7979ff"/><rect x="74.40" y="363.50" width="14.70" height="1.05" fill="#7474ff"/><rect x="74.40" y="364.50" width="14.70" height="1.05" fill="#8383ff"/><rect x="74.40" y="365.50" width="14.70" height="1.05" fill="#8282ff"/><rect x="74.40" y="366.50" width="14.70" height="2.05" fill="#7474ff"/><rect x="74.40" y="368.50" width="14.70" height="1.55" fill="#7878ff"/><rect x="74.40" y="370.00" width="14.70" height="1.05" fill="#7c7cff"/><rect x="74.40" y="371.00" width="14.70" height="2.05" fill="#7272ff"/><rect x="74.40" y="373.00" width="14.70" height="1.05" fill="#7d7dff"/><rect x="74.40" y="374.00" width="14.70" height="1.55" fill="#7373ff"/><rect x="74.40" y="375.50" width="14.70" height="2.05" fill="#7878ff"/><rect x="74.40" y="377.50" width="14.70" height="1.05" fill="#7b7bff"/><rect x="89.05" y="209.00" width="14.70" height="1.55" fill="#7070ff"/><rect x="89.05" y="210.50" width="14.70" height="1.05" fill="#8484ff"/><rect x="89.05" y="211.50" width="14.70" height="1.05" fill="#6e6eff"/><rect x="89.05" y="212.50" width="14.70" height="1.05" fill="#7272ff"/><rect x="89.05" y="213.50" width="14.70" height="2.05" fill="#7676ff"/><rect x="89.05" y="215.50" width="14.70" height="1.55" fill="#7171ff"/><rect x="89.05" y="217.00" width="14.70" height="1.55" fill="#a1a1ff"/><rect x="89.05" y="218.50" width="14.70" height="1.05" fill="#b5b5ff"/><rect x="89.05" y="219.50" width="14.70" height="1.05" fill="#a5a5ff"/><rect x="89.05" y="220.50" width="14.70" height="1.05" fill="#b3b3ff"/><rect x="89.05" y="221.50" width="14.70" height="0.55" fill="#b2b2ff"/><rect x="89.05" y="222.00" width="14.70" height="2.05" fill="#8989ff"/><rect x="89.05" y="224.00" width="14.70" height="1.05" fill="#7676ff"/><rect x="89.05" y="225.00" width="14.70" height="1.05" fill="#dcdcff"/><rect x="89.05" y="226.00" width="14.70" height="1.05" fill="#e1e1ff"/><rect x="89.05" y="227.00" width="14.70" height="2.05" fill="#dcdcff"/><rect x="89.05" y="229.00" width="14.70" height="1.55" fill="#e2e2ff"/><rect x="89.05" y="230.50" width="14.70" height="2.05" fill="#dfdfff"/><rect x="89.05" y="232.50" width="14.70" height="0.55" fill="#ccccff"/><rect x="89.05" y="233.00" width="14.70" height="1.55" fill="#7575ff"/><rect x="89.05" y="234.50" width="14.70" height="1.55" fill="#7c7cff"/><rect x="89.05" y="236.00" width="14.70" height="1.05" fill="#7676ff"/><rect x="89.05" y="237.00" width="14.70" height="1.05" fill="#9a9aff"/><rect x="89.05" y="238.00" width="14.70" height="1.05" fill="#9898ff"/><rect x="89.05" y="239.00" width="14.70" height="1.05" fill="#8b8bff"/><rect x="89.05" y="240.00" width="14.70" height="1.05" fill="#8686ff"/><rect x="89.05" y="241.00" width="14.70" height="1.05" fill="#8a8aff"/><rect x="89.05" y="242.00" width="14.70" height="1.05" fill="#8282ff"/><rect x="89.05" y="243.00" width="14.70" height="1.05" fill="#9797ff"/><rect x="89.05" y="244.00" width="14.70" height="2.05" fill="#9797ff"/><rect x="89.05" y="246.00" width="14.70" height="1.05" fill="#b3b3ff"/><rect x="89.05" y="247.00" width="14.70" height="2.05" fill="#bbbbff"/><rect x="89.05" y="249.00" width="14.70" height="1.05" fill="#bebeff"/><rect x="89.05" y="250.00" width="14.70" height="1.05" fill="#9393ff"/><rect x="89.05" y="251.00" width="14.70" height="1.05" fill="#7f7fff"/><rect x="89.05" y="252.00" width="14.70" height="2.05" fill="#8b8bff"/><rect x="89.05" y="254.00" width="14.70" height="2.05" fill="#7e7eff"/><rect x="89.05" y="256.00" width="14.70" height="2.05" fill="#8383ff"/><rect x="89.05" y="258.00" width="14.70" height="1.05" fill="#e0e0ff"/><rect x="89.05" y="259.00" width="14.70" height="1.05" fill="#ceceff"/><rect x="89.05" y="260.00" width="14.70" height="1.55" fill="#6969ff"/><rect x="89.05" y="261.50" width="14.70" height="2.05" fill="#7c7cff"/><rect x="89.05" y="263.50" width="14.70" height="1.55" fill="#7575ff"/><rect x="89.05" y="265.00" width="14.70" height="2.05" fill="#6e6eff"/><rect x="89.05" y="267.00" width="14.70" height="1.05" fill="#6969ff"/><rect x="89.05" y="268.00" width="14.70" height="1.55" fill="#4c4cff"/><rect x="89.05" y="269.50" width="14.70" height="0.55" fill="#4b4bff"/><rect x="89.05" y="270.00" width="14.70" height="1.05" fill="#7a7aff"/><rect x="89.05" y="271.00" width="14.70" height="2.05" fill="#8080ff"/><rect x="89.05" y="273.00" width="14.70" height="2.05" fill="#8282ff"/><rect x="89.05" y="275.00" width="14.70" height="1.05" fill="#7979ff"/><rect x="89.05" y="276.00" width="14.70" height="1.05" fill="#8383ff"/><rect x="89.05" y="277.00" width="14.70" height="1.55" fill="#7575ff"/><rect x="89.05" y="278.50" width="14.70" height="1.55" fill="#7676ff"/><rect x="89.05" y="280.00" width="14.70" height="2.05" fill="#7575ff"/><rect x="89.05" y="282.00" width="14.70" height="2.05" fill="#7979ff"/><rect x="89.05" y="284.00" width="14.70" height="1.55" fill="#8686ff"/><rect x="89.05" y="285.50" width="14.70" height="1.05" fill="#7777ff"/><rect x="89.05" y="286.50" width="14.70" height="1.55" fill="#8282ff"/><rect x="89.05" y="288.00" width="14.70" height="1.55" fill="#8080ff"/><rect x="89.05" y="289.50" width="14.70" height="0.15" fill="#8888ff"/><rect x="89.05" y="289.60" width="14.70" height="1.05" fill="#bebeff"/><rect x="89.05" y="290.60" width="14.70" height="1.05" fill="#babaff"/><rect x="89.05" y="291.60" width="14.70" height="0.45" fill="#bebeff"/><rect x="89.05" y="292.00" width="14.70" height="2.05" fill="#ffc8c8"/><rect x="89.05" y="294.00" width="14.70" height="2.05" fill="#ffc8c8"/><rect x="89.05" y="296.00" width="14.70" height="1.05" fill="#fff4f4"/><rect x="89.05" y="297.00" width="14.70" height="1.05" fill="#fff4f4"/><rect x="89.05" y="298.00" width="14.70" height="1.05" fill="#ffe4e4"/><rect x="89.05" y="299.00" width="14.70" height="1.05" fill="#ffe5e5"/><rect x="89.05" y="300.00" width="14.70" height="2.05" fill="#ffc0c0"/><rect x="89.05" y="302.00" width="14.70" height="2.05" fill="#ffbfbf"/><rect x="89.05" y="304.00" width="14.70" height="1.05" fill="#ffb0b0"/><rect x="89.05" y="305.00" width="14.70" height="1.05" fill="#ffc5c5"/><rect x="89.05" y="306.00" width="14.70" height="2.05" fill="#ff4b4b"/><rect x="89.05" y="308.00" width="14.70" height="1.05" fill="#ff4b4b"/><rect x="89.05" y="309.00" width="14.70" height="1.05" fill="#ff4848"/><rect x="89.05" y="310.00" width="14.70" height="1.05" fill="#ff4848"/><rect x="89.05" y="311.00" width="14.70" height="1.05" fill="#ff5353"/><rect x="89.05" y="312.00" width="14.70" height="1.05" fill="#ff3232"/><rect x="89.05" y="313.00" width="14.70" height="2.05" fill="#ff2d2d"/><rect x="89.05" y="315.00" width="14.70" height="1.05" fill="#ff3d3d"/><rect x="89.05" y="316.00" width="14.70" height="1.55" fill="#ff3030"/><rect x="89.05" y="317.50" width="14.70" height="0.55" fill="#ff2828"/><rect x="89.05" y="318.00" width="14.70" height="1.05" fill="#ff7b7b"/><rect x="89.05" y="319.00" width="14.70" height="2.05" fill="#ff6e6e"/><rect x="89.05" y="321.00" width="14.70" height="1.05" fill="#ff6d6d"/><rect x="89.05" y="322.00" width="14.70" height="2.05" fill="#ffb3b3"/><rect x="89.05" y="324.00" width="14.70" height="1.55" fill="#ff9f9f"/><rect x="89.05" y="325.50" width="14.70" height="1.05" fill="#ff9f9f"/><rect x="89.05" y="326.50" width="14.70" height="2.05" fill="#ffb0b0"/><rect x="89.05" y="328.50" width="14.70" height="1.55" fill="#ffa9a9"/><rect x="89.05" y="330.00" width="14.70" height="2.05" fill="#ff9c9c"/><rect x="89.05" y="332.00" width="14.70" height="1.05" fill="#ff9999"/><rect x="89.05" y="333.00" width="14.70" height="1.55" fill="#ff9e9e"/><rect x="89.05" y="334.50" width="14.70" height="1.05" fill="#ff9090"/><rect x="89.05" y="335.50" width="14.70" height="1.55" fill="#ff9292"/><rect x="89.05" y="337.00" width="14.70" height="1.05" fill="#ff8c8c"/><rect x="89.05" y="338.00" width="14.70" height="1.05" fill="#ff9999"/><rect x="89.05" y="339.00" width="14.70" height="1.55" fill="#ff9898"/><rect x="89.05" y="340.50" width="14.70" height="1.05" fill="#ff9494"/><rect x="89.05" y="341.50" width="14.70" height="1.05" fill="#ff9d9d"/><rect x="89.05" y="342.50" width="14.70" height="1.05" fill="#ff9090"/><rect x="89.05" y="343.50" width="14.70" height="0.55" fill="#ff9e9e"/><rect x="89.05" y="344.00" width="14.70" height="1.55" fill="#ff7575"/><rect x="89.05" y="345.50" width="14.70" height="2.05" fill="#ff7f7f"/><rect x="89.05" y="347.50" width="14.70" height="1.55" fill="#ff6d6d"/><rect x="89.05" y="349.00" width="14.70" height="1.55" fill="#ff7171"/><rect x="89.05" y="350.50" width="14.70" height="1.55" fill="#ff7171"/><rect x="89.05" y="352.00" width="14.70" height="1.05" fill="#ff8787"/><rect x="89.05" y="353.00" width="14.70" height="2.05" fill="#ff8b8b"/><rect x="89.05" y="355.00" width="14.70" height="1.05" fill="#ff7373"/><rect x="89.05" y="356.00" width="14.70" height="1.05" fill="#ff1b1b"/><rect x="89.05" y="357.00" width="14.70" height="1.55" fill="#ff2f2f"/><rect x="89.05" y="358.50" width="14.70" height="1.05" fill="#ff1a1a"/><rect x="89.05" y="359.50" width="14.70" height="1.55" fill="#ff2a2a"/><rect x="89.05" y="361.00" width="14.70" height="1.05" fill="#ff2222"/><rect x="89.05" y="362.00" width="14.70" height="1.05" fill="#ff3f3f"/><rect x="89.05" y="363.00" width="14.70" height="1.05" fill="#ff3c3c"/><rect x="89.05" y="364.00" width="14.70" height="1.55" fill="#ff4d4d"/><rect x="89.05" y="365.50" width="14.70" height="0.55" fill="#ff3a3a"/><rect x="89.05" y="366.00" width="14.70" height="1.05" fill="#ff6767"/><rect x="89.05" y="367.00" width="14.70" height="1.55" fill="#ff6b6b"/><rect x="89.05" y="368.50" width="14.70" height="1.55" fill="#ff6b6b"/><rect x="89.05" y="370.00" width="14.70" height="2.05" fill="#ff6d6d"/><rect x="89.05" y="372.00" width="14.70" height="1.05" fill="#ff7a7a"/><rect x="89.05" y="373.00" width="14.70" height="1.55" fill="#ff7a7a"/><rect x="89.05" y="374.50" width="14.70" height="1.05" fill="#ff7a7a"/><rect x="89.05" y="375.50" width="14.70" height="1.55" fill="#ff6a6a"/><rect x="89.05" y="377.00" width="14.70" height="1.55" fill="#ff7373"/><rect x="103.70" y="209.00" width="14.70" height="2.05" fill="#6969ff"/><rect x="103.70" y="211.00" width="14.70" height="1.55" fill="#9a9aff"/><rect x="103.70" y="212.50" width="14.70" height="0.55" fill="#a4a4ff"/><rect x="103.70" y="213.00" width="14.70" height="1.05" fill="#7272ff"/><rect x="103.70" y="214.00" width="14.70" height="2.05" fill="#6868ff"/><rect x="103.70" y="216.00" width="14.70" height="1.05" fill="#6e6eff"/><rect x="103.70" y="217.00" width="14.70" height="1.05" fill="#3232ff"/><rect x="103.70" y="218.00" width="14.70" height="2.05" fill="#2323ff"/><rect x="103.70" y="220.00" width="14.70" height="1.05" fill="#2121ff"/><rect x="103.70" y="221.00" width="14.70" height="1.05" fill="#2222ff"/><rect x="103.70" y="222.00" width="14.70" height="1.05" fill="#3737ff"/><rect x="103.70" y="223.00" width="14.70" height="2.05" fill="#2222ff"/><rect x="103.70" y="225.00" width="14.70" height="2.05" fill="#6262ff"/><rect x="103.70" y="227.00" width="14.70" height="1.55" fill="#6161ff"/><rect x="103.70" y="228.50" width="14.70" height="1.55" fill="#4f4fff"/><rect x="103.70" y="230.00" width="14.70" height="2.05" fill="#5f5fff"/><rect x="103.70" y="232.00" width="14.70" height="1.05" fill="#4c4cff"/><rect x="103.70" y="233.00" width="14.70" height="1.55" fill="#5353ff"/><rect x="103.70" y="234.50" width="14.70" height="1.55" fill="#5353ff"/><rect x="103.70" y="236.00" width="14.70" height="1.05" fill="#5151ff"/><rect x="103.70" y="237.00" width="14.70" height="2.05" fill="#6969ff"/><rect x="103.70" y="239.00" width="14.70" height="1.05" fill="#7d7dff"/><rect x="103.70" y="240.00" width="14.70" height="1.05" fill="#5050ff"/><rect x="103.70" y="241.00" width="14.70" height="2.05" fill="#7272ff"/><rect x="103.70" y="243.00" width="14.70" height="1.05" fill="#6565ff"/><rect x="103.70" y="244.00" width="14.70" height="1.05" fill="#6464ff"/><rect x="103.70" y="245.00" width="14.70" height="1.05" fill="#7171ff"/><rect x="103.70" y="246.00" width="14.70" height="1.55" fill="#6969ff"/><rect x="103.70" y="247.50" width="14.70" height="2.05" fill="#6565ff"/><rect x="103.70" y="249.50" width="14.70" height="1.55" fill="#5f5fff"/><rect x="103.70" y="251.00" width="14.70" height="1.05" fill="#6464ff"/><rect x="103.70" y="252.00" width="14.70" height="1.05" fill="#8080ff"/><rect x="103.70" y="253.00" width="14.70" height="1.55" fill="#7c7cff"/><rect x="103.70" y="254.50" width="14.70" height="1.55" fill="#8282ff"/><rect x="103.70" y="256.00" width="14.70" height="1.05" fill="#7777ff"/><rect x="103.70" y="257.00" width="14.70" height="1.05" fill="#bbbbff"/><rect x="103.70" y="258.00" width="14.70" height="1.05" fill="#b1b1ff"/><rect x="103.70" y="259.00" width="14.70" height="1.05" fill="#8484ff"/><rect x="103.70" y="260.00" width="14.70" height="1.05" fill="#7373ff"/><rect x="103.70" y="261.00" width="14.70" height="1.05" fill="#8484ff"/><rect x="103.70" y="262.00" width="14.70" height="2.05" fill="#7575ff"/><rect x="103.70" y="264.00" width="14.70" height="2.05" fill="#7777ff"/><rect x="103.70" y="266.00" width="14.70" height="1.05" fill="#7575ff"/><rect x="103.70" y="267.00" width="14.70" height="1.05" fill="#8181ff"/><rect x="103.70" y="268.00" width="14.70" height="2.05" fill="#5454ff"/><rect x="103.70" y="270.00" width="14.70" height="1.05" fill="#6969ff"/><rect x="103.70" y="271.00" width="14.70" height="2.05" fill="#7d7dff"/><rect x="103.70" y="273.00" width="14.70" height="1.05" fill="#6969ff"/><rect x="103.70" y="274.00" width="14.70" height="1.05" fill="#7f7fff"/><rect x="103.70" y="275.00" width="14.70" height="1.55" fill="#6969ff"/><rect x="103.70" y="276.50" width="14.70" height="0.55" fill="#6d6dff"/><rect x="103.70" y="277.00" width="14.70" height="1.05" fill="#5656ff"/><rect x="103.70" y="278.00" width="14.70" height="1.05" fill="#5757ff"/><rect x="103.70" y="279.00" width="14.70" height="2.05" fill="#6969ff"/><rect x="103.70" y="281.00" width="14.70" height="1.55" fill="#7b7bff"/><rect x="103.70" y="282.50" width="14.70" height="2.05" fill="#7272ff"/><rect x="103.70" y="284.50" width="14.70" height="1.05" fill="#7272ff"/><rect x="103.70" y="285.50" width="14.70" height="1.05" fill="#6b6bff"/><rect x="103.70" y="286.50" width="14.70" height="2.05" fill="#7777ff"/><rect x="103.70" y="288.50" width="14.70" height="1.15" fill="#7d7dff"/><rect x="103.70" y="289.60" width="14.70" height="1.55" fill="#ff4a4a"/><rect x="103.70" y="291.10" width="14.70" height="0.95" fill="#ff4343"/><rect x="103.70" y="292.00" width="14.70" height="1.05" fill="#ffb1b1"/><rect x="103.70" y="293.00" width="14.70" height="1.05" fill="#ffa9a9"/><rect x="103.70" y="294.00" width="14.70" height="1.05" fill="#ffa7a7"/><rect x="103.70" y="295.00" width="14.70" height="2.05" fill="#ff5d5d"/><rect x="103.70" y="297.00" width="14.70" height="1.55" fill="#ff4848"/><rect x="103.70" y="298.50" width="14.70" height="1.05" fill="#ff4d4d"/><rect x="103.70" y="299.50" width="14.70" height="0.55" fill="#ff4848"/><rect x="103.70" y="300.00" width="14.70" height="1.05" fill="#ff7878"/><rect x="103.70" y="301.00" width="14.70" height="1.55" fill="#ff6767"/><rect x="103.70" y="302.50" width="14.70" height="2.05" fill="#ff6767"/><rect x="103.70" y="304.50" width="14.70" height="1.55" fill="#ff6666"/><rect x="103.70" y="306.00" width="14.70" height="1.05" fill="#ff5858"/><rect x="103.70" y="307.00" width="14.70" height="1.05" fill="#ff4f4f"/><rect x="103.70" y="308.00" width="14.70" height="2.05" fill="#ff5050"/><rect x="103.70" y="310.00" width="14.70" height="1.55" fill="#ff4f4f"/><rect x="103.70" y="311.50" width="14.70" height="0.55" fill="#ff4a4a"/><rect x="103.70" y="312.00" width="14.70" height="1.55" fill="#ff7575"/><rect x="103.70" y="313.50" width="14.70" height="1.05" fill="#ff7a7a"/><rect x="103.70" y="314.50" width="14.70" height="1.55" fill="#ff8383"/><rect x="103.70" y="316.00" width="14.70" height="1.05" fill="#ff7878"/><rect x="103.70" y="317.00" width="14.70" height="1.05" fill="#ff8282"/><rect x="103.70" y="318.00" width="14.70" height="1.05" fill="#ff8a8a"/><rect x="103.70" y="319.00" width="14.70" height="1.05" fill="#ff8787"/><rect x="103.70" y="320.00" width="14.70" height="1.05" fill="#ff9090"/><rect x="103.70" y="321.00" width="14.70" height="1.05" fill="#ff8686"/><rect x="103.70" y="322.00" width="14.70" height="1.05" fill="#ff3535"/><rect x="103.70" y="323.00" width="14.70" height="2.05" fill="#ff3030"/><rect x="103.70" y="325.00" width="14.70" height="1.05" fill="#ff4141"/><rect x="103.70" y="326.00" width="14.70" height="1.55" fill="#ff5252"/><rect x="103.70" y="327.50" width="14.70" height="2.05" fill="#ff5959"/><rect x="103.70" y="329.50" width="14.70" height="1.05" fill="#ff6464"/><rect x="103.70" y="330.50" width="14.70" height="1.05" fill="#ff5050"/><rect x="103.70" y="331.50" width="14.70" height="2.05" fill="#ff5757"/><rect x="103.70" y="333.50" width="14.70" height="2.05" fill="#ff5151"/><rect x="103.70" y="335.50" width="14.70" height="1.55" fill="#ff5c5c"/><rect x="103.70" y="337.00" width="14.70" height="1.55" fill="#ff5252"/><rect x="103.70" y="338.50" width="14.70" height="1.05" fill="#ff5050"/><rect x="103.70" y="339.50" width="14.70" height="0.55" fill="#ff5c5c"/><rect x="103.70" y="340.00" width="14.70" height="1.55" fill="#ff7e7e"/><rect x="103.70" y="341.50" width="14.70" height="2.05" fill="#ff7979"/><rect x="103.70" y="343.50" width="14.70" height="1.55" fill="#ff7272"/><rect x="103.70" y="345.00" width="14.70" height="1.05" fill="#ff7b7b"/><rect x="103.70" y="346.00" width="14.70" height="1.55" fill="#ff7a7a"/><rect x="103.70" y="347.50" width="14.70" height="1.55" fill="#ff6666"/><rect x="103.70" y="349.00" width="14.70" height="2.05" fill="#fff1f1"/><rect x="103.70" y="351.00" width="14.70" height="1.05" fill="#ffecec"/><rect x="103.70" y="352.00" width="14.70" height="1.05" fill="#e0e0f8"/><rect x="103.70" y="353.00" width="14.70" height="1.05" fill="#e1e1f8"/><rect x="103.70" y="354.00" width="14.70" height="1.05" fill="#ffbdbd"/><rect x="103.70" y="355.00" width="14.70" height="1.05" fill="#ffb7b7"/><rect x="103.70" y="356.00" width="14.70" height="1.05" fill="#ffc3c3"/><rect x="103.70" y="357.00" width="14.70" height="1.05" fill="#ffd0d0"/><rect x="103.70" y="358.00" width="14.70" height="1.55" fill="#ffdada"/><rect x="103.70" y="359.50" width="14.70" height="1.05" fill="#ffe0e0"/><rect x="103.70" y="360.50" width="14.70" height="2.05" fill="#ffe2e2"/><rect x="103.70" y="362.50" width="14.70" height="0.55" fill="#ffe2e2"/><rect x="103.70" y="363.00" width="14.70" height="2.05" fill="#ff8d8d"/><rect x="103.70" y="365.00" width="14.70" height="1.05" fill="#ff8a8a"/><rect x="103.70" y="366.00" width="14.70" height="1.55" fill="#ff8282"/><rect x="103.70" y="367.50" width="14.70" height="2.05" fill="#ff8484"/><rect x="103.70" y="369.50" width="14.70" height="2.05" fill="#ff8383"/><rect x="103.70" y="371.50" width="14.70" height="1.55" fill="#ff7f7f"/><rect x="103.70" y="373.00" width="14.70" height="1.05" fill="#ff8888"/><rect x="103.70" y="374.00" width="14.70" height="1.05" fill="#ff8c8c"/><rect x="103.70" y="375.00" width="14.70" height="1.05" fill="#ff7e7e"/><rect x="103.70" y="376.00" width="14.70" height="1.05" fill="#ff8686"/><rect x="103.70" y="377.00" width="14.70" height="1.55" fill="#ff8686"/><rect x="118.35" y="209.00" width="14.70" height="1.05" fill="#8585ff"/><rect x="118.35" y="210.00" width="14.70" height="1.55" fill="#7b7bff"/><rect x="118.35" y="211.50" width="14.70" height="2.05" fill="#8585ff"/><rect x="118.35" y="213.50" width="14.70" height="1.05" fill="#7c7cff"/><rect x="118.35" y="214.50" width="14.70" height="2.05" fill="#7f7fff"/><rect x="118.35" y="216.50" width="14.70" height="0.55" fill="#8282ff"/><rect x="118.35" y="217.00" width="14.70" height="1.55" fill="#b1b1ff"/><rect x="118.35" y="218.50" width="14.70" height="1.55" fill="#b9b9ff"/><rect x="118.35" y="220.00" width="14.70" height="2.05" fill="#dedeff"/><rect x="118.35" y="222.00" width="14.70" height="1.05" fill="#bcbcff"/><rect x="118.35" y="223.00" width="14.70" height="1.05" fill="#5b5bff"/><rect x="118.35" y="224.00" width="14.70" height="1.05" fill="#5a5aff"/><rect x="118.35" y="225.00" width="14.70" height="1.05" fill="#5a5aff"/><rect x="118.35" y="226.00" width="14.70" height="2.05" fill="#6868ff"/><rect x="118.35" y="228.00" width="14.70" height="1.55" fill="#7070ff"/><rect x="118.35" y="229.50" width="14.70" height="2.05" fill="#6d6dff"/><rect x="118.35" y="231.50" width="14.70" height="2.05" fill="#6e6eff"/><rect x="118.35" y="233.50" width="14.70" height="1.05" fill="#5c5cff"/><rect x="118.35" y="234.50" width="14.70" height="1.05" fill="#6666ff"/><rect x="118.35" y="235.50" width="14.70" height="1.05" fill="#6767ff"/><rect x="118.35" y="236.50" width="14.70" height="0.55" fill="#6161ff"/><rect x="118.35" y="237.00" width="14.70" height="1.05" fill="#9494ff"/><rect x="118.35" y="238.00" width="14.70" height="1.05" fill="#b3b3ff"/><rect x="118.35" y="239.00" width="14.70" height="2.05" fill="#a6a6ff"/><rect x="118.35" y="241.00" width="14.70" height="2.05" fill="#6767ff"/><rect x="118.35" y="243.00" width="14.70" height="1.05" fill="#6666ff"/><rect x="118.35" y="244.00" width="14.70" height="2.05" fill="#7272ff"/><rect x="118.35" y="246.00" width="14.70" height="1.05" fill="#6262ff"/><rect x="118.35" y="247.00" width="14.70" height="1.05" fill="#6969ff"/><rect x="118.35" y="248.00" width="14.70" height="1.05" fill="#5f5fff"/><rect x="118.35" y="249.00" width="14.70" height="1.05" fill="#7878ff"/><rect x="118.35" y="250.00" width="14.70" height="1.05" fill="#6161ff"/><rect x="118.35" y="251.00" width="14.70" height="2.05" fill="#7777ff"/><rect x="118.35" y="253.00" width="14.70" height="2.05" fill="#6161ff"/><rect x="118.35" y="255.00" width="14.70" height="2.05" fill="#6060ff"/><rect x="118.35" y="257.00" width="14.70" height="2.05" fill="#1919ff"/><rect x="118.35" y="259.00" width="14.70" height="1.05" fill="#2828ff"/><rect x="118.35" y="260.00" width="14.70" height="1.05" fill="#8b8bff"/><rect x="118.35" y="261.00" width="14.70" height="1.05" fill="#9c9cff"/><rect x="118.35" y="262.00" width="14.70" height="1.55" fill="#8e8eff"/><rect x="118.35" y="263.50" width="14.70" height="2.05" fill="#8b8bff"/><rect x="118.35" y="265.50" width="14.70" height="1.05" fill="#8585ff"/><rect x="118.35" y="266.50" width="14.70" height="1.55" fill="#8d8dff"/><rect x="118.35" y="268.00" width="14.70" height="2.05" fill="#e6e6ff"/><rect x="118.35" y="270.00" width="14.70" height="1.05" fill="#e8e8ff"/><rect x="118.35" y="271.00" width="14.70" height="1.55" fill="#8a8aff"/><rect x="118.35" y="272.50" width="14.70" height="1.55" fill="#7a7aff"/><rect x="118.35" y="274.00" width="14.70" height="2.05" fill="#7b7bff"/><rect x="118.35" y="276.00" width="14.70" height="2.05" fill="#8989ff"/><rect x="118.35" y="278.00" width="14.70" height="1.05" fill="#7878ff"/><rect x="118.35" y="279.00" width="14.70" height="1.55" fill="#8080ff"/><rect x="118.35" y="280.50" width="14.70" height="1.55" fill="#7b7bff"/><rect x="118.35" y="282.00" width="14.70" height="2.05" fill="#7a7aff"/><rect x="118.35" y="284.00" width="14.70" height="1.05" fill="#7575ff"/><rect x="118.35" y="285.00" width="14.70" height="2.05" fill="#8686ff"/><rect x="118.35" y="287.00" width="14.70" height="1.05" fill="#8383ff"/><rect x="118.35" y="288.00" width="14.70" height="1.65" fill="#7e7eff"/><rect x="118.35" y="289.60" width="14.70" height="1.05" fill="#ff5959"/><rect x="118.35" y="290.60" width="14.70" height="0.45" fill="#ff6a6a"/><rect x="118.35" y="291.00" width="14.70" height="1.05" fill="#ff3232"/><rect x="118.35" y="292.00" width="14.70" height="2.05" fill="#ff2525"/><rect x="118.35" y="294.00" width="14.70" height="2.05" fill="#ff2626"/><rect x="118.35" y="296.00" width="14.70" height="2.05" fill="#ff5555"/><rect x="118.35" y="298.00" width="14.70" height="2.05" fill="#ff4545"/><rect x="118.35" y="300.00" width="14.70" height="1.05" fill="#ff5454"/><rect x="118.35" y="301.00" width="14.70" height="1.55" fill="#ff4b4b"/><rect x="118.35" y="302.50" width="14.70" height="1.05" fill="#ff5757"/><rect x="118.35" y="303.50" width="14.70" height="2.05" fill="#ff5555"/><rect x="118.35" y="305.50" width="14.70" height="0.55" fill="#ff5959"/><rect x="118.35" y="306.00" width="14.70" height="1.05" fill="#ffe3e3"/><rect x="118.35" y="307.00" width="14.70" height="1.05" fill="#fff0f0"/><rect x="118.35" y="308.00" width="14.70" height="1.05" fill="#ffd9d9"/><rect x="118.35" y="309.00" width="14.70" height="1.05" fill="#fff0f0"/><rect x="118.35" y="310.00" width="14.70" height="1.55" fill="#bebeff"/><rect x="118.35" y="311.50" width="14.70" height="0.55" fill="#d3d3ff"/><rect x="118.35" y="312.00" width="14.70" height="1.55" fill="#ffd4d4"/><rect x="118.35" y="313.50" width="14.70" height="2.05" fill="#ffe8e8"/><rect x="118.35" y="315.50" width="14.70" height="1.05" fill="#ffe8e8"/><rect x="118.35" y="316.50" width="14.70" height="1.55" fill="#ffe3e3"/><rect x="118.35" y="318.00" width="14.70" height="1.05" fill="#ffd3d3"/><rect x="118.35" y="319.00" width="14.70" height="1.05" fill="#ff5959"/><rect x="118.35" y="320.00" width="14.70" height="1.05" fill="#ff6262"/><rect x="118.35" y="321.00" width="14.70" height="2.05" fill="#ff6767"/><rect x="118.35" y="323.00" width="14.70" height="1.05" fill="#ff8181"/><rect x="118.35" y="324.00" width="14.70" height="1.05" fill="#ff7a7a"/><rect x="118.35" y="325.00" width="14.70" height="1.05" fill="#ff7f7f"/><rect x="118.35" y="326.00" width="14.70" height="1.05" fill="#ff7575"/><rect x="118.35" y="327.00" width="14.70" height="2.05" fill="#ff8c8c"/><rect x="118.35" y="329.00" width="14.70" height="1.05" fill="#ff5a5a"/><rect x="118.35" y="330.00" width="14.70" height="2.05" fill="#ff6363"/><rect x="118.35" y="332.00" width="14.70" height="1.05" fill="#ff5c5c"/><rect x="118.35" y="333.00" width="14.70" height="2.05" fill="#ffc4c4"/><rect x="118.35" y="335.00" width="14.70" height="1.55" fill="#ffadad"/><rect x="118.35" y="336.50" width="14.70" height="1.05" fill="#ffafaf"/><rect x="118.35" y="337.50" width="14.70" height="0.55" fill="#ffaeae"/><rect x="118.35" y="338.00" width="14.70" height="2.05" fill="#ff7474"/><rect x="118.35" y="340.00" width="14.70" height="1.05" fill="#ff7878"/><rect x="118.35" y="341.00" width="14.70" height="1.05" fill="#ff6e6e"/><rect x="118.35" y="342.00" width="14.70" height="1.05" fill="#ff8080"/><rect x="118.35" y="343.00" width="14.70" height="1.05" fill="#ff8181"/><rect x="118.35" y="344.00" width="14.70" height="1.55" fill="#ff7070"/><rect x="118.35" y="345.50" width="14.70" height="2.05" fill="#ff6b6b"/><rect x="118.35" y="347.50" width="14.70" height="0.55" fill="#ff6868"/><rect x="118.35" y="348.00" width="14.70" height="2.05" fill="#ff3535"/><rect x="118.35" y="350.00" width="14.70" height="2.05" fill="#ff3737"/><rect x="118.35" y="352.00" width="14.70" height="1.05" fill="#ff4343"/><rect x="118.35" y="353.00" width="14.70" height="1.05" fill="#ffa6a6"/><rect x="118.35" y="354.00" width="14.70" height="1.05" fill="#ffb3b3"/><rect x="118.35" y="355.00" width="14.70" height="1.05" fill="#ffa3a3"/><rect x="118.35" y="356.00" width="14.70" height="1.05" fill="#ffe8e8"/><rect x="118.35" y="357.00" width="14.70" height="1.55" fill="#ffe9e9"/><rect x="118.35" y="358.50" width="14.70" height="0.55" fill="#ffeaea"/><rect x="118.35" y="359.00" width="14.70" height="1.05" fill="#ff6767"/><rect x="118.35" y="360.00" width="14.70" height="1.55" fill="#ff7d7d"/><rect x="118.35" y="361.50" width="14.70" height="1.05" fill="#ff7d7d"/><rect x="118.35" y="362.50" width="14.70" height="0.55" fill="#ff6666"/><rect x="118.35" y="363.00" width="14.70" height="1.05" fill="#ff8a8a"/><rect x="118.35" y="364.00" width="14.70" height="1.55" fill="#ff7474"/><rect x="118.35" y="365.50" width="14.70" height="1.05" fill="#ff7373"/><rect x="118.35" y="366.50" width="14.70" height="1.05" fill="#ff7c7c"/><rect x="118.35" y="367.50" width="14.70" height="1.55" fill="#ff8484"/><rect x="118.35" y="369.00" width="14.70" height="1.05" fill="#ff8b8b"/><rect x="118.35" y="370.00" width="14.70" height="2.05" fill="#ff7e7e"/><rect x="118.35" y="372.00" width="14.70" height="1.55" fill="#ff4848"/><rect x="118.35" y="373.50" width="14.70" height="1.55" fill="#ff5252"/><rect x="118.35" y="375.00" width="14.70" height="1.05" fill="#ff5e5e"/><rect x="118.35" y="376.00" width="14.70" height="1.05" fill="#ff6161"/><rect x="118.35" y="377.00" width="14.70" height="1.05" fill="#ff4d4d"/><rect x="118.35" y="378.00" width="14.70" height="0.55" fill="#ff4f4f"/></g>
<defs><linearGradient id="cb" x1="0" y1="0" x2="0" y2="1"><stop offset="0" stop-color="#ff0000"/><stop offset="0.5" stop-color="#ffffff"/><stop offset="1" stop-color="#0000ff"/></linearGradient></defs>
<rect x="135.20" y="209.00" width="4.80" height="64.70" fill="url(#cb)" />
<text x="141.40" y="217.85" font-size="4.9" font-weight="bold" text-anchor="start" fill="#000" >1.5</text>
<text x="141.40" y="226.40" font-size="4.9" font-weight="bold" text-anchor="start" fill="#000" >1</text>
<text x="141.40" y="234.95" font-size="4.9" font-weight="bold" text-anchor="start" fill="#000" >0.5</text>
<text x="141.40" y="243.50" font-size="4.9" font-weight="bold" text-anchor="start" fill="#000" >0</text>
<text x="141.3" y="252.05" font-size="4.9" font-weight="bold"><tspan fill="#5050e0">-</tspan>0.5</text>
<text x="141.3" y="260.60" font-size="4.9" font-weight="bold"><tspan fill="#5050e0">-</tspan>1</text>
<text x="141.3" y="269.15" font-size="4.9" font-weight="bold"><tspan fill="#5050e0">-</tspan>1.5</text>
<path d="M63.4 202.6 V186.3 H107.4 V200.4 M52.4 209 V202.6 H74.2 M74.2 203.4 V202.6 M67.1 209 V203.4 H81.8 V209 M96.4 209 V200.4 H118.4 V201.6 M111.1 209 V201.6 H125.7 V209" fill="none" stroke="#2a2a2a" stroke-width="1"/>
<text x="0" y="0" font-size="5.1" font-weight="bold" transform="translate(50.63 380.8) rotate(90)" textLength="20.0" lengthAdjust="spacingAndGlyphs">Tw_DDC3</text>
<text x="0" y="0" font-size="5.1" font-weight="bold" transform="translate(65.28 380.8) rotate(90)" textLength="20.0" lengthAdjust="spacingAndGlyphs">Tw_DDC1</text>
<text x="0" y="0" font-size="5.1" font-weight="bold" transform="translate(79.92 380.8) rotate(90)" textLength="20.0" lengthAdjust="spacingAndGlyphs">Tw_DDC2</text>
<text x="0" y="0" font-size="5.1" font-weight="bold" transform="translate(94.58 380.8) rotate(90)" textLength="20.0" lengthAdjust="spacingAndGlyphs">Tw_CMC1</text>
<text x="0" y="0" font-size="5.1" font-weight="bold" transform="translate(109.23 380.8) rotate(90)" textLength="20.0" lengthAdjust="spacingAndGlyphs">Tw_CMC2</text>
<text x="0" y="0" font-size="5.1" font-weight="bold" transform="translate(123.88 380.8) rotate(90)" textLength="20.0" lengthAdjust="spacingAndGlyphs">Tw_CMC3</text>
<path d="M44.60 209.98H42.45V210.60H44.60M42.45 210.29H42.01V211.03H44.60M44.60 209.55H41.61V210.66H42.01M44.60 209.23H41.21V210.10H41.61M44.60 211.63H42.62V212.10H44.60M42.62 211.86H41.75V212.66H44.60M41.75 212.26H41.24V213.24H44.60M44.60 211.33H40.51V212.75H41.24M41.21 209.66H36.40V212.04H40.51M44.60 214.60H42.40V215.19H44.60M44.60 213.90H42.00V214.89H42.40M42.00 214.39H40.90V215.77H44.60M44.60 216.24H42.24V216.73H44.60M40.90 215.08H39.90V216.49H42.24M39.90 215.78H39.50V217.49H44.60M44.60 218.53H42.54V219.15H44.60M44.60 219.84H42.23V220.36H44.60M44.60 219.62H41.83V220.10H42.23M42.54 218.84H41.43V219.86H41.83M44.60 218.04H41.03V219.35H41.43M41.03 218.69H40.63V221.12H44.60M44.60 221.52H42.51V222.02H44.60M42.51 221.77H41.75V222.58H44.60M40.63 219.91H39.78V222.18H41.75M44.60 222.90H42.31V223.40H44.60M42.31 223.15H41.91V223.79H44.60M44.60 224.01H41.99V224.52H44.60M44.60 226.06H42.90V226.61H44.60M42.90 226.33H42.50V226.93H44.60M44.60 225.57H42.10V226.63H42.50M42.10 226.10H41.70V227.11H44.60M44.60 225.16H41.30V226.61H41.70M44.60 228.29H42.40V228.87H44.60M44.60 227.58H42.00V228.58H42.40M41.30 225.89H40.90V228.08H42.00M40.90 226.98H40.50V229.45H44.60M41.99 224.26H40.10V228.22H40.50M41.91 223.47H39.70V226.24H40.10M44.60 230.19H42.27V230.72H44.60M44.60 231.91H42.18V232.51H44.60M44.60 231.41H41.78V232.21H42.18M44.60 230.95H41.38V231.81H41.78M41.38 231.38H40.98V233.08H44.60M44.60 233.51H42.66V234.02H44.60M44.60 234.45H42.89V234.92H44.60M42.89 234.68H42.49V235.33H44.60M42.49 235.01H41.99V235.76H44.60M42.66 233.77H40.60V235.38H41.99M40.98 232.23H38.73V234.57H40.60M42.27 230.45H37.97V233.40H38.73M39.70 224.85H37.57V231.93H37.97M39.78 221.04H35.36V228.39H37.57M39.50 216.64H34.80V224.72H35.36M33.40 210.85V220.68M33.40 210.85H36.40M33.40 220.68H34.80M44.60 236.36H42.24V236.92H44.60M42.24 236.64H41.84V237.28H44.60M44.60 238.41H42.93V238.91H44.60M44.60 237.81H42.53V238.66H42.93M44.60 237.54H42.13V238.23H42.53M42.13 237.89H41.73V239.19H44.60M41.84 236.96H38.92V238.54H41.73M44.60 239.54H42.76V240.00H44.60M44.60 240.43H42.65V240.90H44.60M42.65 240.67H41.97V241.68H44.60M44.60 243.26H42.43V243.75H44.60M44.60 242.49H42.03V243.51H42.43M44.60 244.28H42.34V244.75H44.60M42.03 243.00H40.37V244.52H42.34M41.97 241.18H38.58V243.76H40.37M44.60 245.51H42.38V246.21H44.60M44.60 245.00H41.79V245.86H42.38M41.79 245.43H41.39V246.74H44.60M44.60 247.26H42.53V247.77H44.60M41.39 246.09H40.99V247.52H42.53M38.58 242.47H38.18V246.80H40.99M42.76 239.77H36.97V244.63H38.18M38.92 237.75H36.39V242.20H36.97M44.60 249.30H42.61V249.78H44.60M44.60 248.74H41.37V249.54H42.61M44.60 250.08H41.72V250.57H44.60M41.72 250.32H41.32V251.44H44.60M41.37 249.14H40.92V250.88H41.32M44.60 248.19H40.52V250.01H40.92M44.60 252.18H41.83V252.79H44.60M41.83 252.49H40.81V253.22H44.60M40.52 249.10H40.12V252.85H40.81M36.39 239.98H35.67V250.98H40.12M44.60 253.69H42.63V254.20H44.60M42.63 253.94H41.22V254.61H44.60M44.60 255.30H41.84V255.91H44.60M44.60 254.95H41.44V255.60H41.84M44.60 257.06H41.63V257.58H44.60M44.60 256.49H41.01V257.32H41.63M41.44 255.28H40.50V256.90H41.01M41.22 254.28H39.90V256.09H40.50M44.60 258.16H42.23V258.80H44.60M44.60 259.10H42.33V259.57H44.60M42.23 258.48H41.83V259.33H42.33M41.83 258.91H40.23V260.24H44.60M39.90 255.18H39.50V259.57H40.23M44.60 260.95H42.08V261.69H44.60M39.50 257.38H37.20V261.32H42.08M35.67 245.48H33.00V259.35H37.20M44.60 262.36H42.83V262.85H44.60M42.83 262.61H42.43V263.18H44.60M44.60 263.73H43.37V264.19H44.60M43.37 263.96H42.97V264.37H44.60M42.97 264.16H42.57V264.51H44.60M42.43 262.89H40.68V264.34H42.57M44.60 264.75H42.39V265.33H44.60M42.39 265.04H41.93V265.96H44.60M44.60 267.01H42.64V267.65H44.60M42.64 267.33H42.24V268.23H44.60M42.24 267.78H41.84V268.64H44.60M44.60 266.43H41.44V268.21H41.84M41.93 265.50H40.60V267.32H41.44M40.68 263.62H39.65V266.41H40.60M44.60 269.19H42.21V269.69H44.60M44.60 271.24H43.07V271.80H44.60M44.60 270.84H42.67V271.52H43.07M42.67 271.18H42.27V272.41H44.60M44.60 270.45H41.87V271.80H42.27M44.60 270.02H41.47V271.12H41.87M42.21 269.44H39.70V270.57H41.47M44.60 274.41H42.38V274.89H44.60M44.60 275.13H42.28V275.62H44.60M42.38 274.65H41.29V275.37H42.28M44.60 273.63H40.89V275.01H41.29M44.60 272.92H39.64V274.32H40.89M39.64 273.62H39.24V276.31H44.60M39.24 274.96H38.84V277.01H44.60M44.60 278.46H42.10V278.93H44.60M44.60 277.79H41.70V278.70H42.10M38.84 275.99H38.44V278.24H41.70M44.60 280.62H42.46V281.17H44.60M44.60 280.02H41.53V280.90H42.46M44.60 279.43H40.98V280.46H41.53M38.44 277.12H38.04V279.94H40.98M39.70 270.01H37.03V278.53H38.04M44.60 281.64H41.78V282.21H44.60M44.60 283.93H42.81V284.40H44.60M44.60 283.40H41.52V284.17H42.81M44.60 282.85H40.64V283.78H41.52M40.64 283.32H40.13V284.86H44.60M44.60 285.20H42.33V285.75H44.60M42.33 285.48H41.93V286.36H44.60M41.93 285.92H41.34V286.71H44.60M40.13 284.09H39.61V286.32H41.34M41.78 281.93H39.10V285.20H39.61M44.60 288.44H43.13V288.94H44.60M44.60 288.21H42.73V288.69H43.13M42.73 288.45H42.33V289.48H44.60M44.60 287.93H41.21V288.96H42.33M44.60 287.34H40.08V288.44H41.21M39.10 283.56H38.70V287.89H40.08M37.03 274.27H34.10V285.73H38.70M39.65 265.01H32.50V280.00H34.10M31.00 252.41V272.51M31.00 252.41H33.00M31.00 272.51H32.50M29.4 215.76V262.46M29.4 215.76H33.4M29.4 262.46H31.0M44.60 290.14H42.24V290.73H44.60M44.60 289.75H41.84V290.43H42.24M41.84 290.09H41.44V291.26H44.60M44.60 291.63H42.30V292.20H44.60M41.44 290.68H39.24V291.92H42.30M44.60 292.68H42.35V293.15H44.60M39.24 291.30H37.00V292.91H42.35M44.60 293.76H42.70V294.29H44.60M42.70 294.02H42.25V294.85H44.60M44.60 295.56H41.23V296.22H44.60M42.25 294.44H39.54V295.89H41.23M44.60 297.12H42.39V297.69H44.60M44.60 296.61H41.99V297.41H42.39M41.99 297.01H40.30V298.20H44.60M39.54 295.16H36.50V297.60H40.30M35.40 292.10V296.38M35.40 292.10H37.00M35.40 296.38H36.50M44.60 299.29H42.65V299.89H44.60M44.60 298.70H42.25V299.59H42.65M42.25 299.14H41.10V300.26H44.60M44.60 300.99H42.71V301.54H44.60M44.60 300.56H42.31V301.26H42.71M41.10 299.70H40.48V300.91H42.31M44.60 302.52H42.48V303.03H44.60M44.60 301.99H41.03V302.77H42.48M40.48 300.31H39.71V302.38H41.03M44.60 303.30H42.47V303.79H44.60M42.47 303.54H42.07V304.30H44.60M42.07 303.92H41.67V304.48H44.60M44.60 304.86H42.58V305.40H44.60M42.58 305.13H42.18V305.73H44.60M42.18 305.43H41.78V305.95H44.60M41.67 304.20H41.27V305.69H41.78M44.60 306.36H41.60V306.85H44.60M41.27 304.95H40.87V306.60H41.60M44.60 307.90H42.72V308.41H44.60M44.60 307.71H42.32V308.16H42.72M42.32 307.93H41.92V309.05H44.60M44.60 309.64H42.34V310.11H44.60M42.34 309.88H41.94V310.34H44.60M41.92 308.49H41.20V310.11H41.94M44.60 307.33H40.80V309.30H41.20M40.80 308.31H39.28V310.76H44.60M40.87 305.78H37.26V309.54H39.28M44.60 311.62H42.79V312.14H44.60M44.60 311.16H42.39V311.88H42.79M37.26 307.66H36.86V311.52H42.39M44.60 312.72H42.03V313.19H44.60M42.03 312.95H41.63V313.68H44.60M44.60 314.15H41.64V314.63H44.60M41.63 313.32H41.23V314.39H41.64M36.86 309.59H36.46V313.85H41.23M39.71 301.34H34.60V311.72H36.46M44.60 315.49H42.77V316.02H44.60M44.60 315.11H42.37V315.76H42.77M42.37 315.43H41.97V316.45H44.60M44.60 316.83H42.17V317.34H44.60M42.17 317.08H41.77V318.01H44.60M41.97 315.94H40.58V317.55H41.77M44.60 318.69H42.51V319.29H44.60M44.60 321.34H42.62V322.03H44.60M44.60 320.64H42.22V321.68H42.62M44.60 320.13H41.82V321.16H42.22M44.60 319.73H41.42V320.64H41.82M41.42 320.19H41.02V322.69H44.60M42.51 318.99H40.62V321.44H41.02M40.58 316.75H35.88V320.21H40.62M44.60 323.39H42.82V323.85H44.60M42.82 323.62H40.68V324.37H44.60M44.60 326.37H42.42V326.99H44.60M44.60 325.57H42.02V326.68H42.42M42.02 326.13H41.62V327.50H44.60M44.60 324.97H40.96V326.81H41.62M40.68 324.00H38.84V325.89H40.96M44.60 328.01H41.96V328.56H44.60M41.96 328.28H41.56V329.24H44.60M41.56 328.76H41.16V329.82H44.60M44.60 330.38H42.74V331.03H44.60M42.74 330.70H42.34V331.46H44.60M42.34 331.08H41.25V331.72H44.60M41.16 329.29H40.76V331.40H41.25M40.76 330.35H39.85V332.23H44.60M44.60 332.91H42.82V333.41H44.60M42.82 333.16H42.42V333.71H44.60M42.42 333.43H41.59V334.10H44.60M41.59 333.76H41.19V334.68H44.60M39.85 331.29H39.45V334.22H41.19M38.84 324.94H34.40V332.76H39.45M35.88 318.48H34.00V328.85H34.40M32.90 306.53V323.66M32.90 306.53H34.60M32.90 323.66H34.00M44.60 335.36H42.75V335.96H44.60M42.75 335.66H42.35V336.55H44.60M42.35 336.10H41.95V337.06H44.60M41.95 336.58H41.55V337.39H44.60M44.60 338.34H41.81V338.82H44.60M41.81 338.58H41.41V338.94H44.60M44.60 339.69H42.85V340.30H44.60M44.60 339.27H42.45V339.99H42.85M44.60 339.10H42.05V339.63H42.45M41.41 338.76H40.90V339.37H42.05M44.60 337.74H40.50V339.06H40.90M41.55 336.99H39.51V338.40H40.50M44.60 341.35H41.84V341.89H44.60M44.60 342.70H41.85V343.19H44.60M41.84 341.62H40.37V342.94H41.85M44.60 340.90H39.53V342.28H40.37M44.60 343.69H41.38V344.35H44.60M44.60 344.82H42.33V345.29H44.60M42.33 345.05H41.93V345.79H44.60M41.38 344.02H40.16V345.42H41.93M44.60 346.80H42.50V347.26H44.60M44.60 346.44H42.10V347.03H42.50M42.10 346.74H41.70V347.67H44.60M44.60 346.20H41.30V347.20H41.70M44.60 348.44H42.27V348.90H44.60M44.60 348.01H41.87V348.67H42.27M41.30 346.70H40.11V348.34H41.87M40.16 344.72H39.60V347.52H40.11M39.53 341.59H37.85V346.12H39.60M44.60 350.23H42.48V351.06H44.60M44.60 349.71H42.08V350.65H42.48M42.08 350.18H41.68V351.84H44.60M41.68 351.01H41.28V352.41H44.60M44.60 352.99H41.64V353.75H44.60M41.28 351.71H39.95V353.37H41.64M44.60 349.34H38.87V352.54H39.95M38.87 350.94H38.47V354.56H44.60M37.85 343.86H36.69V352.75H38.47M39.51 337.70H34.50V348.30H36.69M44.60 355.21H42.73V355.69H44.60M42.73 355.45H42.16V356.12H44.60M42.16 355.78H41.76V356.51H44.60M41.76 356.15H41.08V356.88H44.60M44.60 357.40H42.15V357.92H44.60M41.08 356.51H40.68V357.66H42.15M40.68 357.09H39.85V358.42H44.60M44.60 359.14H42.59V359.60H44.60M44.60 361.39H42.64V361.93H44.60M44.60 360.76H41.89V361.66H42.64M44.60 360.10H41.49V361.21H41.89M44.60 362.18H42.64V362.65H44.60M41.49 360.65H41.09V362.41H42.64M44.60 364.47H42.51V364.96H44.60M44.60 363.82H41.86V364.72H42.51M41.86 364.27H40.47V365.40H44.60M44.60 363.27H39.73V364.83H40.47M41.09 361.53H38.75V364.05H39.73M42.59 359.37H38.35V362.79H38.75M39.85 357.75H37.95V361.08H38.35M44.60 365.92H42.18V366.41H44.60M42.18 366.16H40.95V366.85H44.60M37.95 359.41H37.55V366.51H40.95M44.60 367.20H41.96V367.67H44.60M44.60 368.77H42.86V369.30H44.60M44.60 368.32H42.46V369.04H42.86M44.60 368.09H42.06V368.68H42.46M42.06 368.38H41.13V369.88H44.60M41.96 367.44H40.73V369.13H41.13M44.60 371.22H42.18V371.68H44.60M44.60 370.56H41.02V371.45H42.18M40.73 368.29H39.49V371.00H41.02M37.55 362.96H35.40V369.64H39.49M44.60 371.87H41.64V372.35H44.60M44.60 373.52H42.62V373.99H44.60M44.60 373.04H42.22V373.75H42.62M41.64 372.11H40.08V373.40H42.22M44.60 374.90H41.84V375.47H44.60M44.60 374.52H41.22V375.19H41.84M41.22 374.85H40.67V376.06H44.60M44.60 376.97H42.92V377.49H44.60M44.60 376.72H42.52V377.23H42.92M44.60 376.40H42.12V376.97H42.52M42.12 376.69H41.72V378.20H44.60M40.67 375.46H40.27V377.44H41.72M40.08 372.76H39.43V376.45H40.27M35.40 366.30H35.00V374.60H39.43M32.90 343.00V370.45M32.90 343.00H34.50M32.90 370.45H35.00M29.2 294.24V356.73M29.2 294.24H35.4M29.2 315.10H32.9M29.2 356.73H32.9M29.4 239.11H22.6V315.1H29.2" fill="none" stroke="#000" stroke-width="1.0"/>
<rect x="41.80" y="209.00" width="3.40" height="169.50" fill="#000" />
<line x1="183.40" y1="238.20" x2="183.40" y2="366.50" stroke="#111" stroke-width="1.35" />
<line x1="180.60" y1="365.90" x2="375.10" y2="365.90" stroke="#111" stroke-width="1.35" />
<line x1="180.30" y1="365.90" x2="183.40" y2="365.90" stroke="#222" stroke-width="1.0" />
<text x="179.20" y="369.10" font-size="8.8" font-weight="bold" text-anchor="end" fill="#000" >0</text>
<line x1="180.30" y1="340.36" x2="183.40" y2="340.36" stroke="#222" stroke-width="1.0" />
<text x="179.20" y="343.56" font-size="8.8" font-weight="bold" text-anchor="end" fill="#000" >1</text>
<line x1="180.30" y1="314.82" x2="183.40" y2="314.82" stroke="#222" stroke-width="1.0" />
<text x="179.20" y="318.02" font-size="8.8" font-weight="bold" text-anchor="end" fill="#000" >2</text>
<line x1="180.30" y1="289.28" x2="183.40" y2="289.28" stroke="#222" stroke-width="1.0" />
<text x="179.20" y="292.48" font-size="8.8" font-weight="bold" text-anchor="end" fill="#000" >3</text>
<line x1="180.30" y1="263.74" x2="183.40" y2="263.74" stroke="#222" stroke-width="1.0" />
<text x="179.20" y="266.94" font-size="8.8" font-weight="bold" text-anchor="end" fill="#000" >4</text>
<line x1="180.30" y1="238.20" x2="183.40" y2="238.20" stroke="#222" stroke-width="1.0" />
<text x="179.20" y="241.40" font-size="8.8" font-weight="bold" text-anchor="end" fill="#000" >5</text>
<line x1="196.50" y1="365.90" x2="196.50" y2="368.60" stroke="#222" stroke-width="1.0" />
<rect x="187.50" y="340.36" width="9.00" height="25.54" fill="#a3a3a6" />
<rect x="196.90" y="342.99" width="8.80" height="22.91" fill="#000" />
<line x1="192.00" y1="333.21" x2="192.00" y2="347.51" stroke="#000" stroke-width="1.0" />
<line x1="190.90" y1="333.21" x2="193.10" y2="333.21" stroke="#000" stroke-width="1.3" />
<line x1="190.90" y1="347.51" x2="193.10" y2="347.51" stroke="#000" stroke-width="1.3" />
<line x1="201.30" y1="335.33" x2="201.30" y2="342.99" stroke="#000" stroke-width="1.0" />
<line x1="200.20" y1="335.33" x2="202.40" y2="335.33" stroke="#000" stroke-width="1.3" />
<text x="0" y="0" font-size="7.6" font-weight="bold" font-style="italic" text-anchor="end" transform="translate(198.50 376.4) rotate(-45)">TwDXR</text>
<line x1="223.90" y1="365.90" x2="223.90" y2="368.60" stroke="#222" stroke-width="1.0" />
<rect x="214.90" y="340.36" width="9.00" height="25.54" fill="#a3a3a6" />
<rect x="224.30" y="262.97" width="8.80" height="102.93" fill="#000" />
<line x1="219.40" y1="336.53" x2="219.40" y2="344.19" stroke="#000" stroke-width="1.0" />
<line x1="218.30" y1="336.53" x2="220.50" y2="336.53" stroke="#000" stroke-width="1.3" />
<line x1="218.30" y1="344.19" x2="220.50" y2="344.19" stroke="#000" stroke-width="1.3" />
<line x1="228.70" y1="259.14" x2="228.70" y2="262.97" stroke="#000" stroke-width="1.0" />
<line x1="227.60" y1="259.14" x2="229.80" y2="259.14" stroke="#000" stroke-width="1.3" />
<text x="0" y="0" font-size="7.6" font-weight="bold" font-style="italic" text-anchor="end" transform="translate(225.90 376.4) rotate(-45)">TwDXS</text>
<line x1="251.30" y1="365.90" x2="251.30" y2="368.60" stroke="#222" stroke-width="1.0" />
<rect x="242.30" y="340.36" width="9.00" height="25.54" fill="#a3a3a6" />
<rect x="251.70" y="296.94" width="8.80" height="68.96" fill="#000" />
<line x1="246.80" y1="336.02" x2="246.80" y2="344.70" stroke="#000" stroke-width="1.0" />
<line x1="245.70" y1="336.02" x2="247.90" y2="336.02" stroke="#000" stroke-width="1.3" />
<line x1="245.70" y1="344.70" x2="247.90" y2="344.70" stroke="#000" stroke-width="1.3" />
<line x1="256.10" y1="290.05" x2="256.10" y2="296.94" stroke="#000" stroke-width="1.0" />
<line x1="255.00" y1="290.05" x2="257.20" y2="290.05" stroke="#000" stroke-width="1.3" />
<text x="0" y="0" font-size="7.6" font-weight="bold" font-style="italic" text-anchor="end" transform="translate(253.30 376.4) rotate(-45)">TwHMGS</text>
<line x1="278.70" y1="365.90" x2="278.70" y2="368.60" stroke="#222" stroke-width="1.0" />
<rect x="269.70" y="340.36" width="9.00" height="25.54" fill="#a3a3a6" />
<rect x="279.10" y="345.47" width="8.80" height="20.43" fill="#000" />
<line x1="274.20" y1="335.25" x2="274.20" y2="345.47" stroke="#000" stroke-width="1.0" />
<line x1="273.10" y1="335.25" x2="275.30" y2="335.25" stroke="#000" stroke-width="1.3" />
<line x1="273.10" y1="345.47" x2="275.30" y2="345.47" stroke="#000" stroke-width="1.3" />
<line x1="283.50" y1="338.32" x2="283.50" y2="345.47" stroke="#000" stroke-width="1.0" />
<line x1="282.40" y1="338.32" x2="284.60" y2="338.32" stroke="#000" stroke-width="1.3" />
<text x="0" y="0" font-size="7.6" font-weight="bold" font-style="italic" text-anchor="end" transform="translate(280.70 376.4) rotate(-45)">TwHMGR</text>
<line x1="306.10" y1="365.90" x2="306.10" y2="368.60" stroke="#222" stroke-width="1.0" />
<rect x="297.10" y="340.36" width="9.00" height="25.54" fill="#a3a3a6" />
<rect x="306.50" y="312.01" width="8.80" height="53.89" fill="#000" />
<line x1="301.60" y1="334.23" x2="301.60" y2="346.49" stroke="#000" stroke-width="1.0" />
<line x1="300.50" y1="334.23" x2="302.70" y2="334.23" stroke="#000" stroke-width="1.3" />
<line x1="300.50" y1="346.49" x2="302.70" y2="346.49" stroke="#000" stroke-width="1.3" />
<line x1="310.90" y1="301.79" x2="310.90" y2="312.01" stroke="#000" stroke-width="1.0" />
<line x1="309.80" y1="301.79" x2="312.00" y2="301.79" stroke="#000" stroke-width="1.3" />
<text x="0" y="0" font-size="7.6" font-weight="bold" font-style="italic" text-anchor="end" transform="translate(308.10 376.4) rotate(-45)">TwGGPS</text>
<line x1="333.50" y1="365.90" x2="333.50" y2="368.60" stroke="#222" stroke-width="1.0" />
<rect x="324.50" y="340.36" width="9.00" height="25.54" fill="#a3a3a6" />
<rect x="333.90" y="311.50" width="8.80" height="54.40" fill="#000" />
<line x1="329.00" y1="337.30" x2="329.00" y2="343.42" stroke="#000" stroke-width="1.0" />
<line x1="327.90" y1="337.30" x2="330.10" y2="337.30" stroke="#000" stroke-width="1.3" />
<line x1="327.90" y1="343.42" x2="330.10" y2="343.42" stroke="#000" stroke-width="1.3" />
<line x1="338.30" y1="305.37" x2="338.30" y2="311.50" stroke="#000" stroke-width="1.0" />
<line x1="337.20" y1="305.37" x2="339.40" y2="305.37" stroke="#000" stroke-width="1.3" />
<text x="0" y="0" font-size="7.6" font-weight="bold" font-style="italic" text-anchor="end" transform="translate(335.50 376.4) rotate(-45)">TwFPS</text>
<line x1="360.90" y1="365.90" x2="360.90" y2="368.60" stroke="#222" stroke-width="1.0" />
<rect x="351.90" y="340.36" width="9.00" height="25.54" fill="#a3a3a6" />
<rect x="361.30" y="339.21" width="8.80" height="26.69" fill="#000" />
<line x1="356.40" y1="338.44" x2="356.40" y2="342.28" stroke="#000" stroke-width="1.0" />
<line x1="355.30" y1="338.44" x2="357.50" y2="338.44" stroke="#000" stroke-width="1.3" />
<line x1="355.30" y1="342.28" x2="357.50" y2="342.28" stroke="#000" stroke-width="1.3" />
<line x1="365.70" y1="336.15" x2="365.70" y2="339.21" stroke="#000" stroke-width="1.0" />
<line x1="364.60" y1="336.15" x2="366.80" y2="336.15" stroke="#000" stroke-width="1.3" />
<text x="0" y="0" font-size="7.6" font-weight="bold" font-style="italic" text-anchor="end" transform="translate(362.90 376.4) rotate(-45)">TwIDI</text>
<path d="M219.70 257.40 V255.60 H228.50 V257.40" fill="none" stroke="#000" stroke-width="1"/>
<g fill="#000"><polygon points="220.85,250.58 221.35,251.79 222.66,251.90 221.66,252.75 221.97,254.02 220.85,253.34 219.73,254.02 220.04,252.75 219.04,251.90 220.35,251.79"/><polygon points="224.20,250.58 224.70,251.79 226.01,251.90 225.01,252.75 225.32,254.02 224.20,253.34 223.08,254.02 223.39,252.75 222.39,251.90 223.70,251.79"/><polygon points="227.55,250.58 228.05,251.79 229.36,251.90 228.36,252.75 228.67,254.02 227.55,253.34 226.43,254.02 226.74,252.75 225.74,251.90 227.05,251.79"/></g>
<path d="M247.10 288.50 V287.00 H255.90 V288.50" fill="none" stroke="#000" stroke-width="1"/>
<g fill="#000"><polygon points="251.60,281.89 252.10,283.09 253.41,283.20 252.41,284.05 252.72,285.32 251.60,284.64 250.48,285.32 250.79,284.05 249.79,283.20 251.10,283.09"/></g>
<path d="M301.90 298.80 V297.00 H310.70 V298.80" fill="none" stroke="#000" stroke-width="1"/>
<g fill="#000"><polygon points="306.40,291.99 306.90,293.19 308.21,293.30 307.21,294.15 307.52,295.42 306.40,294.74 305.28,295.42 305.59,294.15 304.59,293.30 305.90,293.19"/></g>
<path d="M329.30 301.60 V300.10 H338.10 V301.60" fill="none" stroke="#000" stroke-width="1"/>
<g fill="#000"><polygon points="333.80,295.09 334.30,296.29 335.61,296.40 334.61,297.25 334.92,298.52 333.80,297.84 332.68,298.52 332.99,297.25 331.99,296.40 333.30,296.29"/></g>
<rect x="331.10" y="234.10" width="11.80" height="4.70" fill="#a3a3a6" />
<rect x="331.10" y="244.20" width="11.80" height="4.50" fill="#000" />
<text x="350.30" y="239.30" font-size="7.6" font-weight="bold" text-anchor="start" fill="#000" textLength="21.0" lengthAdjust="spacingAndGlyphs" >DDCs</text>
<text x="350.30" y="249.00" font-size="7.6" font-weight="bold" text-anchor="start" fill="#000" textLength="21.0" lengthAdjust="spacingAndGlyphs" >CMCs</text>
<text x="0" y="0" font-size="7.4" font-weight="bold" transform="translate(164.9 351.6) rotate(-90)" textLength="99.8" lengthAdjust="spacing">Relative&#160; gene expression</text>
<line x1="402.60" y1="238.10" x2="402.60" y2="365.20" stroke="#111" stroke-width="1.3" />
<line x1="402.00" y1="364.60" x2="654.50" y2="364.60" stroke="#111" stroke-width="1.3" />
<line x1="399.00" y1="360.80" x2="402.60" y2="360.80" stroke="#111" stroke-width="1.4" />
<text x="398.40" y="362.90" font-size="6.0" font-weight="bold" text-anchor="end" fill="#000" >-3500</text>
<line x1="399.00" y1="352.30" x2="402.60" y2="352.30" stroke="#111" stroke-width="1.4" />
<text x="398.40" y="354.40" font-size="6.0" font-weight="bold" text-anchor="end" fill="#000" >-3000</text>
<line x1="399.00" y1="343.80" x2="402.60" y2="343.80" stroke="#111" stroke-width="1.4" />
<text x="398.40" y="345.90" font-size="6.0" font-weight="bold" text-anchor="end" fill="#000" >-2500</text>
<line x1="399.00" y1="335.30" x2="402.60" y2="335.30" stroke="#111" stroke-width="1.4" />
<text x="398.40" y="337.40" font-size="6.0" font-weight="bold" text-anchor="end" fill="#000" >-2000</text>
<line x1="399.00" y1="326.80" x2="402.60" y2="326.80" stroke="#111" stroke-width="1.4" />
<text x="398.40" y="328.90" font-size="6.0" font-weight="bold" text-anchor="end" fill="#000" >-1500</text>
<line x1="399.00" y1="318.30" x2="402.60" y2="318.30" stroke="#111" stroke-width="1.4" />
<text x="398.40" y="320.40" font-size="6.0" font-weight="bold" text-anchor="end" fill="#000" >-1000</text>
<line x1="399.00" y1="309.80" x2="402.60" y2="309.80" stroke="#111" stroke-width="1.4" />
<text x="398.40" y="311.90" font-size="6.0" font-weight="bold" text-anchor="end" fill="#000" >-500</text>
<line x1="399.00" y1="301.30" x2="402.60" y2="301.30" stroke="#111" stroke-width="1.4" />
<text x="398.40" y="303.40" font-size="6.0" font-weight="bold" text-anchor="end" fill="#000" >0</text>
<line x1="399.00" y1="292.80" x2="402.60" y2="292.80" stroke="#111" stroke-width="1.4" />
<text x="398.40" y="294.90" font-size="6.0" font-weight="bold" text-anchor="end" fill="#000" >500</text>
<line x1="399.00" y1="284.30" x2="402.60" y2="284.30" stroke="#111" stroke-width="1.4" />
<text x="398.40" y="286.40" font-size="6.0" font-weight="bold" text-anchor="end" fill="#000" >1000</text>
<line x1="399.00" y1="275.80" x2="402.60" y2="275.80" stroke="#111" stroke-width="1.4" />
<text x="398.40" y="277.90" font-size="6.0" font-weight="bold" text-anchor="end" fill="#000" >1500</text>
<line x1="399.00" y1="267.30" x2="402.60" y2="267.30" stroke="#111" stroke-width="1.4" />
<text x="398.40" y="269.40" font-size="6.0" font-weight="bold" text-anchor="end" fill="#000" >2000</text>
<line x1="399.00" y1="258.80" x2="402.60" y2="258.80" stroke="#111" stroke-width="1.4" />
<text x="398.40" y="260.90" font-size="6.0" font-weight="bold" text-anchor="end" fill="#000" >2500</text>
<line x1="399.00" y1="250.30" x2="402.60" y2="250.30" stroke="#111" stroke-width="1.4" />
<text x="398.40" y="252.40" font-size="6.0" font-weight="bold" text-anchor="end" fill="#000" >3000</text>
<line x1="399.00" y1="241.80" x2="402.60" y2="241.80" stroke="#111" stroke-width="1.4" />
<text x="398.40" y="243.90" font-size="6.0" font-weight="bold" text-anchor="end" fill="#000" >3500</text>
<line x1="418.70" y1="364.60" x2="418.70" y2="367.80" stroke="#111" stroke-width="1.4" />
<text x="418.70" y="373.10" font-size="6.0" font-weight="bold" text-anchor="middle" fill="#000" >-3000</text>
<line x1="437.20" y1="364.60" x2="437.20" y2="367.80" stroke="#111" stroke-width="1.4" />
<text x="437.20" y="373.10" font-size="6.0" font-weight="bold" text-anchor="middle" fill="#000" >-2500</text>
<line x1="455.70" y1="364.60" x2="455.70" y2="367.80" stroke="#111" stroke-width="1.4" />
<text x="455.70" y="373.10" font-size="6.0" font-weight="bold" text-anchor="middle" fill="#000" >-2000</text>
<line x1="474.20" y1="364.60" x2="474.20" y2="367.80" stroke="#111" stroke-width="1.4" />
<text x="474.20" y="373.10" font-size="6.0" font-weight="bold" text-anchor="middle" fill="#000" >-1500</text>
<line x1="492.70" y1="364.60" x2="492.70" y2="367.80" stroke="#111" stroke-width="1.4" />
<text x="492.70" y="373.10" font-size="6.0" font-weight="bold" text-anchor="middle" fill="#000" >-1000</text>
<line x1="511.20" y1="364.60" x2="511.20" y2="367.80" stroke="#111" stroke-width="1.4" />
<text x="511.20" y="373.10" font-size="6.0" font-weight="bold" text-anchor="middle" fill="#000" >-500</text>
<line x1="529.70" y1="364.60" x2="529.70" y2="367.80" stroke="#111" stroke-width="1.4" />
<text x="529.70" y="373.10" font-size="6.0" font-weight="bold" text-anchor="middle" fill="#000" >0</text>
<line x1="548.20" y1="364.60" x2="548.20" y2="367.80" stroke="#111" stroke-width="1.4" />
<text x="548.20" y="373.10" font-size="6.0" font-weight="bold" text-anchor="middle" fill="#000" >500</text>
<line x1="566.70" y1="364.60" x2="566.70" y2="367.80" stroke="#111" stroke-width="1.4" />
<text x="566.70" y="373.10" font-size="6.0" font-weight="bold" text-anchor="middle" fill="#000" >1000</text>
<line x1="585.20" y1="364.60" x2="585.20" y2="367.80" stroke="#111" stroke-width="1.4" />
<text x="585.20" y="373.10" font-size="6.0" font-weight="bold" text-anchor="middle" fill="#000" >1500</text>
<line x1="603.70" y1="364.60" x2="603.70" y2="367.80" stroke="#111" stroke-width="1.4" />
<text x="603.70" y="373.10" font-size="6.0" font-weight="bold" text-anchor="middle" fill="#000" >2000</text>
<line x1="622.20" y1="364.60" x2="622.20" y2="367.80" stroke="#111" stroke-width="1.4" />
<text x="622.20" y="373.10" font-size="6.0" font-weight="bold" text-anchor="middle" fill="#000" >2500</text>
<line x1="640.70" y1="364.60" x2="640.70" y2="367.80" stroke="#111" stroke-width="1.4" />
<text x="640.70" y="373.10" font-size="6.0" font-weight="bold" text-anchor="middle" fill="#000" >3000</text>
<line x1="402.60" y1="301.30" x2="654.70" y2="301.30" stroke="#111" stroke-width="1.2" />
<line x1="530.00" y1="238.20" x2="530.00" y2="364.60" stroke="#111" stroke-width="1.2" />
<ellipse cx="530.3" cy="300.8" rx="116.2" ry="58.0" fill="none" stroke="#2e2020" stroke-width="1.3"/>
<rect x="474.00" y="310.90" width="3.00" height="3.00" fill="#000" />
<rect x="514.00" y="305.90" width="3.00" height="3.00" fill="#000" />
<rect x="516.50" y="316.60" width="3.00" height="3.00" fill="#000" />
<path d="M562.30 294.00 L564.10 291.00 L565.90 294.00 Z" fill="#1010d0"/>
<path d="M566.90 297.30 L568.70 294.30 L570.50 297.30 Z" fill="#1010d0"/>
<path d="M558.20 303.00 L560.00 300.00 L561.80 303.00 Z" fill="#1010d0"/>
<rect x="664.50" y="296.80" width="2.80" height="2.80" fill="#000" />
<path d="M664.1 305.4 L665.9 302.4 L667.7 305.4 Z" fill="#1010d0"/>
<text x="670.90" y="300.30" font-size="5.7" font-weight="bold" text-anchor="start" fill="#000" >CMC</text>
<text x="670.90" y="306.10" font-size="5.7" font-weight="bold" text-anchor="start" fill="#000" >DDC</text>
<text x="529.40" y="379.50" font-size="5.9" font-weight="bold" text-anchor="middle" fill="#000" >t[1]</text>
<text x="0" y="0" font-size="6.0" font-weight="bold" text-anchor="middle" transform="translate(382.6 299.5) rotate(-90)">to[1]</text>
</svg></body></html>
